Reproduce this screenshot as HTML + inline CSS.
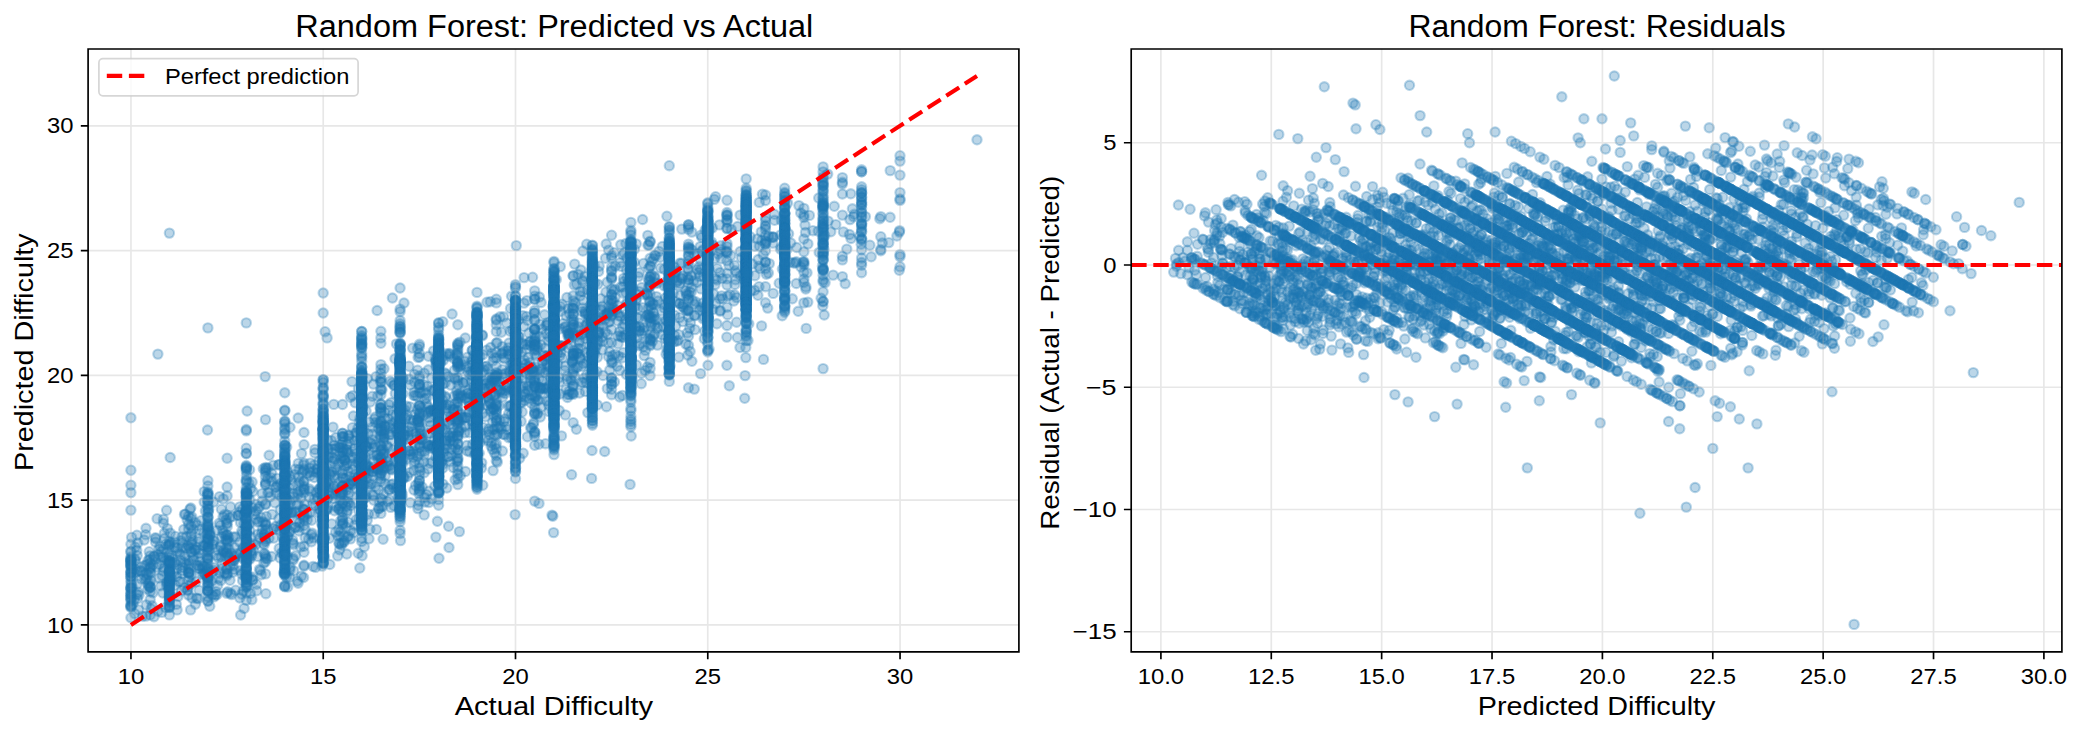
<!DOCTYPE html>
<html><head><meta charset="utf-8"><title>Random Forest</title><style>
html,body{margin:0;padding:0;background:#fff;width:2082px;height:734px;overflow:hidden}
svg{display:block}
text{font-family:"Liberation Sans",sans-serif;fill:#000}
</style></head><body>
<svg width="2082" height="734" viewBox="0 0 2082 734">
<defs><marker id="m" markerUnits="userSpaceOnUse" markerWidth="1" markerHeight="1" refX="0" refY="0" overflow="visible"><circle r="4.66" fill="#1f77b4" fill-opacity=".3" stroke="#1f77b4" stroke-opacity=".3" stroke-width="2.08"/></marker><clipPath id="cl"><rect x="88.1" y="49" width="930.8" height="602.9"/></clipPath><clipPath id="cr"><rect x="1131.2" y="49" width="930.7" height="602.9"/></clipPath></defs>
<g clip-path="url(#cl)"><path d="M130.9 417.8 130.9 470.2 130.9 485.2 130.9 492.6 130.9 510.1 130.9 544.3 130.9 551.4 130.9 551.9 130.9 557 130.9 558.6 130.9 559.5 130.9 560 130.9 560.9 130.9 560.9 130.9 561.6 130.9 562 130.9 564.2 130.9 565.1 130.9 565.4 130.9 566.2 130.9 566.3 130.9 569.5 130.9 572.2 130.9 573 130.9 573.2 130.9 576.5 130.9 576.6 130.9 576.8 130.9 580.2 130.9 583.1 130.9 587.5 130.9 587.6 130.9 588.1 130.9 589.1 130.9 591.4 130.9 593.6 130.9 594.7 130.9 595.3 130.9 597.6 130.9 597.9 130.9 599.3 130.9 601.1 130.9 605.1 130.9 605.9 130.9 606.4 130.9 607.4 130.9 617.7 131.2 572.3 131.5 584.1 131.6 537.4 131.8 567.7 132.3 587.3 132.9 604.3 133.8 573.4 134.2 600.1 134.7 559.1 134.8 613.7 135.3 547.1 135.4 569.2 135.6 560.8 136.8 550.4 136.9 594.4 136.9 535.2 137.2 555.6 137.2 584 137.4 571.7 137.5 598.7 137.8 543 138.4 592.3 138.6 609.9 139.1 595 140.1 570.4 140.7 571.5 140.8 567 141.3 578.9 142.5 616.2 143.8 575.2 144.2 540 144.9 565.4 145.5 579.5 145.7 534.7 145.9 616.1 146 528.3 146.3 573.2 146.3 604.9 146.6 578.2 146.9 564.6 147.9 589.1 147.9 560.8 147.9 583.7 148 574.6 148.3 585.4 149.2 551.7 149.5 582.9 149.5 559.5 150.2 555.9 150.2 566.5 150.2 567.8 150.2 568.8 150.2 572.3 150.2 586.8 150.2 587.3 150.2 587.4 150.2 591.7 150.2 599.6 150.2 614.9 150.2 562.6 150.9 573.1 150.9 580.8 151.1 609 152.1 605.8 152.9 592.8 153.1 565 153.7 556.9 154 616.7 154.4 556 155.1 559.2 155.4 537.7 155.5 542.1 155.8 538.8 156.7 567 157.1 518.7 157.9 354.1 158 611.2 158.3 554.5 158.9 549 159.1 578.1 159.4 564.5 160.1 546.6 160.4 557.3 160.9 585.8 161.3 551.4 161.7 612.4 162.1 575.4 162.9 593 163.1 571 163.2 557.5 163.4 523.3 163.4 519.3 163.4 549.1 163.7 568.2 164.3 533.3 164.8 538.4 164.8 561.1 165.6 607.4 165.7 544.1 166.4 584.9 166.6 510.3 166.7 582.4 167.1 560.1 167.4 528.6 167.9 552 167.9 583.8 168.5 589 168.6 545.6 169.3 557.4 169.4 233.1 169.4 541.6 169.4 544.1 169.4 544.9 169.4 555.2 169.4 560.2 169.4 561.7 169.4 561.7 169.4 561.8 169.4 562.5 169.4 563.7 169.4 564.2 169.4 568.8 169.4 569.5 169.4 570.7 169.4 571.3 169.4 571.3 169.4 572 169.4 572.3 169.4 573.3 169.4 574 169.4 576.4 169.4 578 169.4 580 169.4 580.1 169.4 580.1 169.4 580.6 169.4 580.8 169.4 581.9 169.4 582.9 169.4 583.7 169.4 584.1 169.4 584.3 169.4 585.6 169.4 586.3 169.4 587.1 169.4 588 169.4 589.7 169.4 590.2 169.4 591.2 169.4 593 169.4 593.7 169.4 594.8 169.4 595.4 169.4 596.4 169.4 596.9 169.4 597 169.4 597.5 169.4 599.7 169.4 600.4 169.4 601 169.4 602.4 169.4 605.6 169.4 606.2 169.4 607.4 169.4 607.5 169.4 614.9 169.6 576.3 169.7 580.1 170.2 457.5 170.2 533.1 170.9 578 171.1 576.1 171.1 542.6 171.4 562.5 171.6 555.4 173.4 572.3 174.3 562.8 174.6 542.3 174.9 547.2 175.2 585.3 175.2 562.5 175.3 536.4 176.3 604.4 176.5 576.4 176.8 569 177.1 609.9 177.1 564.6 177.2 551.5 177.4 547.9 178 596.4 178.7 581.7 179.3 553.3 180 581.5 180.6 560.4 180.7 554.6 181.2 540.6 181.4 590.7 182 547.2 182.2 536.9 182.2 570.6 182.3 542.8 182.5 573.5 182.7 567.4 183.8 529.5 184.3 562.8 184.5 514.4 184.8 587.6 184.9 556.3 185.3 514.2 186.2 548.1 186.2 563.8 186.4 536.5 187.2 519.9 187.2 590 187.8 590.1 187.9 545.4 188.6 516.1 188.6 524.2 188.6 529 188.6 546.6 188.6 561 188.6 565.8 188.6 568.7 188.6 572.2 188.6 572.6 188.6 573 188.6 580.4 188.6 595.1 188.9 577 188.9 585.7 189.6 563.2 189.8 573.2 190 548.5 190 509.3 190.6 609.9 190.6 551.9 190.8 508 190.9 525.9 190.9 518.6 191.1 535.9 191.3 533.4 191.5 583.3 191.5 574.6 191.6 542.5 191.7 552.4 191.8 544.5 191.8 516.9 192.1 598.1 192.3 539.8 193.1 556.7 193.5 529.3 193.6 559.9 194.6 549.6 195.4 522.8 195.4 604.2 195.4 550.2 196 581.8 196.7 598.1 197.1 547.8 197.1 565.5 197.4 525.4 198.1 541.7 198.1 598.6 198.2 557.2 198.6 568.3 198.7 565.8 198.9 553.3 199.1 590.4 199.3 529.8 199.4 538.9 199.5 568.4 199.6 561.4 199.9 550.1 201.2 520.7 202.3 574.5 202.5 568.2 202.7 565.9 203.3 545.5 203.8 533.1 203.9 573.6 204.2 502.1 204.2 491.6 204.3 573.3 204.3 566.2 204.5 546 205.3 574.9 205.4 511.1 206.2 573.6 207.1 571.3 207.2 533.1 207.2 558.2 207.5 430 207.9 327.9 207.9 480.7 207.9 486 207.9 492 207.9 493.5 207.9 493.7 207.9 495.3 207.9 495.5 207.9 500.5 207.9 500.6 207.9 501.3 207.9 504.8 207.9 506.2 207.9 508.8 207.9 512.4 207.9 516.7 207.9 517.2 207.9 517.9 207.9 522 207.9 523.6 207.9 524.7 207.9 526.4 207.9 526.7 207.9 527.6 207.9 529 207.9 530.8 207.9 534.1 207.9 537.2 207.9 538.4 207.9 538.9 207.9 540 207.9 542.6 207.9 544.6 207.9 546.8 207.9 546.9 207.9 548 207.9 550.1 207.9 551.8 207.9 555.8 207.9 557.9 207.9 558.8 207.9 559.9 207.9 563.8 207.9 569.1 207.9 569.8 207.9 576.8 207.9 577.4 207.9 577.7 207.9 579.8 207.9 580.3 207.9 582.8 207.9 583.6 207.9 585.9 207.9 586.4 207.9 590.2 207.9 590.6 207.9 591.1 207.9 591.2 207.9 596.7 207.9 600.9 207.9 601.3 207.9 567.9 208.1 576.7 208.3 511.6 208.7 509.5 209.4 540.8 209.6 549.2 209.8 606.2 209.8 532.1 210 535.2 210 534.9 211.7 581 212.2 594.9 212.5 571.6 213 544.4 213.1 541 213.6 502 213.9 567.6 214 540.6 214 596.9 214.1 570.1 215.3 594.8 215.9 591.6 216.8 555.5 216.8 594.7 217.1 530.4 217.6 585.4 217.9 550.1 218.4 557.9 218.5 578.6 219.3 523.2 219.5 496.7 219.9 573.2 220.4 547 220.4 525.3 220.7 546 220.8 580.4 221.2 556.8 221.4 509.3 221.6 536.4 222 568.7 222 563.3 222.7 530.1 223.1 516.8 223.3 533.1 223.3 550.4 223.3 498.9 223.5 552.3 224.6 573.1 224.6 514.5 225.5 540 225.5 535.8 225.8 556.8 226.2 553 226.2 520 226.2 551.9 226.5 593.2 226.7 524 226.7 569.2 226.8 575.7 227.1 458.2 227.1 487 227.1 495.9 227.1 515.1 227.1 522.9 227.1 534.8 227.1 535 227.1 539.4 227.1 540.3 227.1 542 227.1 547.7 227.1 554 227.1 568.9 227.1 573.7 227.1 573.9 227.3 526.5 227.6 591.7 228 555.7 228.7 537.7 228.9 549.1 229 557 229.2 541.9 229.8 517.6 230 580.3 230.5 506.8 230.5 593.1 230.6 565.6 231 553 231.5 594.6 232 560.3 232.6 516.4 232.9 572.1 232.9 565.7 233.2 537 233.8 560.3 234.1 569.4 234.4 560.1 234.5 547.5 234.9 557.6 235.7 536.9 235.7 590.2 236 556.2 237 553.8 238.1 515.5 238.2 515.3 239.1 512.2 239.7 542.1 239.8 506.9 239.9 598 240.4 570.7 240.5 522.6 240.6 615 240.7 552.6 241.7 531.4 241.7 574.3 241.7 594.1 242.4 509 242.5 533.2 242.6 558.3 242.6 580.7 242.8 547.8 243 556.8 243.2 590.9 243.8 515.2 244 523.7 244.1 608.4 244.2 547.7 244.4 571.1 245 512.8 245.5 518.7 246 555.9 246.1 587.5 246.3 322.9 246.3 429.5 246.3 430.9 246.3 448.2 246.3 453.2 246.3 453.7 246.3 465.5 246.3 466.6 246.3 467.8 246.3 468.1 246.3 469.1 246.3 470.9 246.3 479.8 246.3 480.9 246.3 482.3 246.3 487.7 246.3 490.7 246.3 491.4 246.3 492.6 246.3 492.6 246.3 493.4 246.3 494.2 246.3 495.8 246.3 496.4 246.3 497 246.3 497.4 246.3 499.7 246.3 502.1 246.3 502.5 246.3 502.8 246.3 503 246.3 504.4 246.3 504.8 246.3 508.7 246.3 509.9 246.3 510.7 246.3 510.7 246.3 511.6 246.3 511.8 246.3 512 246.3 512.7 246.3 513.3 246.3 513.6 246.3 519.1 246.3 519.1 246.3 519.1 246.3 520.6 246.3 523 246.3 524.6 246.3 525.7 246.3 526.4 246.3 526.8 246.3 527.2 246.3 527.9 246.3 530.9 246.3 531.3 246.3 531.5 246.3 533 246.3 533.7 246.3 533.9 246.3 534.1 246.3 536.8 246.3 538.8 246.3 539.2 246.3 539.3 246.3 540.5 246.3 540.8 246.3 542 246.3 542.6 246.3 543.4 246.3 545.5 246.3 545.5 246.3 548 246.3 548.2 246.3 548.5 246.3 549.4 246.3 552.2 246.3 552.2 246.3 552.9 246.3 552.9 246.3 554.1 246.3 554.6 246.3 555.9 246.3 557.4 246.3 558.5 246.3 560.2 246.3 560.4 246.3 562.5 246.3 562.8 246.3 563.6 246.3 567 246.3 567.8 246.3 568.4 246.3 568.5 246.3 570.2 246.3 571.1 246.3 574.4 246.3 574.8 246.3 575.7 246.3 576.3 246.3 577.3 246.3 577.7 246.3 577.8 246.3 578.6 246.3 579.2 246.3 579.4 246.3 582.7 246.3 582.8 246.3 584.7 246.3 586.1 246.3 593 246.3 600.2 246.5 475.4 246.8 493.2 247 504 247.1 411 247.2 558.4 247.4 509.3 247.4 586 247.6 550.7 247.8 525 248 495.5 248.2 559.5 248.2 576.5 248.9 483 249.4 524.1 249.6 469.7 249.7 530.4 249.9 500 249.9 559.3 250.3 511.5 250.4 593.4 250.8 551.5 250.8 488.5 251.2 537 251.3 545.4 251.6 577 251.7 555.6 251.7 553.4 251.9 599.7 252.1 482 252.2 507.6 252.5 579.9 252.8 580 252.9 491.5 253.2 543.6 253.8 550.5 254.8 514.4 255.6 544.7 255.8 504.4 256.1 511.2 256.2 519.1 256.5 584.2 256.7 590.8 257.6 556.4 257.7 522.1 257.8 534.3 258.1 508.6 259.1 521.4 259.5 569.4 259.6 506.4 259.9 538.2 260.5 570.6 261 517.3 261.3 574.8 261.6 533.3 262.2 493.6 262.3 501 262.5 529.5 263 521.8 263.1 543.2 263.3 468.8 263.9 563.1 264.1 553.4 264.2 534.7 264.2 544.6 264.4 537.2 264.4 534.3 265 554.3 265.2 376.6 265.4 476.4 265.5 419.6 265.5 467.4 265.5 470.3 265.5 472.3 265.5 482.3 265.5 484.2 265.5 484.8 265.5 503.9 265.5 504.7 265.5 522.9 265.5 525 265.5 530 265.5 539.4 265.5 541.4 265.5 556.2 265.5 558.3 265.5 561.8 265.5 573.9 265.8 524.4 265.9 593.7 266.1 468.4 266.3 516.5 267 529.2 267.2 558.8 267.6 478.3 267.8 492.8 268 468 269 492.5 269 538.3 269.1 455.3 270.2 496.8 270.9 477.6 271.6 556.5 271.6 473 272 514.4 272 481.5 273.3 465.3 273.4 528.6 273.7 538.1 274.8 502.8 275.5 526.5 275.7 487.4 276.1 486.8 276.2 492.9 276.8 529.3 277.1 478.4 277.7 485.3 278.6 465 278.9 518.8 279.2 548.4 279.3 464.4 279.4 494.9 279.7 530.2 280.1 557.9 280.4 509.6 280.7 525.1 280.7 483.5 281.3 553 281.9 496.8 282.8 552.9 282.8 486.3 282.8 537.8 283.6 573.1 283.8 521.5 283.9 542.1 284 526.7 284.1 490.3 284.8 392.8 284.8 410.2 284.8 410.9 284.8 421 284.8 421.9 284.8 423.8 284.8 428.1 284.8 429.9 284.8 433.2 284.8 434.3 284.8 441.1 284.8 445.2 284.8 445.2 284.8 445.7 284.8 448 284.8 449.7 284.8 452.1 284.8 452.2 284.8 454.6 284.8 455.6 284.8 456.2 284.8 456.5 284.8 457.5 284.8 458.9 284.8 460.9 284.8 461.2 284.8 461.3 284.8 462 284.8 463 284.8 463.7 284.8 464.2 284.8 464.6 284.8 464.7 284.8 465 284.8 466.5 284.8 466.6 284.8 467.6 284.8 468.5 284.8 468.9 284.8 471.3 284.8 472.9 284.8 474.1 284.8 474.5 284.8 474.5 284.8 475.6 284.8 476.5 284.8 476.6 284.8 476.9 284.8 480.1 284.8 480.4 284.8 481.1 284.8 482.5 284.8 483 284.8 483.7 284.8 483.8 284.8 484.1 284.8 484.5 284.8 487.5 284.8 489.1 284.8 490.6 284.8 491.2 284.8 491.7 284.8 492.1 284.8 494.7 284.8 495.8 284.8 496 284.8 496.6 284.8 497.9 284.8 498.3 284.8 499.2 284.8 500.7 284.8 502.4 284.8 503.3 284.8 503.6 284.8 504.4 284.8 505.6 284.8 506.9 284.8 508.6 284.8 508.7 284.8 509.4 284.8 510.1 284.8 512.2 284.8 512.7 284.8 513.1 284.8 513.5 284.8 513.7 284.8 514.4 284.8 515.1 284.8 515.7 284.8 516.7 284.8 516.8 284.8 517 284.8 519.3 284.8 520.4 284.8 521.3 284.8 522.4 284.8 523.1 284.8 523.1 284.8 523.8 284.8 524.8 284.8 525.5 284.8 527.6 284.8 528.2 284.8 529 284.8 529.2 284.8 529.2 284.8 529.3 284.8 530.4 284.8 532.8 284.8 534.1 284.8 537.5 284.8 537.7 284.8 538.8 284.8 539.7 284.8 540.7 284.8 540.8 284.8 542.2 284.8 542.3 284.8 544.7 284.8 545.3 284.8 546.1 284.8 547.4 284.8 547.5 284.8 549.1 284.8 549.5 284.8 550.1 284.8 550.7 284.8 550.9 284.8 551.1 284.8 552.1 284.8 553.7 284.8 554.2 284.8 554.5 284.8 554.7 284.8 554.8 284.8 555.4 284.8 555.7 284.8 555.9 284.8 556.3 284.8 560.2 284.8 560.6 284.8 560.6 284.8 561.2 284.8 563.6 284.8 564 284.8 564.3 284.8 564.8 284.8 568.1 284.8 568.3 284.8 568.8 284.8 569.7 284.8 570 284.8 572.1 284.8 572.7 284.8 573.9 284.8 574 284.8 574 284.8 575.6 284.8 585.4 284.8 586.4 284.8 586.8 285.1 525.3 285.3 507.2 285.9 497.8 286.3 490.7 286.3 522.1 286.6 479.5 286.6 577.1 286.7 447.1 287 523 287.3 500 287.3 513.6 287.3 471.6 287.4 555.9 287.5 536.9 287.5 510.2 287.8 587 288.1 535.9 288.5 505.1 289.6 488.4 289.6 500.2 289.7 531 289.7 475.9 289.8 577.3 289.8 569.9 289.9 531.9 290 427.3 290.2 567.2 290.5 513 290.6 502.3 290.7 479.3 291.8 513.1 292 512.1 292.6 540.1 292.9 543.1 293.2 560 293.2 558.3 293.2 485.1 293.4 493.3 293.6 544.8 293.7 570.9 294.2 497.1 294.7 474.6 294.8 512.2 295.2 527.3 295.2 469.2 295.3 527.6 295.6 555.8 296.7 511.4 296.8 521.8 296.9 504.8 297.3 581.1 297.6 493.3 298.1 583.3 298.2 494.7 298.2 418 298.3 463.4 298.7 504.5 298.8 477.1 298.9 483.9 298.9 531 299.1 469.5 299.2 526.9 299.6 522.3 299.8 482 300.1 491.1 300.5 515.3 300.5 547 300.9 498.2 301.4 576.2 301.5 453.6 302.3 472.3 303 508.7 303.6 577.5 303.7 482 303.8 465 304 432.5 304 444.7 304 463.1 304 469.2 304 470.8 304 481 304 486.5 304 488.5 304 492.7 304 509.6 304 509.7 304 515.2 304 516 304 518 304 520.2 304 525.5 304 546.3 304 552.3 304 565.2 304 566.2 304.1 489.7 304.7 504.2 305.2 537.8 305.2 529.6 307.2 513.8 307.3 520 307.4 473.4 308.7 538.9 309.2 497 309.3 488.9 309.7 513 309.7 490.9 309.8 472.3 309.9 468.1 310.2 475.8 310.3 463.1 311.2 534.6 311.4 541.8 311.6 520.2 312.1 533.1 312.6 503.8 313.1 566.4 313.3 471.8 313.6 537.8 314.2 499.2 314.3 477.5 314.4 465 314.9 453 314.9 449.4 315.2 505.6 315.5 567.4 316.1 492.5 317 472.7 317.2 468.4 317.5 469.5 317.5 498.1 318 497.2 318.9 461.5 319 512.6 319 489 319.1 509.1 319.6 493.1 319.7 489.3 320 538.6 320.3 473.8 320.7 510.6 321.1 478.4 321.5 486.4 321.7 523.9 322.3 566.1 322.4 473.3 323.1 497.4 323.2 293 323.2 313 323.2 379.6 323.2 379.9 323.2 382.5 323.2 387.6 323.2 388.2 323.2 389.8 323.2 395.1 323.2 395.4 323.2 396.9 323.2 397.9 323.2 402.4 323.2 404.5 323.2 404.6 323.2 408.7 323.2 409.2 323.2 410.3 323.2 411.9 323.2 412.6 323.2 414 323.2 415.8 323.2 416.4 323.2 416.6 323.2 416.7 323.2 418.1 323.2 419 323.2 420.1 323.2 420.7 323.2 420.7 323.2 420.9 323.2 421.2 323.2 422.5 323.2 422.8 323.2 423.2 323.2 423.3 323.2 423.7 323.2 425.7 323.2 426.8 323.2 426.8 323.2 428.1 323.2 428.7 323.2 428.7 323.2 429.1 323.2 429.1 323.2 429.5 323.2 429.5 323.2 429.8 323.2 429.9 323.2 430.1 323.2 430.2 323.2 430.8 323.2 431.4 323.2 432.4 323.2 433.1 323.2 433.6 323.2 433.8 323.2 434 323.2 434.3 323.2 434.9 323.2 435.9 323.2 436.5 323.2 437.2 323.2 437.9 323.2 438.1 323.2 438.9 323.2 439.6 323.2 440.2 323.2 440.9 323.2 441.8 323.2 443.8 323.2 444.3 323.2 444.6 323.2 445.1 323.2 445.8 323.2 446.2 323.2 448.1 323.2 448.5 323.2 448.6 323.2 448.7 323.2 449.9 323.2 450.3 323.2 450.4 323.2 451.1 323.2 451.6 323.2 451.7 323.2 452.3 323.2 452.3 323.2 452.5 323.2 452.6 323.2 452.8 323.2 454.4 323.2 454.4 323.2 454.6 323.2 455.7 323.2 457.2 323.2 458.3 323.2 458.4 323.2 459.3 323.2 459.6 323.2 459.9 323.2 460 323.2 460.3 323.2 460.9 323.2 460.9 323.2 461.9 323.2 462 323.2 462 323.2 462 323.2 462.8 323.2 463.8 323.2 464.5 323.2 466.1 323.2 466.3 323.2 466.5 323.2 466.8 323.2 467.2 323.2 467.4 323.2 468.1 323.2 468.2 323.2 468.3 323.2 469.1 323.2 469.2 323.2 470.1 323.2 470.2 323.2 470.8 323.2 471.2 323.2 471.4 323.2 471.4 323.2 471.6 323.2 471.8 323.2 472.4 323.2 472.8 323.2 474 323.2 474.2 323.2 474.8 323.2 475.1 323.2 475.2 323.2 476.1 323.2 476.5 323.2 477.4 323.2 478.6 323.2 479.4 323.2 479.4 323.2 479.6 323.2 479.8 323.2 480.1 323.2 481.6 323.2 481.8 323.2 481.9 323.2 482.3 323.2 482.5 323.2 483 323.2 483 323.2 485.2 323.2 485.3 323.2 486 323.2 486.6 323.2 486.6 323.2 487.2 323.2 488.3 323.2 488.5 323.2 488.7 323.2 488.9 323.2 488.9 323.2 489.1 323.2 490.2 323.2 490.2 323.2 490.9 323.2 491.1 323.2 491.1 323.2 492 323.2 492.2 323.2 493.2 323.2 493.8 323.2 493.8 323.2 493.9 323.2 494.3 323.2 494.6 323.2 497.1 323.2 497.5 323.2 497.7 323.2 498.2 323.2 498.4 323.2 498.7 323.2 498.9 323.2 499.6 323.2 500 323.2 500.3 323.2 500.6 323.2 500.7 323.2 500.8 323.2 501 323.2 501.2 323.2 501.2 323.2 501.4 323.2 501.9 323.2 503 323.2 503.7 323.2 503.8 323.2 504.4 323.2 505.4 323.2 505.8 323.2 505.9 323.2 506.4 323.2 507.1 323.2 507.3 323.2 507.5 323.2 509.7 323.2 510.1 323.2 512.5 323.2 513.2 323.2 514.8 323.2 514.9 323.2 515.3 323.2 515.9 323.2 516.4 323.2 517 323.2 517.1 323.2 517.1 323.2 517.4 323.2 517.4 323.2 517.5 323.2 517.8 323.2 519.2 323.2 519.5 323.2 519.6 323.2 519.6 323.2 519.8 323.2 519.9 323.2 520 323.2 520 323.2 520.5 323.2 520.8 323.2 521 323.2 521.2 323.2 523.6 323.2 524 323.2 525.1 323.2 525.9 323.2 525.9 323.2 526 323.2 526.1 323.2 526.7 323.2 528.6 323.2 528.7 323.2 530.3 323.2 530.7 323.2 532 323.2 532 323.2 532.9 323.2 533.5 323.2 535.6 323.2 536.3 323.2 537 323.2 537.3 323.2 537.9 323.2 538.6 323.2 538.7 323.2 538.7 323.2 538.7 323.2 538.9 323.2 539.6 323.2 540.1 323.2 540.4 323.2 540.4 323.2 540.5 323.2 540.5 323.2 540.9 323.2 541.4 323.2 541.4 323.2 541.6 323.2 541.7 323.2 541.7 323.2 541.8 323.2 542.8 323.2 542.9 323.2 543 323.2 543.6 323.2 543.7 323.2 544.7 323.2 545.2 323.2 545.6 323.2 546.1 323.2 546.8 323.2 546.9 323.2 548.6 323.2 548.6 323.2 548.7 323.2 548.7 323.2 548.9 323.2 548.9 323.2 549.4 323.2 549.6 323.2 550.6 323.2 551.4 323.2 551.9 323.2 552.1 323.2 552.4 323.2 552.5 323.2 554.4 323.2 555 323.2 555.2 323.2 556 323.2 556.8 323.2 557.3 323.2 557.4 323.2 557.4 323.2 557.6 323.2 557.8 323.2 561.9 323.2 562.6 323.2 563 323.2 563.3 323.2 563.7 323.6 453.9 323.6 474.5 323.6 513.9 324 496 324.2 480.6 324.3 537.7 324.5 538.2 324.6 556.7 325.1 331.7 325.2 471.9 325.2 469.4 325.6 486.3 325.8 484.9 326 509.5 326.1 472.9 326.2 464.2 326.7 481.5 327.1 337.9 327.1 439.7 327.3 499.3 327.3 509.8 327.3 499 327.6 508.1 328.1 448.4 328.3 449.2 328.4 457.3 328.8 484.3 329.4 538.3 329.6 495.7 329.8 564.5 330 474.4 330.4 481.6 331.4 440.7 331.6 471.6 331.7 523.9 332 452.8 332.2 457.7 332.8 493.8 332.8 449 332.8 472 332.9 461.4 332.9 488.1 333 427.1 333.2 498.6 333.7 492 333.8 404.4 333.8 458.2 334.1 475.7 334.2 486.2 334.5 510.8 334.5 445.4 334.5 477.9 334.8 459.3 335.5 467.9 335.5 449 335.6 494.2 335.7 532.1 335.9 437.5 336.2 506.6 336.5 490 336.9 469.9 337.7 555.9 338 535.9 338.5 509.2 338.7 463.8 338.8 529.6 338.9 543.2 338.9 508.7 338.9 447.2 339.3 447.4 339.5 543.8 339.6 549.8 339.7 506.2 339.9 536 340 500.2 340.1 496.6 340.3 481.3 340.6 531.3 340.7 447.5 340.7 520.9 340.8 458.6 340.9 493.7 340.9 510.8 340.9 489.2 341.4 444.4 341.5 545.3 341.8 543.3 342.2 456.6 342.5 404.5 342.5 433.2 342.5 433.4 342.5 436.5 342.5 436.7 342.5 447.9 342.5 452 342.5 452.2 342.5 461.8 342.5 470.9 342.5 473.5 342.5 477.5 342.5 486 342.5 486 342.5 486.6 342.5 492.8 342.5 494.3 342.5 503.3 342.5 503.6 342.5 512 342.5 517.4 342.5 520.3 342.5 523.9 342.5 524.8 342.5 485.5 342.6 490.7 342.7 442.3 343.2 522.6 343.4 455.9 343.6 478.4 343.7 449.1 343.8 437.3 344 542.3 344 500.4 344 458.5 344.1 536 344.1 540.7 344.6 459.9 345 460.4 345 466.4 345.6 478.4 345.7 527 346.1 506.5 346.6 490.1 346.6 451.5 346.6 465.5 346.7 449.6 346.8 554 346.9 486.8 346.9 512.8 347.2 444.7 347.3 537 347.4 510.6 347.5 501.6 347.6 463.2 348.2 471.6 348.4 522.4 348.4 452.7 348.4 495.9 348.6 536.3 348.6 435.9 348.9 441.4 349 503.2 349 435 349 493 349.1 438.3 349.2 483.8 349.6 476.4 350.2 483.8 350.4 397.2 350.5 505.5 350.5 538.9 350.8 530.6 351.9 480.9 352 381.6 352.2 483.9 352.3 464 352.4 451.3 352.4 427.7 352.5 484.8 352.5 395.7 352.6 469.7 352.7 457.3 353.1 481 353.4 416 353.5 458.8 353.6 502.9 353.6 532.6 354.5 448.4 354.6 440.5 354.8 525.1 355.1 474.1 355.2 402.8 355.7 433 355.8 480.3 355.8 453.6 356.2 519.5 356.3 488.9 356.6 432.7 357.3 462.8 357.9 428.3 358.2 553.3 358.3 443.2 358.4 476.7 358.5 388.7 358.6 477 358.7 459.8 358.7 510.5 358.8 463 359 518.8 359.1 471.7 359.1 494.7 359.3 422 359.8 568 360 440.7 360 484.6 360 432.3 360 418.1 360.9 438.2 361.5 524.1 361.7 331.5 361.7 331.5 361.7 335.7 361.7 337.4 361.7 338.9 361.7 339.1 361.7 340.9 361.7 342.9 361.7 343.8 361.7 344.6 361.7 344.9 361.7 346.9 361.7 347.5 361.7 348.4 361.7 353.4 361.7 356.1 361.7 357.8 361.7 361.4 361.7 366.6 361.7 367 361.7 367.5 361.7 371 361.7 371.2 361.7 372.8 361.7 373 361.7 373.3 361.7 374.2 361.7 374.4 361.7 374.5 361.7 374.7 361.7 375.8 361.7 376.4 361.7 376.5 361.7 376.9 361.7 376.9 361.7 377.7 361.7 377.9 361.7 378.3 361.7 379.9 361.7 380 361.7 380.9 361.7 381 361.7 381.2 361.7 381.7 361.7 381.9 361.7 382.1 361.7 383.1 361.7 383.2 361.7 383.3 361.7 384.9 361.7 385.3 361.7 385.8 361.7 386.3 361.7 386.8 361.7 387 361.7 387.2 361.7 387.7 361.7 387.9 361.7 388.2 361.7 388.9 361.7 389 361.7 389.1 361.7 389.6 361.7 390 361.7 390.1 361.7 390.5 361.7 391.9 361.7 392.1 361.7 392.5 361.7 393.7 361.7 394.4 361.7 394.6 361.7 394.9 361.7 395.1 361.7 395.4 361.7 396 361.7 396.1 361.7 396.3 361.7 397.1 361.7 397.1 361.7 397.8 361.7 397.9 361.7 398.3 361.7 398.4 361.7 398.8 361.7 399.2 361.7 399.4 361.7 399.4 361.7 399.8 361.7 399.9 361.7 400.3 361.7 400.3 361.7 400.5 361.7 400.6 361.7 400.6 361.7 401.3 361.7 402.4 361.7 404.1 361.7 404.5 361.7 404.8 361.7 405.3 361.7 405.7 361.7 405.9 361.7 406.4 361.7 407 361.7 407.4 361.7 407.4 361.7 407.9 361.7 408.1 361.7 408.1 361.7 408.2 361.7 408.9 361.7 409.1 361.7 409.2 361.7 409.8 361.7 410.1 361.7 410.2 361.7 410.3 361.7 410.6 361.7 412.3 361.7 412.4 361.7 412.5 361.7 412.6 361.7 413.2 361.7 413.3 361.7 413.4 361.7 413.4 361.7 413.5 361.7 413.7 361.7 413.8 361.7 414 361.7 414.1 361.7 414.3 361.7 414.4 361.7 414.5 361.7 414.7 361.7 414.7 361.7 415.3 361.7 416.6 361.7 416.6 361.7 419.2 361.7 420.3 361.7 421.1 361.7 422.9 361.7 422.9 361.7 424.1 361.7 424.5 361.7 424.6 361.7 425 361.7 425.2 361.7 425.3 361.7 426.2 361.7 426.3 361.7 427.1 361.7 427.5 361.7 427.9 361.7 428.1 361.7 429.1 361.7 429.6 361.7 429.7 361.7 429.8 361.7 430.5 361.7 431.1 361.7 431.3 361.7 431.3 361.7 431.9 361.7 432.5 361.7 432.6 361.7 433.1 361.7 433.2 361.7 433.4 361.7 433.9 361.7 434 361.7 434.4 361.7 434.6 361.7 435.8 361.7 436.9 361.7 438.1 361.7 438.4 361.7 438.6 361.7 438.8 361.7 438.9 361.7 439.1 361.7 439.5 361.7 439.6 361.7 440 361.7 440.9 361.7 441.1 361.7 441.3 361.7 441.4 361.7 442.8 361.7 443 361.7 443.3 361.7 443.5 361.7 443.9 361.7 444 361.7 444.3 361.7 444.5 361.7 444.5 361.7 444.6 361.7 444.9 361.7 445 361.7 445 361.7 445.5 361.7 445.6 361.7 446.4 361.7 446.5 361.7 446.6 361.7 447.3 361.7 447.3 361.7 447.5 361.7 449.4 361.7 450 361.7 450.5 361.7 450.5 361.7 450.9 361.7 451.1 361.7 451.3 361.7 451.3 361.7 451.8 361.7 451.9 361.7 451.9 361.7 452.5 361.7 452.7 361.7 453.4 361.7 453.7 361.7 453.8 361.7 454 361.7 454.1 361.7 455 361.7 455.3 361.7 455.8 361.7 456 361.7 456.3 361.7 456.9 361.7 457.4 361.7 457.5 361.7 458.1 361.7 458.4 361.7 458.6 361.7 458.9 361.7 459.8 361.7 461 361.7 462.8 361.7 462.9 361.7 463.3 361.7 463.4 361.7 463.7 361.7 463.8 361.7 464.2 361.7 464.4 361.7 465.5 361.7 466.1 361.7 466.2 361.7 466.8 361.7 467 361.7 467.6 361.7 468.2 361.7 468.3 361.7 468.9 361.7 469.1 361.7 469.3 361.7 469.8 361.7 470.1 361.7 470.7 361.7 470.9 361.7 470.9 361.7 471.2 361.7 471.9 361.7 472.1 361.7 472.1 361.7 473.7 361.7 474.5 361.7 474.8 361.7 475.4 361.7 475.7 361.7 476 361.7 476.2 361.7 476.2 361.7 476.3 361.7 477.2 361.7 478 361.7 478.1 361.7 478.3 361.7 478.5 361.7 479.1 361.7 479.2 361.7 479.8 361.7 479.8 361.7 479.9 361.7 480 361.7 480.2 361.7 480.7 361.7 481.2 361.7 481.9 361.7 481.9 361.7 482.5 361.7 482.8 361.7 483.3 361.7 483.4 361.7 483.7 361.7 484.1 361.7 485.3 361.7 485.4 361.7 485.5 361.7 485.5 361.7 486 361.7 486.2 361.7 486.3 361.7 486.4 361.7 487.5 361.7 487.8 361.7 488.1 361.7 488.6 361.7 488.8 361.7 489 361.7 489.2 361.7 489.8 361.7 489.9 361.7 491.6 361.7 492.8 361.7 492.8 361.7 492.9 361.7 493.7 361.7 493.8 361.7 493.9 361.7 494.4 361.7 494.7 361.7 494.8 361.7 496 361.7 496.4 361.7 497.6 361.7 498.8 361.7 499.2 361.7 499.5 361.7 499.6 361.7 500.6 361.7 500.7 361.7 500.9 361.7 501 361.7 501.3 361.7 501.5 361.7 502.1 361.7 502.5 361.7 503 361.7 503.1 361.7 503.3 361.7 504.5 361.7 505.4 361.7 505.7 361.7 506 361.7 506 361.7 506.1 361.7 506.2 361.7 506.3 361.7 506.7 361.7 507.1 361.7 509.5 361.7 509.7 361.7 509.9 361.7 510 361.7 510.2 361.7 510.5 361.7 511.5 361.7 512.3 361.7 512.8 361.7 512.8 361.7 512.8 361.7 513.4 361.7 513.5 361.7 513.8 361.7 513.9 361.7 516.8 361.7 516.8 361.7 518.1 361.7 518.4 361.7 518.7 361.7 519.1 361.7 519.2 361.7 519.6 361.7 520 361.7 520.3 361.7 520.4 361.7 520.7 361.7 520.8 361.7 521.8 361.7 522.1 361.7 523.2 361.7 523.6 361.7 523.8 361.7 524.2 361.7 524.9 361.7 526.3 361.7 526.8 361.7 527.2 361.7 529.9 361.7 529.9 361.7 530.9 361.7 538.1 361.7 541.5 361.8 485.5 361.8 451.6 361.9 437.5 362.1 555.8 362.3 470.6 362.4 458.2 362.5 530.9 362.6 514.8 362.8 406 363 430.9 363.3 438.4 363.4 439 364 498.2 364.3 546.7 364.7 475.5 364.9 460 364.9 484.8 365.1 444.8 365.3 456.4 365.7 466.3 365.7 495.3 365.9 447.2 365.9 465.6 366.1 411.1 366.2 497.2 366.2 468.4 366.3 446.9 366.3 470 366.5 478.6 366.8 464.6 366.9 446.4 367.3 520.1 367.4 378.6 368.3 433.7 368.5 514.1 368.7 451 368.7 470.8 368.8 466.8 368.8 473.3 369 486.4 369 538.8 369 422.1 370 529.3 370.2 402 370.5 443.2 370.6 484.5 371.7 483.3 371.8 443.9 372.3 396.3 372.3 439.9 372.4 434.1 372.4 427.2 372.6 495 372.6 471.4 372.8 476.5 373 471.9 373.4 384.1 373.5 495.8 373.5 467.2 373.8 461 373.8 500.2 374 455 374 447.3 374.4 419 374.7 513.8 375.4 444.4 375.5 416.9 375.5 486.6 375.6 422.5 376 376.7 376.4 529.5 376.6 455.1 377.1 310.5 377.2 468.8 377.7 469.5 377.8 395.9 377.9 454.8 378.1 458.8 378.4 468.6 378.4 423.3 378.4 428.5 378.7 508.8 378.8 467.4 378.8 508.5 378.8 490 379.5 502.3 379.6 475.7 380 408 380 435 380.5 457.6 380.7 445.3 380.9 331.3 380.9 337.9 380.9 343.3 380.9 364.6 380.9 369.1 380.9 373.5 380.9 378.6 380.9 379.2 380.9 382 380.9 382.2 380.9 388.9 380.9 390.3 380.9 394.7 380.9 404.1 380.9 404.3 380.9 407.7 380.9 408.2 380.9 410.1 380.9 412.5 380.9 413.1 380.9 421 380.9 421.4 380.9 423 380.9 425.7 380.9 428 380.9 431.1 380.9 438.5 380.9 445.9 380.9 451.2 380.9 457.8 380.9 459.7 380.9 466.5 380.9 469.5 380.9 473.2 380.9 474.2 380.9 479 380.9 481.4 380.9 498.3 380.9 506.7 380.9 513.4 381.3 436.1 381.3 449.6 381.5 431 381.6 462.5 381.6 463.6 382 389.7 382.1 470.8 382.3 499.9 382.8 463.3 382.8 448.8 382.9 506.4 383.1 467.2 383.1 539.2 383.3 455 383.4 441.7 383.5 493.8 383.7 434.5 383.8 451.3 384 368.7 384 453.3 384.1 436.8 384.2 438 384.3 431.9 384.5 468.8 384.7 429.9 384.7 412.6 384.9 426.2 384.9 418.6 385.1 475.9 385.1 425.8 385.1 483.7 386.5 457.8 386.8 466.7 386.9 445.6 387.4 501.4 387.8 461.6 387.8 418.7 387.9 447.2 388.9 404.7 389 410.4 389.2 489.6 389.3 489.5 389.3 460.1 389.4 499.7 389.7 465.7 389.7 434.6 389.9 424.7 390.2 381.2 390.3 428.1 390.7 507.4 390.7 434.6 391 469.1 391 402.7 391.1 484.7 391.4 440.3 391.8 383 391.9 467.9 392 469.9 392.4 298 392.5 414.6 392.8 483.9 392.9 424.1 393 449.9 393.3 488 393.8 385.1 394 505.8 394.3 385.1 394.9 461.3 395 358.8 395 428.4 395.1 421.4 395.3 393.6 395.8 490.1 396 414.8 396.1 431.5 396.5 343.9 396.7 487.6 397.2 452.5 397.5 405.2 397.7 433.9 397.8 423.8 397.9 498.2 397.9 432.5 398.8 457.4 399.1 456 399.4 395.8 399.7 429.3 399.7 433.2 399.9 456 400 398.4 400.1 435.8 400.1 501.7 400.1 288 400.1 309.1 400.1 311.7 400.1 320.6 400.1 323.8 400.1 326.2 400.1 326.9 400.1 328.6 400.1 330 400.1 331.9 400.1 332.4 400.1 333.1 400.1 343.2 400.1 343.7 400.1 344.5 400.1 345 400.1 345.6 400.1 346.1 400.1 349.1 400.1 349.9 400.1 350.2 400.1 350.4 400.1 350.9 400.1 353.9 400.1 355.3 400.1 355.5 400.1 357.9 400.1 358.2 400.1 358.6 400.1 358.9 400.1 359.4 400.1 359.7 400.1 359.8 400.1 360 400.1 360.2 400.1 360.4 400.1 360.8 400.1 362 400.1 362.1 400.1 362.1 400.1 362.6 400.1 363 400.1 363.3 400.1 363.4 400.1 363.5 400.1 363.6 400.1 364.2 400.1 364.4 400.1 364.4 400.1 364.6 400.1 364.7 400.1 364.9 400.1 365.5 400.1 365.8 400.1 367.2 400.1 367.3 400.1 367.4 400.1 367.5 400.1 369.1 400.1 370.1 400.1 370.6 400.1 370.6 400.1 372.1 400.1 373 400.1 373.2 400.1 373.3 400.1 374.3 400.1 374.8 400.1 375.1 400.1 375.2 400.1 375.6 400.1 376.4 400.1 376.4 400.1 376.8 400.1 377 400.1 378.4 400.1 378.7 400.1 378.8 400.1 379.4 400.1 380.4 400.1 380.6 400.1 381.3 400.1 381.5 400.1 382.3 400.1 382.5 400.1 382.7 400.1 382.8 400.1 383.2 400.1 383.3 400.1 383.9 400.1 383.9 400.1 384 400.1 384 400.1 384 400.1 384.8 400.1 384.8 400.1 384.9 400.1 385 400.1 385 400.1 386.2 400.1 386.4 400.1 387.1 400.1 387.7 400.1 387.8 400.1 388.1 400.1 388.3 400.1 388.5 400.1 388.6 400.1 388.7 400.1 388.8 400.1 389.2 400.1 389.3 400.1 389.4 400.1 389.8 400.1 390.4 400.1 390.8 400.1 391.2 400.1 391.4 400.1 391.5 400.1 391.8 400.1 391.9 400.1 392.3 400.1 393.2 400.1 393.8 400.1 393.8 400.1 394.1 400.1 394.6 400.1 394.7 400.1 394.8 400.1 395.8 400.1 396.1 400.1 396.5 400.1 396.7 400.1 396.8 400.1 397.2 400.1 397.8 400.1 397.8 400.1 398.4 400.1 399.6 400.1 399.6 400.1 399.9 400.1 400 400.1 401.3 400.1 402.4 400.1 402.6 400.1 403.1 400.1 403.4 400.1 403.5 400.1 404.3 400.1 404.5 400.1 405 400.1 405 400.1 405.2 400.1 405.6 400.1 405.9 400.1 406 400.1 406.5 400.1 406.5 400.1 406.7 400.1 406.9 400.1 407.2 400.1 407.9 400.1 408.1 400.1 408.7 400.1 408.8 400.1 410.3 400.1 410.5 400.1 410.8 400.1 410.8 400.1 410.9 400.1 411.1 400.1 411.2 400.1 411.5 400.1 411.7 400.1 412.2 400.1 412.2 400.1 412.3 400.1 412.5 400.1 412.6 400.1 413.2 400.1 413.5 400.1 413.5 400.1 413.6 400.1 413.9 400.1 415.3 400.1 416.5 400.1 417.2 400.1 417.7 400.1 419 400.1 419.4 400.1 420.7 400.1 420.8 400.1 420.9 400.1 421.2 400.1 421.4 400.1 421.8 400.1 422.9 400.1 423.1 400.1 423.8 400.1 424.2 400.1 424.4 400.1 424.5 400.1 424.7 400.1 425.1 400.1 425.2 400.1 425.5 400.1 425.5 400.1 425.7 400.1 425.8 400.1 427.2 400.1 427.5 400.1 428 400.1 428.7 400.1 428.7 400.1 429.5 400.1 430.7 400.1 430.8 400.1 432.9 400.1 432.9 400.1 433.5 400.1 434.2 400.1 435.3 400.1 436.5 400.1 437.3 400.1 437.4 400.1 437.5 400.1 437.6 400.1 437.7 400.1 437.8 400.1 437.9 400.1 438.6 400.1 438.7 400.1 439.4 400.1 439.5 400.1 440.7 400.1 440.8 400.1 441.3 400.1 441.4 400.1 441.6 400.1 441.7 400.1 441.9 400.1 442 400.1 442.4 400.1 442.8 400.1 445.2 400.1 445.2 400.1 445.6 400.1 446.2 400.1 446.5 400.1 446.6 400.1 446.8 400.1 447.2 400.1 447.3 400.1 447.6 400.1 447.6 400.1 447.7 400.1 448.1 400.1 448.2 400.1 448.8 400.1 448.8 400.1 448.9 400.1 449.4 400.1 449.5 400.1 449.7 400.1 450.9 400.1 450.9 400.1 451.7 400.1 452.1 400.1 452.6 400.1 453.6 400.1 453.7 400.1 454 400.1 455 400.1 455.2 400.1 455.4 400.1 455.4 400.1 455.5 400.1 456.1 400.1 456.2 400.1 456.4 400.1 456.7 400.1 456.9 400.1 457 400.1 457.4 400.1 457.5 400.1 457.8 400.1 458.1 400.1 459.7 400.1 459.7 400.1 459.8 400.1 460.5 400.1 461 400.1 461.1 400.1 461.9 400.1 462.4 400.1 463 400.1 463.4 400.1 463.4 400.1 465.7 400.1 465.8 400.1 466.3 400.1 467 400.1 467.1 400.1 467.7 400.1 467.9 400.1 467.9 400.1 468.1 400.1 468.6 400.1 469 400.1 469.4 400.1 469.8 400.1 469.9 400.1 469.9 400.1 470.2 400.1 470.5 400.1 470.8 400.1 471.1 400.1 471.4 400.1 471.6 400.1 471.6 400.1 473.4 400.1 473.6 400.1 474.2 400.1 474.5 400.1 474.6 400.1 475.4 400.1 476 400.1 476 400.1 476 400.1 476.2 400.1 476.3 400.1 477.3 400.1 477.4 400.1 477.5 400.1 478.5 400.1 478.8 400.1 478.9 400.1 479.4 400.1 479.6 400.1 480.8 400.1 481.1 400.1 481.2 400.1 481.7 400.1 482.1 400.1 482.3 400.1 482.4 400.1 483.7 400.1 484.2 400.1 484.2 400.1 484.5 400.1 485.3 400.1 485.5 400.1 485.7 400.1 485.8 400.1 485.8 400.1 486.4 400.1 486.8 400.1 486.9 400.1 487.2 400.1 488.1 400.1 489.8 400.1 489.9 400.1 489.9 400.1 490.4 400.1 491.1 400.1 491.1 400.1 491.3 400.1 491.5 400.1 492.6 400.1 492.6 400.1 493 400.1 495.1 400.1 496 400.1 496.2 400.1 496.5 400.1 497.4 400.1 498.3 400.1 499.3 400.1 499.8 400.1 499.8 400.1 500.9 400.1 501 400.1 501.1 400.1 501.2 400.1 501.6 400.1 501.7 400.1 502.4 400.1 502.6 400.1 505.2 400.1 505.7 400.1 506.8 400.1 506.9 400.1 507.8 400.1 509.1 400.1 509.5 400.1 509.8 400.1 509.9 400.1 510 400.1 510.2 400.1 511.6 400.1 512.4 400.1 513 400.1 514.6 400.1 516.4 400.1 516.6 400.1 518.9 400.1 521.7 400.1 530.3 400.1 533.5 400.4 444.1 400.5 540.6 400.7 443.5 400.7 417.7 400.8 403.4 401.1 454.7 401.6 491.9 402 497.8 402.1 494.6 402.1 479.5 402.3 442.1 402.3 379.1 402.3 459.8 402.4 472.4 402.4 464.3 402.5 450.7 402.6 410.3 402.9 393.8 402.9 459.8 403.2 377.9 403.3 429.1 403.5 477.1 403.9 434.7 403.9 435.8 404 303 404.3 477.9 404.9 409.9 405.1 459.9 405.2 435.1 405.4 417.7 405.4 419.3 406.5 439.4 406.5 406.1 407.3 415.8 407.3 476.4 408.4 437.4 408.5 431 408.7 435.6 408.9 450.6 408.9 366.2 409.1 379.2 409.2 450.9 409.2 427 409.6 472.7 410.1 406.9 410.2 384.9 410.3 454.4 410.3 419.6 410.3 502.7 410.6 451.6 412 426.2 412.7 348.1 412.8 431.6 413.1 457.3 413.2 453.8 413.3 451.2 413.7 420.6 413.7 470.6 413.8 395.5 414 490 414 392.4 414.1 463.7 414.4 374.4 414.5 382 414.8 461.5 414.9 414.6 415.3 395.7 415.5 445.6 415.5 433.3 415.6 485.4 416.6 436 417.2 396.1 417.3 422.1 417.3 409.8 417.4 456.4 417.5 348.6 417.5 419.9 417.6 370.2 417.8 419.5 417.9 508.6 418.1 357.4 418.2 505.2 418.4 483.3 418.6 424.4 418.9 418.1 419 493.7 419 421.4 419.3 405.6 419.4 344.3 419.4 346.5 419.4 353.5 419.4 357 419.4 376 419.4 378.4 419.4 384.1 419.4 384.4 419.4 385.3 419.4 387.6 419.4 405.4 419.4 415.7 419.4 417.2 419.4 422.4 419.4 428 419.4 434.2 419.4 444.1 419.4 453.4 419.4 463.1 419.4 468 419.4 474.9 419.4 480.6 419.4 480.6 419.4 486 419.4 488.6 419.4 490.2 419.4 491.5 419.4 501.3 419.5 412.3 419.5 392.8 419.7 438.9 419.8 447.5 419.8 413.1 419.8 446.1 419.9 406.1 420 470.9 420.1 427.3 420.7 439.2 420.8 430.2 421 392.9 421.1 433.7 421.2 407.7 421.8 451.4 422 437.5 422.1 487 422.3 439.5 423.3 415.3 423.7 391.8 423.7 461.9 424 384.7 424.2 455.1 424.2 514.9 424.2 472.8 424.3 373.2 424.6 451.3 424.6 497.4 424.7 398.7 425 502 426 393.6 426.3 403.6 426.3 443.9 426.5 494.7 426.6 398.1 427.1 386.4 427.2 433.7 427.2 413 428 446.4 428.1 468.9 428.3 369.8 428.4 412 428.4 445.2 428.5 356.3 428.6 407.3 428.8 491.2 428.9 502.5 428.9 417.7 429.4 445.4 429.7 422 430.2 463.4 430.3 410.7 430.5 433.4 430.5 411.9 430.5 425.3 430.7 448.3 431 409.9 431.3 445.1 431.6 498.9 431.8 378.1 431.9 390.3 432.3 461.9 432.8 447.9 433 446.6 433.1 409.9 433.6 350.9 433.6 391 433.8 411.1 434 389.5 434.3 410.1 434.3 439.8 434.8 486.2 435.1 430.2 435.3 359 435.5 449.3 435.8 412.8 435.9 537.1 435.9 456.8 436 361.6 436.1 366.9 436.2 359.9 436.2 361.5 436.3 364.3 436.4 409.9 436.4 444 436.6 430.7 436.9 450.8 437.4 442 437.4 436 437.4 521.3 437.5 377.6 437.5 393.9 437.5 397.3 437.8 353.8 438.4 412.4 438.4 373.5 438.6 322.7 438.6 323.5 438.6 327.4 438.6 329.9 438.6 334.8 438.6 337.3 438.6 337.9 438.6 338.9 438.6 339.4 438.6 339.7 438.6 340.3 438.6 341.8 438.6 342.4 438.6 343.5 438.6 343.7 438.6 344 438.6 344.7 438.6 345.2 438.6 347.3 438.6 347.5 438.6 347.8 438.6 348.8 438.6 348.9 438.6 349 438.6 349.3 438.6 350.1 438.6 350.2 438.6 350.8 438.6 351.2 438.6 351.5 438.6 352.8 438.6 352.9 438.6 354.2 438.6 355.3 438.6 355.3 438.6 356 438.6 356.5 438.6 356.5 438.6 356.6 438.6 357.3 438.6 357.4 438.6 357.5 438.6 358.1 438.6 358.3 438.6 359.1 438.6 359.2 438.6 359.6 438.6 360.3 438.6 361.5 438.6 361.6 438.6 361.7 438.6 361.8 438.6 361.8 438.6 361.8 438.6 362.2 438.6 362.6 438.6 362.9 438.6 363.8 438.6 364.1 438.6 364.2 438.6 365.3 438.6 365.9 438.6 366.2 438.6 366.3 438.6 366.5 438.6 366.5 438.6 366.6 438.6 366.9 438.6 367 438.6 367 438.6 367.9 438.6 368.1 438.6 368.6 438.6 369 438.6 369 438.6 369.3 438.6 370 438.6 370.5 438.6 370.6 438.6 371.1 438.6 372.1 438.6 372.5 438.6 373 438.6 373.1 438.6 373.2 438.6 373.3 438.6 373.6 438.6 374 438.6 375.1 438.6 375.5 438.6 375.6 438.6 375.8 438.6 376.3 438.6 376.6 438.6 377.1 438.6 377.6 438.6 377.7 438.6 377.7 438.6 378.1 438.6 378.1 438.6 378.5 438.6 378.6 438.6 379.6 438.6 379.8 438.6 380.3 438.6 381 438.6 381.9 438.6 382 438.6 382.7 438.6 382.8 438.6 383.2 438.6 383.2 438.6 383.3 438.6 383.6 438.6 383.9 438.6 384.4 438.6 384.5 438.6 384.8 438.6 384.8 438.6 384.8 438.6 385.5 438.6 385.5 438.6 385.8 438.6 386.4 438.6 386.5 438.6 387 438.6 387 438.6 387.1 438.6 387.8 438.6 387.8 438.6 388.1 438.6 388.7 438.6 389 438.6 389.1 438.6 389.3 438.6 390.5 438.6 390.5 438.6 390.8 438.6 390.9 438.6 391.3 438.6 393.1 438.6 394 438.6 394.2 438.6 394.3 438.6 394.9 438.6 395 438.6 395.2 438.6 395.5 438.6 395.6 438.6 395.9 438.6 396.2 438.6 396.5 438.6 397.1 438.6 397.3 438.6 397.4 438.6 397.7 438.6 398.2 438.6 398.5 438.6 398.6 438.6 398.7 438.6 399.2 438.6 399.6 438.6 399.6 438.6 399.8 438.6 400 438.6 400.2 438.6 400.3 438.6 400.4 438.6 402 438.6 402.1 438.6 403.1 438.6 403.3 438.6 403.7 438.6 404.1 438.6 404.4 438.6 404.4 438.6 405.1 438.6 405.1 438.6 405.7 438.6 406 438.6 406.1 438.6 406.5 438.6 406.6 438.6 406.8 438.6 407.9 438.6 408.7 438.6 408.8 438.6 409.7 438.6 409.9 438.6 410 438.6 410.2 438.6 410.5 438.6 411 438.6 411.1 438.6 411.2 438.6 411.4 438.6 411.5 438.6 411.9 438.6 412.5 438.6 412.8 438.6 413.1 438.6 413.5 438.6 413.6 438.6 413.8 438.6 413.9 438.6 414 438.6 414.1 438.6 415.2 438.6 415.6 438.6 416.2 438.6 417 438.6 417.4 438.6 417.6 438.6 418.3 438.6 418.5 438.6 419.2 438.6 419.3 438.6 420.4 438.6 420.8 438.6 420.8 438.6 421.6 438.6 421.8 438.6 422.3 438.6 422.4 438.6 422.5 438.6 422.6 438.6 422.6 438.6 422.6 438.6 422.8 438.6 422.8 438.6 423 438.6 423.2 438.6 423.5 438.6 423.7 438.6 423.8 438.6 424.1 438.6 424.5 438.6 424.7 438.6 424.7 438.6 424.9 438.6 425.1 438.6 425.5 438.6 426.2 438.6 427.4 438.6 427.9 438.6 428.8 438.6 428.9 438.6 429 438.6 429.1 438.6 429.6 438.6 429.6 438.6 430.8 438.6 431.1 438.6 431.7 438.6 433.3 438.6 433.9 438.6 434.8 438.6 435.1 438.6 435.9 438.6 436.3 438.6 436.8 438.6 436.9 438.6 436.9 438.6 437.2 438.6 437.4 438.6 437.9 438.6 438.9 438.6 439.2 438.6 439.5 438.6 439.6 438.6 439.7 438.6 439.8 438.6 440 438.6 440.6 438.6 440.7 438.6 441.3 438.6 441.7 438.6 441.9 438.6 442.2 438.6 443 438.6 443.1 438.6 444.2 438.6 444.3 438.6 444.4 438.6 444.8 438.6 445 438.6 445.2 438.6 445.5 438.6 445.5 438.6 445.7 438.6 446 438.6 446.8 438.6 447.2 438.6 447.6 438.6 448.5 438.6 449.6 438.6 450.3 438.6 450.9 438.6 451.3 438.6 451.3 438.6 451.4 438.6 451.8 438.6 451.8 438.6 452.1 438.6 452.3 438.6 452.7 438.6 452.7 438.6 452.9 438.6 453.5 438.6 454.4 438.6 455 438.6 455.3 438.6 456.1 438.6 456.1 438.6 456.8 438.6 456.8 438.6 457.5 438.6 458.2 438.6 458.6 438.6 458.7 438.6 458.8 438.6 459.6 438.6 459.7 438.6 460.4 438.6 460.4 438.6 460.5 438.6 460.7 438.6 461.9 438.6 462.1 438.6 462.4 438.6 463 438.6 463 438.6 463.1 438.6 463.3 438.6 464.4 438.6 465.1 438.6 465.1 438.6 465.2 438.6 465.2 438.6 465.5 438.6 465.7 438.6 465.9 438.6 466.4 438.6 466.7 438.6 466.8 438.6 466.9 438.6 468.3 438.6 469.1 438.6 469.3 438.6 470 438.6 470.3 438.6 470.3 438.6 471.5 438.6 471.8 438.6 472.1 438.6 472.7 438.6 472.9 438.6 473.1 438.6 474.1 438.6 474.1 438.6 474.5 438.6 475.4 438.6 475.6 438.6 475.7 438.6 475.8 438.6 476.4 438.6 476.7 438.6 476.9 438.6 477.1 438.6 477.1 438.6 477.1 438.6 478.3 438.6 478.4 438.6 479.1 438.6 479.7 438.6 481.1 438.6 482.6 438.6 483.6 438.6 483.6 438.6 483.9 438.6 484.4 438.6 484.9 438.6 490.8 438.6 490.9 438.6 492.2 438.6 492.9 438.6 493.1 438.6 499.6 438.6 505.2 438.6 454.6 438.8 395.5 439 558.3 439.1 403.6 439.3 454.9 439.3 492.8 439.4 423.2 440 446.5 440.1 427.6 440.2 362.5 440.5 460.1 440.5 362.5 440.8 404.8 440.9 381.1 441 463.2 441.1 394.3 441.7 452.5 441.7 404.7 442.2 460.5 442.8 428.5 442.8 321.7 442.9 484.1 442.9 400.3 442.9 467.9 443 356.2 443.1 464.3 443.2 384 443.4 360.2 443.6 452 444.5 448.4 444.5 405.7 444.5 425.2 444.9 372.9 445.2 383 445.2 396.3 445.2 429.5 445.5 397.8 445.8 374.2 446.1 440.3 446.2 444.7 446.2 441 446.5 353.8 446.6 408.4 446.8 488 446.8 446.2 447 404.6 447 415.9 447.2 410.8 447.9 456.7 448 376.6 448.3 456.6 448.3 435.3 448.6 526.3 449 547.5 449 356.1 449.3 437.1 449.3 353.5 449.5 354.3 449.5 424.5 449.7 435.8 450.2 441 450.3 461.7 450.4 420.1 450.4 405.8 450.5 416.7 450.8 385.1 451.6 449.2 451.7 455.4 452.1 437.8 452.1 314 452.4 419 452.8 432.7 452.9 444.7 453.4 409.4 453.4 467.6 453.4 410.9 453.6 436.2 453.9 358.5 454 441 454 427.7 454.2 409.2 454.5 377.9 454.5 370.2 454.6 395.9 454.7 403.9 455 379.1 455.1 479.8 455.4 448.1 455.6 421.6 456.2 354 456.8 390.8 456.9 461.2 457.2 402 457.3 360.8 457.4 411.5 457.5 423.2 457.7 420.9 457.8 380.4 457.8 324.8 457.8 343.2 457.8 344.7 457.8 345 457.8 347.1 457.8 349.5 457.8 352.7 457.8 354.7 457.8 356.1 457.8 362.1 457.8 362.9 457.8 363.4 457.8 364.7 457.8 366.4 457.8 367.7 457.8 377.9 457.8 394.1 457.8 395.5 457.8 402.8 457.8 407 457.8 410.7 457.8 419.2 457.8 419.8 457.8 428.3 457.8 435.8 457.8 435.9 457.8 438.2 457.8 443.8 457.8 443.9 457.8 449.9 457.8 450.2 457.8 453.2 457.8 458.1 457.8 459.1 457.8 461.1 457.8 466.1 457.8 469.8 457.8 473.9 457.8 478.9 457.8 484.6 457.8 417.8 458.1 385 458.4 431.2 458.5 398.1 458.6 432.7 459.1 421.8 459.3 431 459.4 531.6 459.9 342.1 460.1 366.1 460.1 396 460.2 393.3 460.3 475.5 460.4 414.3 460.7 369.2 461.1 397.8 461.2 427.8 461.6 364.8 461.7 417.2 462.2 395.5 462.3 419.6 463.1 382.7 463.4 383.1 463.6 417.7 464.8 432.8 464.8 361.3 464.9 417.6 465.3 426.2 465.3 338 465.4 381.8 465.5 471.5 466 398.4 466.6 417.4 466.7 445.5 466.8 367 467.2 450.9 467.5 357.2 467.7 371.9 467.7 390.9 467.7 397.4 467.8 393.1 468.1 393.1 468.6 401.9 468.7 411.9 469.3 412.5 469.4 432.7 469.5 406 469.5 451.8 469.6 402.7 470 374.5 470.6 371.2 470.6 394.2 471.5 362.2 471.5 381.5 472 365 472.2 375.7 472.3 350.2 472.3 359.9 472.3 350.4 472.4 421.8 472.4 371.4 472.5 424.6 472.6 444.3 473 411.5 473.3 386.6 473.4 421.1 473.5 427.1 473.6 396.2 473.7 395.7 473.9 354.8 474.3 387 474.4 413.4 474.7 454.2 474.9 389.9 475.3 370.4 475.5 369.8 475.7 427 475.7 379 475.9 400 475.9 442.3 475.9 362.1 475.9 453.1 476.1 397.7 476.6 367.4 476.7 443.1 477 360.1 477 292.4 477 306.1 477 307.5 477 308.3 477 312.1 477 312.5 477 312.6 477 313.1 477 313.8 477 314.9 477 315 477 315.7 477 315.8 477 316.2 477 316.7 477 316.9 477 317 477 317.7 477 319.6 477 319.7 477 321.2 477 322.1 477 323.1 477 323.6 477 323.9 477 324.7 477 324.7 477 325.7 477 326.6 477 326.7 477 326.8 477 326.8 477 328.9 477 329.2 477 329.4 477 329.6 477 330.6 477 330.8 477 331.8 477 333.1 477 333.7 477 333.8 477 334.3 477 335.7 477 335.8 477 336.2 477 336.8 477 336.8 477 336.9 477 337.1 477 337.4 477 338.1 477 338.1 477 338.4 477 338.7 477 339.5 477 341.1 477 341.2 477 342 477 342.8 477 343 477 343 477 343.1 477 343.6 477 344.3 477 344.6 477 344.7 477 344.9 477 345 477 345.1 477 345.2 477 345.6 477 346 477 346.1 477 346.3 477 346.4 477 346.4 477 346.5 477 346.5 477 347.3 477 347.4 477 347.6 477 347.6 477 347.8 477 348 477 348.2 477 348.6 477 350.7 477 350.9 477 351.7 477 351.9 477 352.5 477 353 477 353.7 477 353.8 477 354.3 477 354.4 477 354.6 477 354.6 477 355.8 477 355.9 477 356.3 477 356.5 477 357.9 477 358.6 477 358.6 477 359.2 477 359.5 477 359.6 477 359.7 477 360.1 477 360.1 477 360.4 477 361.1 477 361.2 477 361.4 477 361.6 477 361.9 477 362.4 477 362.7 477 363.6 477 363.7 477 365.1 477 365.3 477 365.5 477 365.7 477 366 477 366.2 477 367.5 477 367.5 477 367.6 477 368.3 477 368.5 477 369.2 477 369.3 477 369.3 477 369.6 477 369.6 477 369.9 477 370.2 477 371.4 477 371.7 477 372.1 477 372.3 477 372.9 477 372.9 477 373 477 373.1 477 373.5 477 375.8 477 375.9 477 376.2 477 376.3 477 376.4 477 376.4 477 376.9 477 377.8 477 379.2 477 379.9 477 380.3 477 380.7 477 380.8 477 381 477 381.1 477 382 477 382 477 382.1 477 382.1 477 382.2 477 382.5 477 382.8 477 383.1 477 383.7 477 384.1 477 384.4 477 384.6 477 384.6 477 384.9 477 384.9 477 385.1 477 385.5 477 386.1 477 386.3 477 387.2 477 387.3 477 387.6 477 388 477 388.1 477 388.7 477 388.8 477 389.1 477 389.1 477 389.3 477 389.7 477 389.8 477 390.4 477 390.8 477 392.4 477 392.7 477 392.9 477 393.2 477 394 477 394.1 477 394.6 477 395.1 477 395.5 477 395.5 477 396 477 396 477 396.3 477 397.2 477 397.4 477 398.5 477 398.9 477 399 477 399.3 477 399.3 477 399.3 477 399.3 477 399.7 477 399.8 477 400.2 477 400.6 477 400.7 477 400.9 477 401.2 477 401.3 477 401.4 477 401.4 477 401.8 477 401.9 477 401.9 477 401.9 477 402.3 477 402.5 477 403.2 477 403.6 477 404.5 477 404.6 477 404.7 477 405.1 477 405.5 477 405.5 477 406.1 477 406.1 477 406.8 477 407.2 477 407.3 477 407.3 477 407.3 477 407.6 477 408.4 477 409 477 409 477 410.1 477 410.7 477 411.9 477 411.9 477 412 477 412.2 477 412.7 477 414 477 415.1 477 415.9 477 416.1 477 416.4 477 416.6 477 417.1 477 417.2 477 417.2 477 417.4 477 417.7 477 418.8 477 418.8 477 419.1 477 419.2 477 419.6 477 419.7 477 419.8 477 420.3 477 420.4 477 421 477 421.1 477 421.3 477 421.4 477 421.5 477 421.5 477 421.8 477 422.1 477 422.4 477 422.7 477 422.9 477 423 477 423.2 477 423.4 477 424.4 477 425.2 477 425.6 477 426.6 477 426.9 477 427.4 477 427.5 477 428 477 428.2 477 428.4 477 428.5 477 428.7 477 428.8 477 429.7 477 430.1 477 430.2 477 431 477 431.8 477 432.1 477 432.2 477 432.4 477 432.8 477 433.1 477 433.3 477 433.7 477 434.6 477 434.6 477 434.9 477 435.2 477 435.4 477 435.5 477 436.4 477 436.5 477 436.6 477 437.2 477 437.3 477 437.3 477 437.4 477 437.5 477 438 477 438.1 477 438.6 477 438.8 477 439 477 439.5 477 439.7 477 441.4 477 441.8 477 442 477 442.1 477 442.3 477 442.4 477 443.2 477 443.2 477 443.6 477 444.8 477 445.9 477 445.9 477 446 477 446.4 477 446.8 477 447 477 447.2 477 447.6 477 448.2 477 448.9 477 449.8 477 450.1 477 450.2 477 452.2 477 452.6 477 452.6 477 453.4 477 453.8 477 454.2 477 454.2 477 454.2 477 454.2 477 455 477 455 477 455.5 477 456.1 477 457.6 477 458.1 477 459.5 477 459.8 477 460.4 477 460.8 477 461 477 462.3 477 463.3 477 463.5 477 463.5 477 463.6 477 463.6 477 464.4 477 464.8 477 465 477 465 477 465.2 477 467.8 477 468.5 477 468.6 477 469 477 469.2 477 469.7 477 470.6 477 470.9 477 471.1 477 472.2 477 472.4 477 472.4 477 474.2 477 475.5 477 475.6 477 475.7 477 475.9 477 476 477 476.1 477 476.3 477 478.4 477 478.8 477 480.1 477 480.6 477 481.2 477 482.5 477 482.8 477 484.2 477 485.3 477 487 477 487.3 477 489.2 477.8 418.9 478.1 364.1 478.8 367.1 479.2 453.3 479.3 407.3 479.3 379.7 479.4 406.7 479.7 357.1 480.2 442.3 480.2 395.8 480.2 432.7 480.9 401.2 481.4 468.2 481.4 384.2 481.7 462.8 482.1 334.9 482.3 372.2 482.5 335.7 482.8 485.2 482.8 413.2 482.8 354.7 483.3 427.6 483.5 380.6 483.8 370.1 484.4 393.5 484.6 388.4 484.8 388.5 484.9 366.6 485.3 416.8 485.6 438 486.4 383.4 486.7 350.2 486.7 366.2 487 302.2 487.2 405.5 487.3 397.1 487.7 440.7 487.8 369 488.1 431.4 488.4 388.5 488.9 428.9 489 398.9 489.2 401.7 489.3 377.5 489.7 434.9 489.8 383.8 489.8 403.3 490.3 301.7 490.5 411.3 490.6 385.2 490.6 347.5 490.7 394.8 490.9 386.4 490.9 403.9 491 409.2 491.1 446.1 491.3 442.8 491.4 379.9 491.9 353.3 492.3 374.5 492.5 407.8 492.5 378.6 492.6 422.3 492.6 449.4 492.7 429.8 493 360.8 493.1 470.6 493.5 409.5 493.5 379.9 493.5 382.1 493.7 415.6 493.8 408.8 493.9 395.2 493.9 357.8 494.3 377.2 494.3 429.2 494.6 453.1 494.7 434.6 494.8 444.9 495.2 379.2 495.2 395.1 495.5 394.2 495.6 376 496.1 375.2 496.3 299.2 496.3 302.9 496.3 319 496.3 320.3 496.3 324.8 496.3 331.5 496.3 343.3 496.3 352.5 496.3 357.8 496.3 366.3 496.3 372.7 496.3 376.4 496.3 377.1 496.3 382 496.3 387 496.3 404.3 496.3 404.8 496.3 406.2 496.3 411.4 496.3 414.7 496.3 418.1 496.3 420.9 496.3 426 496.3 435.3 496.3 443.8 496.3 448.7 496.3 455.6 496.3 461 496.4 379.9 496.4 400 496.4 409.7 496.5 420.7 497.2 342.5 497.4 462.1 497.5 373.9 497.7 434 497.9 427.7 497.9 389.7 498.8 405.8 499.7 381.4 499.9 420 500 426.5 500 391.1 500.1 316.8 501.1 390.1 501.4 332.2 501.4 429.1 501.8 353.1 502 353.7 502.3 377.2 502.3 374.3 502.3 369.7 502.4 451 502.4 392.4 502.4 346.6 502.6 397.1 503 434.3 503.2 357.6 503.6 316.8 503.7 351.5 503.9 385.6 503.9 421.6 504.4 358.6 504.8 390.6 504.8 393.5 504.9 434.6 504.9 419 505.5 373.4 506 426.6 506.5 323.1 506.6 387.2 507 429.5 508.2 350.6 508.4 406 508.4 347.9 508.4 354.1 508.6 388.9 508.7 437.7 508.7 413.8 509.1 343 509.2 371.2 509.3 354.6 510 406.2 510.1 331.3 510.1 372 510.3 365 510.5 308.5 510.9 405.6 511.2 389.8 511.2 414.6 511.3 437.5 511.5 296.3 511.9 379.9 512 351.5 512 364 512.2 364.3 512.5 330.3 512.7 374.4 512.7 372 513 389.7 513.1 372.8 513.2 366.7 513.2 371.5 513.2 436.3 513.3 417 513.4 388.9 513.4 362.1 514 411.1 514.1 379.5 514.3 371.7 514.3 395.2 514.9 388.2 515 380.2 515.1 514.6 515.3 422.1 515.5 284.6 515.5 286.6 515.5 288.1 515.5 296.1 515.5 296.3 515.5 300.3 515.5 300.5 515.5 300.6 515.5 300.7 515.5 300.8 515.5 300.9 515.5 302.2 515.5 302.5 515.5 306.1 515.5 306.8 515.5 306.8 515.5 307.2 515.5 307.9 515.5 308.1 515.5 308.4 515.5 308.9 515.5 309.3 515.5 309.5 515.5 310.3 515.5 310.3 515.5 311.2 515.5 311.6 515.5 312.2 515.5 312.5 515.5 313.1 515.5 313.5 515.5 314.6 515.5 314.9 515.5 315 515.5 315 515.5 315.2 515.5 315.2 515.5 315.4 515.5 316.9 515.5 317 515.5 318.5 515.5 319 515.5 319.4 515.5 319.7 515.5 319.8 515.5 320.1 515.5 320.1 515.5 320.2 515.5 320.3 515.5 320.7 515.5 322.3 515.5 322.4 515.5 322.9 515.5 323 515.5 323.3 515.5 323.3 515.5 323.4 515.5 323.6 515.5 323.8 515.5 324.1 515.5 324.4 515.5 325.7 515.5 327.3 515.5 328 515.5 328.4 515.5 328.7 515.5 328.7 515.5 328.7 515.5 329.2 515.5 329.6 515.5 330.1 515.5 330.2 515.5 330.6 515.5 330.8 515.5 330.8 515.5 331 515.5 331.7 515.5 332.9 515.5 333 515.5 333 515.5 333 515.5 333.1 515.5 333.1 515.5 333.4 515.5 334.1 515.5 334.8 515.5 335.3 515.5 335.4 515.5 335.8 515.5 336.4 515.5 336.7 515.5 337.1 515.5 337.3 515.5 338 515.5 338.2 515.5 338.8 515.5 338.8 515.5 339.1 515.5 339.4 515.5 340.1 515.5 340.6 515.5 341.7 515.5 341.9 515.5 342 515.5 342.5 515.5 342.8 515.5 342.9 515.5 342.9 515.5 343.8 515.5 343.9 515.5 344.2 515.5 344.2 515.5 344.4 515.5 344.9 515.5 346 515.5 346.8 515.5 347.4 515.5 347.4 515.5 347.6 515.5 348.5 515.5 349.7 515.5 349.7 515.5 349.9 515.5 349.9 515.5 350 515.5 350.2 515.5 350.6 515.5 351 515.5 351.2 515.5 351.8 515.5 351.8 515.5 352 515.5 352.1 515.5 352.6 515.5 352.6 515.5 352.8 515.5 353.1 515.5 353.6 515.5 353.7 515.5 354.3 515.5 354.6 515.5 355.2 515.5 355.3 515.5 355.3 515.5 355.4 515.5 355.4 515.5 355.4 515.5 356 515.5 356.2 515.5 356.4 515.5 356.9 515.5 357 515.5 357 515.5 357.4 515.5 357.6 515.5 358.3 515.5 358.4 515.5 358.5 515.5 359.5 515.5 360.1 515.5 360.3 515.5 360.7 515.5 360.9 515.5 360.9 515.5 361.6 515.5 361.7 515.5 363 515.5 363.9 515.5 363.9 515.5 364.3 515.5 364.3 515.5 364.4 515.5 365.1 515.5 365.4 515.5 365.5 515.5 366 515.5 366.1 515.5 366.2 515.5 366.4 515.5 366.4 515.5 366.7 515.5 367 515.5 367 515.5 367 515.5 367.1 515.5 367.2 515.5 367.9 515.5 368 515.5 368.9 515.5 369.1 515.5 369.3 515.5 369.5 515.5 369.8 515.5 370.1 515.5 370.1 515.5 370.2 515.5 370.2 515.5 370.7 515.5 370.7 515.5 371.1 515.5 371.3 515.5 371.3 515.5 373.3 515.5 373.8 515.5 374.5 515.5 375 515.5 375 515.5 375.1 515.5 375.2 515.5 375.4 515.5 375.6 515.5 375.7 515.5 376 515.5 376.2 515.5 376.3 515.5 376.3 515.5 376.9 515.5 377.7 515.5 377.8 515.5 377.8 515.5 378 515.5 378.1 515.5 378.8 515.5 379.4 515.5 380.1 515.5 380.4 515.5 380.4 515.5 380.7 515.5 381 515.5 381.1 515.5 381.7 515.5 381.9 515.5 382.5 515.5 383 515.5 383 515.5 383.8 515.5 383.8 515.5 385.1 515.5 385.9 515.5 386 515.5 386.1 515.5 386.3 515.5 386.6 515.5 387.1 515.5 387.3 515.5 387.3 515.5 387.7 515.5 388.2 515.5 388.4 515.5 389.1 515.5 390 515.5 390.1 515.5 390.7 515.5 390.9 515.5 391.3 515.5 391.8 515.5 391.8 515.5 391.9 515.5 392.1 515.5 392.4 515.5 393 515.5 393.1 515.5 393.5 515.5 393.9 515.5 394.3 515.5 394.7 515.5 395.2 515.5 395.7 515.5 396.4 515.5 397.1 515.5 397.7 515.5 398.4 515.5 399.5 515.5 399.7 515.5 399.9 515.5 400.3 515.5 400.4 515.5 400.4 515.5 400.6 515.5 400.7 515.5 401.2 515.5 401.5 515.5 401.5 515.5 402.2 515.5 402.9 515.5 403.7 515.5 404.7 515.5 404.9 515.5 405 515.5 405.3 515.5 406.4 515.5 406.7 515.5 406.7 515.5 407.1 515.5 407.6 515.5 407.6 515.5 407.6 515.5 408 515.5 408.7 515.5 409 515.5 409.1 515.5 409.1 515.5 409.4 515.5 409.5 515.5 409.5 515.5 409.7 515.5 410.3 515.5 410.3 515.5 410.5 515.5 410.6 515.5 411.4 515.5 411.5 515.5 411.5 515.5 411.9 515.5 411.9 515.5 412 515.5 412.4 515.5 412.7 515.5 412.7 515.5 412.9 515.5 413.8 515.5 414 515.5 415.1 515.5 415.3 515.5 415.3 515.5 415.6 515.5 415.6 515.5 416 515.5 417 515.5 417 515.5 417.1 515.5 417.3 515.5 417.8 515.5 418 515.5 418.1 515.5 418.3 515.5 418.8 515.5 419 515.5 419 515.5 419.1 515.5 420.1 515.5 420.1 515.5 420.4 515.5 420.7 515.5 420.8 515.5 420.9 515.5 421.2 515.5 422 515.5 422.3 515.5 422.7 515.5 423.1 515.5 424.9 515.5 425 515.5 425 515.5 425.3 515.5 425.5 515.5 426.5 515.5 427.4 515.5 427.5 515.5 427.5 515.5 427.7 515.5 427.7 515.5 428.8 515.5 429.4 515.5 429.7 515.5 429.7 515.5 429.8 515.5 430 515.5 430.2 515.5 430.7 515.5 431 515.5 431.4 515.5 431.5 515.5 431.8 515.5 432.5 515.5 432.6 515.5 433 515.5 433.1 515.5 433.3 515.5 433.5 515.5 434.5 515.5 434.7 515.5 435.2 515.5 436.7 515.5 438 515.5 438 515.5 438.4 515.5 439.3 515.5 439.7 515.5 440.4 515.5 441.4 515.5 441.9 515.5 442.5 515.5 443 515.5 443.8 515.5 444.4 515.5 444.5 515.5 444.8 515.5 445.1 515.5 445.4 515.5 445.9 515.5 446 515.5 446.2 515.5 446.4 515.5 446.8 515.5 446.9 515.5 447 515.5 448.7 515.5 449.4 515.5 450 515.5 453.2 515.5 455 515.5 455.2 515.5 455.5 515.5 455.7 515.5 456 515.5 457.4 515.5 461 515.5 461.7 515.5 463.3 515.5 463.8 515.5 466.9 515.5 468 515.5 468.6 515.5 471.3 515.5 472 515.5 478.5 515.5 319.1 516.2 423.2 516.3 245.6 516.3 371.4 516.5 423.5 516.7 414.1 517 410.2 517 380.8 517.2 373.6 517.3 364.9 517.4 352.1 517.5 398.7 517.9 350.4 518 320.5 518.3 335.9 518.3 340.3 518.4 376.5 519.2 337.1 519.7 458.2 520.6 402.4 521.1 421.4 521.6 402.7 521.7 386.7 521.7 352.7 521.7 396.2 522.1 411.9 522.2 343.4 522.6 362.9 522.6 368.4 522.9 315.7 523.2 453.2 523.5 386 523.6 371.9 523.9 396.8 523.9 326.5 524 303.1 524.1 277.6 524.2 359.8 524.3 391.7 524.4 400.7 525.5 393.3 525.6 344.6 525.8 364 525.8 382.8 526.3 373.3 526.4 349.1 526.5 316.4 526.9 300.6 527.2 344.3 527.4 436.8 527.5 320.4 527.9 366.9 528.1 386.3 528.2 357.4 528.3 390.8 528.9 333 529 371.3 529 342.1 529.7 362.7 529.7 398.6 530.1 374.6 530.2 377.8 530.5 341.4 530.5 427.7 530.6 345.8 530.6 381.2 531.1 368.7 531.3 403.2 531.3 391.6 531.5 367.2 531.6 427.7 532.5 395.6 532.6 277.2 532.6 371.5 533 368.5 533.1 371.4 533.2 424.6 533.7 422.8 534 380.9 534.2 313.2 534.4 328.8 534.7 290.9 534.7 296.1 534.7 299.1 534.7 299.2 534.7 310.4 534.7 312.9 534.7 319.7 534.7 320.5 534.7 329.3 534.7 329.4 534.7 329.4 534.7 335.1 534.7 339.3 534.7 341.2 534.7 341.3 534.7 344.3 534.7 345 534.7 346.6 534.7 349.1 534.7 350.2 534.7 354.1 534.7 367 534.7 376.4 534.7 380.1 534.7 385.8 534.7 386.4 534.7 386.4 534.7 387.4 534.7 395.9 534.7 398.1 534.7 401.8 534.7 407.6 534.7 412.1 534.7 413.6 534.7 414 534.7 432 534.7 432 534.7 433.8 534.7 436.3 534.7 445.3 534.7 501.1 534.8 371.8 535.5 382.5 535.7 337.3 535.8 344.9 536.1 396.5 536.5 355.9 537.1 414.3 537.1 349.9 537.4 400.1 537.7 413.1 537.8 370.8 538 346.8 538.3 387 538.8 400.2 538.9 444.2 539 503.4 539.2 378.7 539.4 297 539.5 336.5 539.6 390.2 540 324.4 540.2 371.7 540.3 417 540.5 388.2 540.6 393.6 540.8 344.9 540.8 387.5 541 407.3 541 388.6 541.1 368.9 541.1 302.5 541.7 329.2 542.3 362 542.5 381 542.9 360.9 543.5 388.5 543.6 355.1 544.6 314.8 545 372.6 545.1 359.7 545.2 348 545.4 387.6 545.5 443.7 545.7 356.2 546 333.8 546.2 325.5 546.6 364.1 546.9 401.3 547 388.6 547.2 324.5 547.4 322.6 547.6 371.3 547.6 366.1 547.8 355.6 548.3 341 548.7 400.8 548.8 405.2 548.9 386.2 549 411.6 549.3 331.2 549.3 337.2 549.5 367.3 549.5 357.4 549.8 381.9 549.9 391.6 550.3 376.9 551 392.5 551.3 373 551.9 386.9 552 515.1 552.6 391.2 552.8 516.3 552.8 306.5 552.9 411.1 553 340.1 553 412.6 553.1 382.5 553.3 323.9 553.5 274.7 553.6 532.6 553.6 321.5 553.7 370.3 553.7 340 553.7 330.6 554 261.4 554 262.8 554 268.6 554 268.9 554 270.8 554 271.3 554 272.2 554 273.2 554 276.5 554 276.5 554 279 554 279.3 554 280 554 280.5 554 280.6 554 280.7 554 283.4 554 284.9 554 285.1 554 285.4 554 286.2 554 286.3 554 286.5 554 286.7 554 286.7 554 286.8 554 287.2 554 287.5 554 287.9 554 288.1 554 288.1 554 289.7 554 290 554 290.2 554 290.4 554 290.6 554 290.8 554 290.9 554 290.9 554 290.9 554 291 554 291.7 554 291.8 554 292.1 554 292.9 554 292.9 554 293.3 554 293.6 554 293.9 554 294.6 554 295.5 554 295.5 554 296.1 554 296.8 554 297.5 554 297.5 554 299.3 554 299.8 554 301.4 554 302.1 554 302.4 554 302.6 554 302.8 554 302.9 554 303 554 303.3 554 303.3 554 303.5 554 304.2 554 304.3 554 304.9 554 305 554 305.4 554 305.8 554 306.4 554 306.4 554 306.4 554 306.5 554 307.4 554 307.5 554 307.9 554 308.2 554 308.3 554 308.5 554 308.6 554 308.7 554 308.9 554 309 554 309.4 554 309.9 554 310.3 554 310.5 554 311.3 554 312.5 554 312.7 554 312.8 554 313.2 554 313.6 554 315.2 554 315.3 554 316 554 316.9 554 318 554 318.2 554 318.4 554 318.5 554 318.5 554 318.6 554 318.7 554 319.4 554 319.6 554 320.2 554 320.2 554 320.5 554 320.6 554 320.7 554 320.8 554 321.1 554 322 554 322.2 554 324.2 554 324.5 554 324.8 554 324.9 554 325.6 554 325.8 554 326.3 554 326.6 554 326.6 554 327.1 554 327.5 554 328 554 328.4 554 328.4 554 328.7 554 329.1 554 329.7 554 330.1 554 330.9 554 331.1 554 331.4 554 331.4 554 332.4 554 333 554 333.3 554 333.8 554 334.3 554 334.9 554 335.2 554 335.7 554 336.1 554 336.1 554 336.2 554 336.5 554 336.7 554 336.9 554 337.3 554 337.5 554 337.9 554 338.7 554 338.9 554 339 554 339.5 554 340.2 554 340.4 554 340.5 554 340.5 554 340.8 554 342 554 342.3 554 343.4 554 343.7 554 343.8 554 344.1 554 344.5 554 345.2 554 345.4 554 345.6 554 346 554 346.4 554 346.7 554 347.3 554 347.6 554 349 554 349.1 554 349.7 554 349.9 554 350.1 554 350.1 554 351.3 554 351.4 554 351.8 554 352 554 352.1 554 352.1 554 352.6 554 353 554 353.4 554 353.5 554 354.4 554 354.5 554 354.7 554 355.8 554 357.2 554 357.3 554 357.5 554 357.6 554 357.8 554 358.3 554 358.7 554 360 554 360.2 554 360.2 554 360.4 554 360.6 554 360.7 554 360.8 554 361.2 554 361.3 554 361.9 554 362.2 554 363.3 554 363.6 554 363.6 554 363.9 554 363.9 554 364.4 554 364.8 554 365.4 554 365.4 554 366.9 554 367.7 554 367.8 554 368 554 368.1 554 368.7 554 368.7 554 368.7 554 368.7 554 368.8 554 369.4 554 369.7 554 369.9 554 370.6 554 370.7 554 370.9 554 371 554 371.9 554 372.5 554 372.5 554 372.6 554 372.7 554 373.1 554 373.7 554 374.5 554 374.9 554 375.8 554 376.4 554 376.8 554 377.1 554 377.6 554 377.9 554 377.9 554 378.1 554 379.1 554 379.6 554 379.9 554 380.1 554 380.1 554 380.2 554 380.6 554 381.7 554 381.9 554 382.2 554 382.8 554 382.8 554 383.2 554 383.6 554 383.8 554 384.4 554 384.7 554 385.1 554 385.4 554 385.8 554 385.9 554 387.5 554 388.1 554 388.8 554 388.8 554 389.1 554 389.2 554 389.5 554 389.8 554 390.2 554 390.3 554 390.4 554 391 554 391.1 554 391.5 554 391.5 554 391.6 554 391.8 554 391.8 554 391.9 554 392.9 554 392.9 554 393.6 554 393.9 554 394.3 554 394.5 554 395.1 554 395.1 554 395.1 554 395.7 554 396.3 554 396.6 554 396.6 554 397.2 554 397.3 554 397.6 554 397.7 554 398.3 554 398.6 554 398.9 554 400.6 554 401.3 554 401.6 554 401.8 554 402 554 403.2 554 403.4 554 403.5 554 403.9 554 404 554 405.1 554 405.4 554 405.6 554 406.1 554 406.8 554 407 554 407.2 554 407.5 554 408.5 554 409.3 554 410 554 410.1 554 410.2 554 410.8 554 411.2 554 411.5 554 411.7 554 413.8 554 414 554 414 554 414.1 554 414.8 554 414.8 554 414.8 554 415 554 416.7 554 417.1 554 418.2 554 418.7 554 418.9 554 419 554 419.3 554 419.4 554 421.1 554 422.3 554 423.1 554 423.2 554 424.4 554 424.9 554 425.1 554 425.8 554 426.1 554 426.6 554 427.7 554 428.1 554 428.7 554 429.4 554 432.1 554 434.7 554 436.8 554 437.1 554 438 554 438.6 554 440 554 440.3 554 442.8 554 444.1 554 445.1 554 445.6 554 446 554 447.3 554 448.3 554 449.9 554 454.6 554.1 383.5 554.1 345.7 554.2 344.6 554.3 336.3 554.3 365 554.7 369.5 554.8 299 555.1 347.3 556.2 395.1 556.3 279.5 556.7 308.4 557.3 345.2 557.7 353.2 557.7 364.3 558.6 377.9 559.2 410.5 559.6 382 559.9 355.8 559.9 328.9 560 394 560.2 306.4 560.3 266.6 560.3 346.5 560.8 311.2 560.9 352.4 561.2 345.7 561.5 435.9 561.9 345.6 562.1 304.2 562.4 358 563.1 323.7 564.5 327.8 564.9 370.5 565.1 366.2 565.4 414.9 565.5 326.6 566 389.6 566.2 315.9 566.9 297.5 567 330.5 567.1 379.7 567.3 376.1 567.5 397.5 567.9 394.6 567.9 336 567.9 333.6 568.1 308.7 568.2 347.9 568.7 333.7 569.2 338.9 569.3 391.1 569.4 335.2 569.5 336.3 569.6 313.8 569.6 333.2 569.7 394.4 570.5 379.6 570.8 328.9 571.1 345.5 571.5 319.1 571.6 474.7 571.8 380.5 572.1 361.2 572.2 392.9 572.2 307.6 572.2 362.1 572.3 362.8 572.8 386.3 572.8 373.8 573.2 275.8 573.2 275.9 573.2 295.8 573.2 300.9 573.2 305.3 573.2 308.6 573.2 308.8 573.2 313.9 573.2 319.1 573.2 321.6 573.2 324.3 573.2 324.7 573.2 328 573.2 332.7 573.2 334.4 573.2 353.2 573.2 353.6 573.2 354.7 573.2 355.7 573.2 356 573.2 360.5 573.2 369.3 573.2 371.7 573.2 384.8 573.2 386.1 573.2 393.3 573.2 394.4 573.2 422.7 573.3 358.8 573.3 314.5 573.4 335.4 573.9 350.5 574.3 284.9 574.6 375.8 574.7 264.1 575.2 302.7 575.5 336.8 575.7 367.7 575.9 328.5 576.4 429.3 576.6 284.1 576.8 353.1 577.3 353.1 577.6 367.3 578.1 274.4 578.3 348.4 578.6 327 578.9 353.9 579.1 322.9 579.2 342.9 579.4 341 579.5 393 580 357.5 580.2 295.9 580.3 291.4 580.5 359.1 580.5 348.7 580.9 270 581.4 334.5 581.7 382.2 581.9 311.4 582.2 366.1 582.4 280 582.6 291.5 582.7 308 582.8 281.4 582.8 382.6 582.9 251 583 300.4 583.4 363.6 583.9 333 584.1 378.1 584.7 276.3 585 311.2 585.1 313 585.3 391.5 585.3 338.6 585.4 314.2 585.5 325.5 586.2 382.1 586.2 362.8 586.6 352.4 586.7 335.5 586.7 244.2 586.8 374.7 587 324 587.6 289.9 587.6 314.1 587.8 412.6 588 356.7 588.4 319.4 589.1 328.4 589.4 345.4 589.4 316.3 589.7 325.6 590.1 335 590.4 335.3 590.4 320.5 590.4 305.4 590.5 374.4 591.2 350.6 591.4 378.9 591.4 309.3 591.6 478.4 592 450.5 592.2 326.5 592.4 334.3 592.4 245.3 592.4 245.6 592.4 248.9 592.4 250.2 592.4 250.4 592.4 251.9 592.4 252.9 592.4 254.5 592.4 256.1 592.4 257.7 592.4 257.7 592.4 259.6 592.4 259.7 592.4 261.2 592.4 261.4 592.4 262.5 592.4 262.6 592.4 264 592.4 264.3 592.4 265.1 592.4 266 592.4 266.5 592.4 267.8 592.4 267.8 592.4 268.2 592.4 268.7 592.4 269.3 592.4 269.6 592.4 269.6 592.4 270.1 592.4 270.5 592.4 271 592.4 271.5 592.4 271.9 592.4 272.5 592.4 273.5 592.4 274 592.4 274.2 592.4 274.7 592.4 276.4 592.4 276.6 592.4 276.9 592.4 277.2 592.4 277.4 592.4 278.2 592.4 278.5 592.4 278.5 592.4 278.9 592.4 278.9 592.4 279.1 592.4 279.2 592.4 279.4 592.4 279.6 592.4 279.9 592.4 280.8 592.4 281.1 592.4 281.3 592.4 281.5 592.4 281.5 592.4 281.8 592.4 282.1 592.4 282.7 592.4 283.2 592.4 283.2 592.4 283.8 592.4 284.8 592.4 284.9 592.4 285.1 592.4 285.2 592.4 286.6 592.4 286.8 592.4 286.9 592.4 287 592.4 287.1 592.4 288.6 592.4 288.8 592.4 289.5 592.4 290.1 592.4 290.8 592.4 290.9 592.4 291.3 592.4 291.8 592.4 292.2 592.4 292.9 592.4 292.9 592.4 293 592.4 293.4 592.4 293.6 592.4 294.1 592.4 294.1 592.4 294.8 592.4 295 592.4 296.4 592.4 296.5 592.4 296.5 592.4 296.7 592.4 298 592.4 298 592.4 298 592.4 298 592.4 298.2 592.4 299 592.4 299.4 592.4 299.6 592.4 300.4 592.4 301.4 592.4 301.4 592.4 301.8 592.4 301.9 592.4 302.4 592.4 302.5 592.4 303.6 592.4 303.8 592.4 303.9 592.4 304.2 592.4 304.8 592.4 304.9 592.4 305 592.4 305.5 592.4 305.6 592.4 305.6 592.4 306.5 592.4 306.7 592.4 306.7 592.4 307.1 592.4 307.2 592.4 307.3 592.4 308.4 592.4 308.9 592.4 309.4 592.4 310 592.4 310.2 592.4 310.4 592.4 310.4 592.4 310.8 592.4 311.1 592.4 311.2 592.4 311.2 592.4 311.3 592.4 311.3 592.4 311.4 592.4 311.6 592.4 311.7 592.4 312 592.4 312.1 592.4 312.8 592.4 312.9 592.4 313.4 592.4 314.5 592.4 314.6 592.4 314.8 592.4 315.6 592.4 315.6 592.4 315.9 592.4 316.1 592.4 316.1 592.4 317.2 592.4 317.4 592.4 317.9 592.4 318.3 592.4 318.6 592.4 319.1 592.4 319.3 592.4 319.5 592.4 319.9 592.4 320 592.4 320.1 592.4 320.3 592.4 320.4 592.4 320.9 592.4 321 592.4 321.1 592.4 321.7 592.4 321.9 592.4 322 592.4 322.3 592.4 323 592.4 323.2 592.4 323.9 592.4 323.9 592.4 324 592.4 324.3 592.4 324.8 592.4 324.9 592.4 325.1 592.4 325.2 592.4 325.6 592.4 326.6 592.4 326.6 592.4 327.1 592.4 327.4 592.4 327.7 592.4 327.8 592.4 328.5 592.4 329 592.4 329.8 592.4 330 592.4 330.2 592.4 330.3 592.4 330.8 592.4 331 592.4 331.1 592.4 331.2 592.4 331.3 592.4 332 592.4 332.6 592.4 332.9 592.4 332.9 592.4 333.5 592.4 333.5 592.4 333.6 592.4 333.8 592.4 334.7 592.4 334.9 592.4 335.4 592.4 335.7 592.4 336 592.4 336.5 592.4 336.7 592.4 336.9 592.4 336.9 592.4 337 592.4 337 592.4 337.3 592.4 337.4 592.4 338.9 592.4 339.5 592.4 339.8 592.4 340.3 592.4 340.4 592.4 341.1 592.4 341.4 592.4 341.5 592.4 342.7 592.4 343.3 592.4 343.4 592.4 343.9 592.4 345.2 592.4 345.6 592.4 346.1 592.4 347.1 592.4 347.4 592.4 347.5 592.4 347.9 592.4 348.1 592.4 348.3 592.4 349.2 592.4 350.1 592.4 350.7 592.4 351.2 592.4 351.2 592.4 351.6 592.4 351.8 592.4 351.9 592.4 352.5 592.4 352.9 592.4 353 592.4 353 592.4 353.3 592.4 353.6 592.4 353.7 592.4 353.7 592.4 353.7 592.4 353.8 592.4 354 592.4 354.5 592.4 354.6 592.4 354.6 592.4 354.7 592.4 354.8 592.4 355.8 592.4 356 592.4 356 592.4 356.3 592.4 356.4 592.4 356.4 592.4 357.6 592.4 357.7 592.4 357.8 592.4 358 592.4 358.5 592.4 358.6 592.4 360.1 592.4 360.2 592.4 360.3 592.4 360.4 592.4 360.4 592.4 360.6 592.4 360.8 592.4 361.4 592.4 361.4 592.4 362 592.4 362.1 592.4 362.1 592.4 362.3 592.4 362.4 592.4 362.5 592.4 363.2 592.4 363.3 592.4 363.9 592.4 364.7 592.4 364.7 592.4 364.8 592.4 365.3 592.4 365.4 592.4 367.1 592.4 367.5 592.4 367.9 592.4 368.2 592.4 368.2 592.4 369.1 592.4 369.5 592.4 369.8 592.4 369.9 592.4 370.1 592.4 370.4 592.4 370.4 592.4 371.6 592.4 372 592.4 372.6 592.4 372.9 592.4 374.4 592.4 374.9 592.4 375.5 592.4 376.2 592.4 376.3 592.4 376.4 592.4 376.5 592.4 377.8 592.4 378.5 592.4 378.7 592.4 379 592.4 379 592.4 379.1 592.4 379.2 592.4 380 592.4 380.4 592.4 380.5 592.4 380.9 592.4 381 592.4 383 592.4 384.1 592.4 384.1 592.4 384.4 592.4 385 592.4 386.5 592.4 386.7 592.4 387 592.4 387.2 592.4 387.3 592.4 387.3 592.4 387.3 592.4 387.4 592.4 387.9 592.4 388.1 592.4 388.5 592.4 389.1 592.4 389.2 592.4 390.6 592.4 390.7 592.4 391.1 592.4 391.2 592.4 391.3 592.4 392 592.4 392.1 592.4 392.9 592.4 393.2 592.4 393.6 592.4 395 592.4 395.2 592.4 395.6 592.4 395.7 592.4 395.8 592.4 396.1 592.4 396.5 592.4 396.9 592.4 398.1 592.4 398.3 592.4 398.3 592.4 398.9 592.4 399.1 592.4 400 592.4 400 592.4 401.1 592.4 402 592.4 402.9 592.4 403 592.4 403.6 592.4 404.6 592.4 404.7 592.4 405.5 592.4 406 592.4 406.6 592.4 408 592.4 408.1 592.4 408.3 592.4 408.5 592.4 408.5 592.4 409.4 592.4 411.6 592.4 413.4 592.4 415 592.4 417.4 592.4 418 592.4 420.4 592.4 420.7 592.4 423.4 592.4 425.2 593 335.3 593 304.2 593 358.2 593.8 371.7 594.3 265.6 594.5 354 594.5 315.1 594.8 351.3 594.9 283.2 595.1 307.4 595.7 347.7 595.8 320.3 597 371.7 597.2 404.9 597.2 344.8 597.4 319.1 597.5 357.2 597.6 340.2 597.8 284.1 598.1 335 598.3 332.9 598.3 341.5 598.6 271.4 598.7 331.5 598.9 326.4 599.1 320.6 599.1 332.8 599.2 266.2 600.5 310.1 600.9 298.7 601.4 309.1 602.3 349.8 602.5 336.8 602.5 306.2 602.6 341.3 602.9 325.6 603 375.5 604.2 315.4 604.7 451.5 605 319.2 605.4 332.2 605.5 258.3 605.9 314.7 605.9 292.2 606.2 244 606.5 406.7 606.8 313.1 607.2 282.2 607.3 388.6 607.5 315.5 607.6 334.3 608 313.4 608.1 300.2 608.3 342.8 608.4 322.5 608.6 250.1 608.6 356.7 608.9 306 609.3 310.4 609.5 351.8 609.6 312.3 609.7 321.6 609.8 370 611.6 235.2 611.6 255.4 611.6 257.7 611.6 267.1 611.6 270.3 611.6 271.4 611.6 277.1 611.6 277.8 611.6 279.2 611.6 289 611.6 294.4 611.6 295 611.6 300 611.6 300.3 611.6 303.6 611.6 315 611.6 316.2 611.6 329.7 611.6 342.7 611.6 360 611.6 363 611.6 378 611.6 378 611.6 381 611.6 384.3 611.6 384.7 611.6 389.3 611.6 394.7 612.5 355.8 612.7 362.2 612.8 309.7 612.8 311.7 612.9 307.5 613.4 301.4 613.4 290.8 614.1 252.6 614.4 381.9 614.8 289.4 615.1 354.3 615.1 297.5 615.3 266.1 616.6 310.1 617.3 366.3 617.5 312.8 617.6 305.5 618 335.9 618 343.8 618.1 320.9 618.5 356.1 618.5 315.8 619.7 397 619.7 331.6 620 370.4 620.3 262.7 620.5 336.1 620.5 287 620.8 244.8 620.8 316.4 621.2 266.4 621.8 337.2 622.4 357.8 622.4 395.4 622.6 326.9 622.8 286.9 623 254.9 623.3 352.6 623.4 337.3 623.5 293.2 623.6 278.4 624 281.4 624.2 253 624.2 324.1 625.1 335 625.4 319.6 625.8 292.5 625.9 243.5 626.4 374.5 626.5 270 626.8 258.3 626.8 302.7 626.9 304.2 627 278.1 627 313.6 628.4 316.8 628.5 282.3 628.5 281.3 629.4 272.3 629.6 254.8 630.1 484.4 630.2 278.8 630.2 277.3 630.3 284.5 630.6 262.1 630.6 363.9 630.6 268.6 630.8 308.3 630.8 327.8 630.9 222.4 630.9 230.3 630.9 232.2 630.9 235 630.9 239.7 630.9 241 630.9 242 630.9 242 630.9 242.1 630.9 242.6 630.9 242.8 630.9 245.4 630.9 246.1 630.9 246.6 630.9 247.6 630.9 247.9 630.9 248 630.9 248.2 630.9 248.7 630.9 249.3 630.9 249.8 630.9 249.9 630.9 250.4 630.9 250.6 630.9 250.7 630.9 252.1 630.9 252.6 630.9 252.7 630.9 254 630.9 254.2 630.9 254.4 630.9 255 630.9 255.1 630.9 255.7 630.9 255.9 630.9 255.9 630.9 256.1 630.9 258.3 630.9 258.9 630.9 259.3 630.9 259.7 630.9 260.7 630.9 262.2 630.9 262.6 630.9 262.6 630.9 262.9 630.9 262.9 630.9 262.9 630.9 263 630.9 263.3 630.9 263.9 630.9 264 630.9 265 630.9 265.4 630.9 266.9 630.9 267.3 630.9 268.3 630.9 268.4 630.9 269.5 630.9 269.7 630.9 269.8 630.9 269.8 630.9 269.8 630.9 270 630.9 270.8 630.9 271 630.9 271.5 630.9 273 630.9 273.5 630.9 274.5 630.9 274.7 630.9 274.9 630.9 275.6 630.9 276.4 630.9 276.5 630.9 277.2 630.9 277.4 630.9 277.8 630.9 277.9 630.9 278.1 630.9 278.2 630.9 278.4 630.9 279.5 630.9 280.9 630.9 281.1 630.9 281.7 630.9 282.5 630.9 282.8 630.9 283.1 630.9 283.3 630.9 283.6 630.9 284.1 630.9 284.4 630.9 285.4 630.9 286.2 630.9 286.2 630.9 286.9 630.9 286.9 630.9 287.6 630.9 288 630.9 288.4 630.9 289.6 630.9 289.7 630.9 290.4 630.9 291.2 630.9 291.6 630.9 292.6 630.9 293.2 630.9 293.7 630.9 295.7 630.9 296.5 630.9 297 630.9 297.3 630.9 297.7 630.9 297.9 630.9 298 630.9 298.3 630.9 298.7 630.9 298.7 630.9 299 630.9 299 630.9 299.4 630.9 299.5 630.9 299.6 630.9 299.8 630.9 299.8 630.9 299.9 630.9 300.5 630.9 300.9 630.9 301.3 630.9 301.6 630.9 302.4 630.9 302.7 630.9 303.4 630.9 303.4 630.9 303.5 630.9 303.6 630.9 303.8 630.9 305.7 630.9 306.4 630.9 306.5 630.9 306.7 630.9 306.8 630.9 307.4 630.9 307.7 630.9 308.6 630.9 308.7 630.9 308.8 630.9 310 630.9 310.1 630.9 310.2 630.9 310.4 630.9 310.5 630.9 311 630.9 311.4 630.9 311.8 630.9 311.9 630.9 312 630.9 312.1 630.9 312.3 630.9 312.3 630.9 312.8 630.9 313.8 630.9 314 630.9 314.1 630.9 314.5 630.9 315.1 630.9 315.2 630.9 315.7 630.9 315.7 630.9 317 630.9 317.1 630.9 317.1 630.9 317.8 630.9 318.7 630.9 318.9 630.9 319.7 630.9 319.8 630.9 319.8 630.9 320.2 630.9 320.5 630.9 320.6 630.9 320.7 630.9 320.7 630.9 321.9 630.9 321.9 630.9 321.9 630.9 322.5 630.9 322.5 630.9 322.7 630.9 322.7 630.9 322.9 630.9 323.2 630.9 323.6 630.9 324.7 630.9 324.9 630.9 325 630.9 325.4 630.9 326.3 630.9 326.4 630.9 326.4 630.9 328.6 630.9 329.1 630.9 329.3 630.9 329.5 630.9 329.9 630.9 330.1 630.9 330.6 630.9 332.1 630.9 332.4 630.9 333.3 630.9 333.8 630.9 333.9 630.9 334.1 630.9 335.9 630.9 336 630.9 336.3 630.9 336.5 630.9 336.7 630.9 337.5 630.9 337.8 630.9 337.8 630.9 338.1 630.9 340.5 630.9 340.6 630.9 340.9 630.9 340.9 630.9 340.9 630.9 341.1 630.9 341.1 630.9 341.3 630.9 342.2 630.9 342.9 630.9 343.1 630.9 343.5 630.9 344 630.9 344.6 630.9 345.4 630.9 345.5 630.9 345.9 630.9 346 630.9 346.8 630.9 347.8 630.9 348 630.9 349 630.9 349.3 630.9 349.8 630.9 349.9 630.9 349.9 630.9 350.2 630.9 351 630.9 351.1 630.9 351.4 630.9 351.5 630.9 351.9 630.9 352.2 630.9 355.1 630.9 355.3 630.9 355.5 630.9 355.9 630.9 356 630.9 356.4 630.9 356.9 630.9 357 630.9 357.1 630.9 357.4 630.9 357.4 630.9 357.7 630.9 357.9 630.9 358 630.9 358.6 630.9 358.9 630.9 359.4 630.9 359.5 630.9 359.5 630.9 359.8 630.9 360.1 630.9 360.6 630.9 361.1 630.9 361.9 630.9 362.4 630.9 363.5 630.9 363.8 630.9 363.9 630.9 364.2 630.9 365.5 630.9 365.9 630.9 366 630.9 366.7 630.9 366.8 630.9 367.1 630.9 367.3 630.9 368 630.9 369 630.9 369.2 630.9 369.9 630.9 370.5 630.9 370.5 630.9 370.8 630.9 373.4 630.9 373.6 630.9 374 630.9 374.4 630.9 374.8 630.9 374.9 630.9 375 630.9 375.6 630.9 375.9 630.9 376.5 630.9 377.1 630.9 377.4 630.9 378.6 630.9 379.3 630.9 380.9 630.9 382.3 630.9 382.4 630.9 382.6 630.9 382.8 630.9 383.9 630.9 386.1 630.9 387.1 630.9 387.1 630.9 387.4 630.9 388.1 630.9 389.6 630.9 389.7 630.9 392.2 630.9 392.7 630.9 393.6 630.9 395.2 630.9 395.7 630.9 399.8 630.9 402.1 630.9 408.4 630.9 410.7 630.9 416.2 630.9 419.5 630.9 421.5 630.9 424.4 630.9 426.8 630.9 302.2 631.2 436 631.8 377.4 631.9 379.3 632 264 632.1 348.9 633 288.4 633.3 297.5 634.4 262.3 634.5 249.2 635.1 306.4 635.5 326.4 635.6 327.2 636.1 299.1 636.2 300.7 636.2 243.9 636.4 365 636.9 317.5 637.2 294.3 637.3 337.8 638 308.7 638.3 276.6 638.7 318.3 639.2 331.1 639.3 272.7 639.3 291.6 639.5 345.8 639.7 326.5 639.7 330.9 639.8 343.7 640 327.8 641.3 383.7 641.4 373.3 641.6 287.5 641.7 333.7 642.6 219.5 642.8 307.6 643.4 346.8 643.6 263.4 643.8 330.3 644.2 355.6 644.4 327.5 644.5 294.8 645.1 370.6 645.3 350.4 645.5 317 646.1 293.1 646.8 315.2 647.3 367 647.4 294.6 647.4 295.2 647.8 235.4 647.9 245.2 648 314.7 648 338.3 648.3 308.1 648.4 287.5 648.5 279.4 648.6 317.4 648.7 268.5 649 245.1 649.3 280.8 649.3 315.2 649.6 301.5 650.1 241.3 650.1 241.9 650.1 258.3 650.1 266.6 650.1 276.6 650.1 276.7 650.1 281.1 650.1 284.9 650.1 285.8 650.1 286.2 650.1 294.2 650.1 301.7 650.1 305.9 650.1 317.3 650.1 318.5 650.1 322.2 650.1 334.1 650.1 339.6 650.1 340.7 650.1 344.5 650.1 345.8 650.1 362.4 650.1 368.4 650.1 375.6 650.4 338.7 650.5 265.7 650.6 326.7 651.4 308.1 651.5 274.8 651.5 324.2 651.8 261.4 652 317.5 652.2 304.7 652.6 341.1 652.9 336.3 653.1 303.5 653.6 258.8 653.6 312.9 654 304.8 654.2 276.4 654.2 316.5 654.6 324.8 654.7 334.2 654.7 255.2 654.9 277.9 655.1 282.8 655.1 319.8 655.7 255.6 656.4 296.6 656.5 319.2 657.2 327 657.5 283.3 657.5 345.1 657.9 301 658 328.5 659 251.4 660.2 257.2 660.6 268.1 661.6 310.8 662 334.8 662.3 246.5 663.4 327 663.9 304.4 664.1 307.9 664.3 269.3 664.3 285.9 665.2 338.6 665.8 297.8 665.8 320.2 666.1 354.3 666.2 321.3 666.9 216.2 667 280.9 667 349.2 667.2 287.1 668.7 258.3 669.3 165.7 669.3 226.6 669.3 227.2 669.3 229.6 669.3 231.2 669.3 233.2 669.3 238.1 669.3 238.2 669.3 240.3 669.3 241.4 669.3 241.5 669.3 242.8 669.3 242.9 669.3 243.7 669.3 244.4 669.3 245.2 669.3 245.5 669.3 245.9 669.3 246 669.3 246.1 669.3 248.1 669.3 248.3 669.3 248.6 669.3 249.7 669.3 250 669.3 250.1 669.3 251 669.3 251.7 669.3 251.9 669.3 252.6 669.3 252.9 669.3 253 669.3 253.1 669.3 255.6 669.3 255.7 669.3 256.2 669.3 256.4 669.3 256.5 669.3 256.6 669.3 256.8 669.3 257.1 669.3 257.6 669.3 258.6 669.3 258.7 669.3 258.8 669.3 259.5 669.3 259.7 669.3 260.4 669.3 261.6 669.3 261.9 669.3 262.1 669.3 262.1 669.3 263.3 669.3 263.4 669.3 263.5 669.3 263.6 669.3 263.8 669.3 263.8 669.3 265 669.3 265.5 669.3 265.7 669.3 266.1 669.3 266.3 669.3 266.5 669.3 266.6 669.3 267 669.3 267.2 669.3 267.6 669.3 268.2 669.3 268.5 669.3 269.6 669.3 270.2 669.3 271.7 669.3 272.7 669.3 272.9 669.3 273.1 669.3 274.2 669.3 274.2 669.3 274.5 669.3 274.8 669.3 275.1 669.3 275.4 669.3 275.4 669.3 275.8 669.3 276.2 669.3 277.4 669.3 277.6 669.3 278.8 669.3 278.9 669.3 279 669.3 279.4 669.3 279.4 669.3 279.8 669.3 279.8 669.3 279.9 669.3 280.4 669.3 281.1 669.3 282 669.3 282.8 669.3 283.9 669.3 284.1 669.3 284.1 669.3 284.4 669.3 284.5 669.3 284.9 669.3 285.2 669.3 285.3 669.3 285.5 669.3 285.9 669.3 286 669.3 286.4 669.3 286.6 669.3 286.8 669.3 287 669.3 287.2 669.3 287.4 669.3 287.6 669.3 287.7 669.3 288 669.3 288.2 669.3 288.3 669.3 288.6 669.3 289.4 669.3 290.2 669.3 290.4 669.3 293.4 669.3 293.5 669.3 293.6 669.3 293.6 669.3 293.7 669.3 293.8 669.3 294.1 669.3 294.8 669.3 296 669.3 296.4 669.3 296.5 669.3 296.8 669.3 296.9 669.3 297 669.3 297.5 669.3 298.2 669.3 298.6 669.3 298.7 669.3 299.5 669.3 299.7 669.3 299.8 669.3 300.4 669.3 300.6 669.3 300.8 669.3 301 669.3 301.5 669.3 301.9 669.3 302.1 669.3 302.3 669.3 302.4 669.3 302.6 669.3 302.7 669.3 303 669.3 303.2 669.3 303.7 669.3 303.9 669.3 305.6 669.3 305.7 669.3 307.4 669.3 307.6 669.3 307.6 669.3 307.8 669.3 308.3 669.3 308.8 669.3 309.1 669.3 309.3 669.3 309.4 669.3 309.5 669.3 310 669.3 310.5 669.3 310.6 669.3 311 669.3 311.5 669.3 311.9 669.3 312.1 669.3 312.4 669.3 312.8 669.3 312.8 669.3 313.4 669.3 313.5 669.3 313.6 669.3 313.8 669.3 314 669.3 314.3 669.3 314.4 669.3 314.5 669.3 314.6 669.3 314.8 669.3 314.8 669.3 315.7 669.3 316.1 669.3 316.5 669.3 316.8 669.3 316.8 669.3 317.1 669.3 317.1 669.3 317.1 669.3 317.2 669.3 317.4 669.3 318.2 669.3 318.8 669.3 318.8 669.3 319.1 669.3 319.3 669.3 319.5 669.3 319.6 669.3 319.8 669.3 319.9 669.3 320.7 669.3 322 669.3 322.1 669.3 322.9 669.3 322.9 669.3 323 669.3 323.1 669.3 323.1 669.3 324.8 669.3 325.4 669.3 325.6 669.3 327.5 669.3 327.8 669.3 330 669.3 330.3 669.3 330.3 669.3 330.5 669.3 330.7 669.3 330.9 669.3 331 669.3 331.4 669.3 331.4 669.3 331.9 669.3 332.2 669.3 332.3 669.3 332.6 669.3 332.9 669.3 333.3 669.3 333.7 669.3 334.6 669.3 335 669.3 335.8 669.3 336.2 669.3 337.9 669.3 338.1 669.3 338.6 669.3 338.9 669.3 339.2 669.3 339.5 669.3 339.9 669.3 340 669.3 340.1 669.3 340.1 669.3 340.2 669.3 340.3 669.3 341.7 669.3 341.8 669.3 342.1 669.3 342.3 669.3 342.8 669.3 343.2 669.3 344.9 669.3 346 669.3 346.8 669.3 347.8 669.3 348.5 669.3 348.5 669.3 348.8 669.3 349 669.3 349.6 669.3 349.8 669.3 350.5 669.3 351.2 669.3 351.3 669.3 352.8 669.3 354.1 669.3 354.4 669.3 354.6 669.3 354.6 669.3 354.8 669.3 354.9 669.3 355.1 669.3 355.8 669.3 357.4 669.3 357.5 669.3 358.2 669.3 358.4 669.3 358.4 669.3 359.2 669.3 360.4 669.3 360.5 669.3 362.2 669.3 362.3 669.3 362.6 669.3 366.2 669.3 366.6 669.3 366.8 669.3 367.9 669.3 368.1 669.3 368.3 669.3 369.6 669.3 370.3 669.3 372.5 669.3 373.7 669.3 373.9 669.3 374 669.3 374.6 669.3 375 669.3 381.4 670.1 365.8 670.5 271.1 671.7 278.6 671.8 340.3 671.9 272.6 673.2 293.2 674 341.8 674.4 267 674.6 275.2 674.6 335.5 674.7 315.3 674.7 277.5 675.6 301.7 675.6 326 675.9 271.2 675.9 272.5 676.7 341.2 676.7 282.2 677.6 280.7 678.3 340.2 678.7 334.6 678.8 357.1 679.3 285.5 679.4 303.4 679.5 303.5 679.6 317.6 679.8 263.2 679.9 283.4 680 295.5 681.4 277.8 681.6 263.3 681.8 229.1 682.1 278.9 682.3 306.5 682.5 275.9 682.8 321.6 683.4 304.4 683.7 307.8 685.7 290.9 685.9 344.1 686 310.2 686.4 293.5 686.7 295.6 687.4 332.9 687.5 310.5 687.7 276.9 687.8 268.7 687.8 355.1 688.5 264 688.5 224.8 688.5 224.9 688.5 227.3 688.5 229.4 688.5 244.1 688.5 246.6 688.5 247.7 688.5 248.9 688.5 251.1 688.5 255.1 688.5 256.3 688.5 260.9 688.5 269.7 688.5 279.2 688.5 279.9 688.5 283.1 688.5 294.7 688.5 298.8 688.5 300.3 688.5 309.8 688.5 310.8 688.5 317.2 688.5 336.2 688.5 345.4 688.5 387.8 689.5 292 689.7 328.3 690 248.7 690.1 351.5 690.4 322.9 691.3 292.3 691.5 287.5 691.5 275.9 691.7 249.7 691.8 232.1 691.9 361.3 692.6 300.8 693.7 281 694.2 254.4 694.3 389.1 694.4 304 694.6 315.1 694.8 315.7 694.9 329.6 695.7 301.8 696.9 269.7 697 282.4 697.7 253.6 698.7 272.6 698.9 266.8 699.3 276.4 699.4 310 700.2 246.6 700.6 373.6 700.6 260.1 700.8 269.6 700.9 307.1 701 235.2 701.1 288.9 701.7 237.3 701.8 251.2 702.6 303 702.9 318.8 702.9 308.3 703 249.7 703.5 276.6 704.3 317.5 704.3 338.8 704.7 331.1 705.1 308.2 705.2 230 706.7 228.1 706.7 263.4 706.9 313.7 707.2 298.3 707.2 252.3 707.7 320.9 707.8 202.8 707.8 203.8 707.8 207.4 707.8 209 707.8 210.4 707.8 211.2 707.8 211.5 707.8 211.5 707.8 213.1 707.8 215.1 707.8 216.4 707.8 217.1 707.8 217.5 707.8 218.1 707.8 219.9 707.8 220.5 707.8 220.7 707.8 220.8 707.8 221.5 707.8 221.7 707.8 221.9 707.8 222 707.8 223.6 707.8 224.5 707.8 225.5 707.8 225.6 707.8 226 707.8 226 707.8 226.2 707.8 226.9 707.8 227.3 707.8 227.6 707.8 228.2 707.8 228.3 707.8 228.7 707.8 229.8 707.8 229.9 707.8 230.4 707.8 231.3 707.8 231.6 707.8 231.9 707.8 232.1 707.8 233.3 707.8 233.3 707.8 233.8 707.8 234.4 707.8 234.8 707.8 235.4 707.8 235.7 707.8 235.9 707.8 236.6 707.8 237 707.8 237.7 707.8 240.3 707.8 240.4 707.8 240.6 707.8 240.8 707.8 241 707.8 241.2 707.8 241.5 707.8 241.6 707.8 241.8 707.8 242 707.8 242.8 707.8 243 707.8 243.4 707.8 243.5 707.8 243.6 707.8 244.1 707.8 244.4 707.8 244.7 707.8 244.8 707.8 245.2 707.8 245.4 707.8 245.7 707.8 246 707.8 246.5 707.8 246.8 707.8 248.2 707.8 249.7 707.8 249.8 707.8 249.9 707.8 250.3 707.8 251.2 707.8 251.8 707.8 252.3 707.8 252.9 707.8 253.2 707.8 253.7 707.8 253.9 707.8 254.7 707.8 254.9 707.8 254.9 707.8 255 707.8 255.4 707.8 255.9 707.8 256.1 707.8 256.7 707.8 257.1 707.8 257.8 707.8 258 707.8 258.2 707.8 258.8 707.8 258.8 707.8 259.1 707.8 259.2 707.8 259.7 707.8 259.9 707.8 260.3 707.8 260.5 707.8 261.4 707.8 262.5 707.8 262.9 707.8 263.3 707.8 263.9 707.8 264.1 707.8 264.2 707.8 265.2 707.8 265.5 707.8 265.8 707.8 266.3 707.8 266.8 707.8 267.2 707.8 267.8 707.8 267.9 707.8 268 707.8 268.7 707.8 269 707.8 269.2 707.8 270.2 707.8 270.2 707.8 270.7 707.8 272.6 707.8 272.8 707.8 274 707.8 274.6 707.8 274.8 707.8 275.2 707.8 275.3 707.8 275.9 707.8 276.3 707.8 277.1 707.8 277.9 707.8 278.4 707.8 278.6 707.8 279.7 707.8 279.7 707.8 280.3 707.8 282.1 707.8 282.6 707.8 283.2 707.8 284.7 707.8 284.9 707.8 285.8 707.8 285.9 707.8 285.9 707.8 285.9 707.8 286.1 707.8 286.7 707.8 287 707.8 287 707.8 287.8 707.8 289 707.8 290 707.8 290.1 707.8 290.3 707.8 291.5 707.8 292.7 707.8 294.5 707.8 294.6 707.8 294.6 707.8 295.3 707.8 295.7 707.8 296.6 707.8 298.2 707.8 300.2 707.8 301.3 707.8 301.4 707.8 301.7 707.8 301.9 707.8 303.2 707.8 303.5 707.8 303.9 707.8 305 707.8 305.7 707.8 305.8 707.8 306 707.8 306 707.8 306.6 707.8 306.7 707.8 307.9 707.8 308.3 707.8 309.5 707.8 310.3 707.8 311 707.8 311.2 707.8 312.6 707.8 313.1 707.8 313.7 707.8 313.8 707.8 314.7 707.8 315.6 707.8 316.3 707.8 316.3 707.8 316.5 707.8 317 707.8 317.2 707.8 317.5 707.8 317.5 707.8 317.7 707.8 318 707.8 318.1 707.8 318.3 707.8 318.5 707.8 318.8 707.8 318.8 707.8 319.2 707.8 320.1 707.8 321.1 707.8 321.4 707.8 321.5 707.8 322.4 707.8 323.2 707.8 324.2 707.8 324.8 707.8 325 707.8 325.8 707.8 326.1 707.8 326.4 707.8 329.1 707.8 329.7 707.8 331.2 707.8 331.3 707.8 332.7 707.8 333.1 707.8 337.3 707.8 337.4 707.8 338.1 707.8 342.1 707.8 344.2 707.8 350.3 707.8 350.3 707.8 352 707.9 259.5 708 365.3 709 280.1 709.1 349.2 709.4 299 709.5 270 709.5 229.6 710.1 245 711.2 250.8 711.4 241.9 712.3 227.9 712.8 309.4 713 245.1 713.5 293.9 714.3 199.4 714.6 258.7 715.1 278.6 715.1 284.6 715.6 196.7 715.8 303.7 716.7 280 716.9 323.8 717.2 268.6 718.3 254 719.5 224.9 720 272.6 720 298.9 720.1 311.2 720.2 310.4 720.6 249.3 720.9 251.9 720.9 245.8 721.1 258.8 721.6 295.9 722.1 278.5 722.6 298.8 726.2 251.8 726.8 337.1 726.9 365.3 727 200.2 727 212.5 727 214.9 727 215 727 216.1 727 219.8 727 219.9 727 222.3 727 228.1 727 228.6 727 243.6 727 246.6 727 251.1 727 252.9 727 260.8 727 273.3 727 278.9 727 285 727 307.3 727 325.5 727.6 314.7 727.7 296 729 265.5 729.3 385.8 730.1 294.7 730.8 255.5 731.3 229.4 733.9 301 734.4 265.3 734.7 295 734.9 284.5 735.4 270.8 735.5 279.8 736.4 273 736.6 297.6 736.6 322.2 737.4 337.5 737.6 226.5 740 347.5 740.1 215.1 740.3 251.5 740.6 275.7 741.5 257.8 743.3 274.2 743.4 279 744.7 398.3 745.1 375.6 745.2 266.1 745.8 347.4 745.8 357.6 746 248.1 746.2 178.9 746.2 188.2 746.2 190.2 746.2 191.5 746.2 193.9 746.2 195.4 746.2 195.5 746.2 195.6 746.2 197.7 746.2 198.2 746.2 198.4 746.2 199.4 746.2 199.7 746.2 199.9 746.2 201.9 746.2 202 746.2 202.1 746.2 202.7 746.2 202.8 746.2 203.3 746.2 204.9 746.2 205.1 746.2 205.4 746.2 205.4 746.2 205.8 746.2 205.8 746.2 206.6 746.2 206.8 746.2 207.5 746.2 207.7 746.2 208 746.2 208.8 746.2 209.7 746.2 210 746.2 210.1 746.2 210.4 746.2 211 746.2 211.8 746.2 211.8 746.2 212.1 746.2 213.2 746.2 213.7 746.2 213.7 746.2 213.7 746.2 214.5 746.2 214.9 746.2 216 746.2 216.1 746.2 217.5 746.2 217.7 746.2 218.1 746.2 218.5 746.2 220 746.2 220.5 746.2 220.5 746.2 220.9 746.2 221.1 746.2 221.4 746.2 222.4 746.2 222.5 746.2 222.7 746.2 222.9 746.2 223.2 746.2 223.6 746.2 223.9 746.2 225.3 746.2 225.7 746.2 226.2 746.2 226.6 746.2 227.2 746.2 227.9 746.2 229.3 746.2 229.4 746.2 229.7 746.2 230.2 746.2 230.5 746.2 230.7 746.2 231 746.2 231.2 746.2 231.5 746.2 232.3 746.2 232.4 746.2 233.2 746.2 234.1 746.2 234.5 746.2 234.6 746.2 235.1 746.2 235.6 746.2 236.3 746.2 237.5 746.2 237.8 746.2 237.9 746.2 237.9 746.2 238.2 746.2 238.2 746.2 238.5 746.2 238.6 746.2 238.9 746.2 239.2 746.2 239.8 746.2 240 746.2 240.3 746.2 240.3 746.2 240.5 746.2 240.8 746.2 240.8 746.2 241.6 746.2 241.8 746.2 241.9 746.2 242.9 746.2 243.4 746.2 243.4 746.2 244.4 746.2 245.6 746.2 246 746.2 246.1 746.2 246.7 746.2 246.7 746.2 246.7 746.2 247.3 746.2 247.4 746.2 247.4 746.2 248.1 746.2 248.4 746.2 248.5 746.2 249 746.2 249 746.2 249.4 746.2 249.6 746.2 250.6 746.2 250.6 746.2 251.1 746.2 251.5 746.2 252.7 746.2 252.8 746.2 253.9 746.2 253.9 746.2 254.3 746.2 254.5 746.2 254.9 746.2 254.9 746.2 255.4 746.2 255.9 746.2 256.6 746.2 256.7 746.2 257 746.2 257.2 746.2 257.3 746.2 258.5 746.2 258.8 746.2 258.9 746.2 259.2 746.2 259.2 746.2 259.6 746.2 259.6 746.2 260.3 746.2 260.9 746.2 261.1 746.2 261.2 746.2 261.3 746.2 262.1 746.2 262.2 746.2 262.3 746.2 263 746.2 263.2 746.2 263.6 746.2 263.7 746.2 263.7 746.2 263.7 746.2 264 746.2 264.1 746.2 264.4 746.2 264.5 746.2 264.8 746.2 265.2 746.2 266.3 746.2 266.5 746.2 266.9 746.2 267.5 746.2 267.7 746.2 267.8 746.2 267.8 746.2 267.9 746.2 267.9 746.2 268.3 746.2 268.3 746.2 268.6 746.2 268.8 746.2 269 746.2 270.3 746.2 270.4 746.2 270.4 746.2 271.4 746.2 271.7 746.2 271.7 746.2 271.7 746.2 272 746.2 272.1 746.2 272.6 746.2 272.6 746.2 273 746.2 274.1 746.2 274.2 746.2 274.5 746.2 275.7 746.2 276.2 746.2 276.5 746.2 277.5 746.2 277.6 746.2 278.4 746.2 278.6 746.2 278.7 746.2 278.8 746.2 279.4 746.2 279.5 746.2 280.7 746.2 281 746.2 281.9 746.2 282 746.2 282.4 746.2 282.5 746.2 282.7 746.2 282.7 746.2 282.8 746.2 283.3 746.2 284.4 746.2 284.8 746.2 284.8 746.2 285.4 746.2 285.7 746.2 285.8 746.2 287 746.2 287.2 746.2 287.4 746.2 287.9 746.2 287.9 746.2 288.2 746.2 288.2 746.2 288.7 746.2 290 746.2 290 746.2 290.5 746.2 290.7 746.2 291.1 746.2 291.2 746.2 291.5 746.2 291.5 746.2 291.7 746.2 292.4 746.2 292.4 746.2 292.6 746.2 293.7 746.2 293.7 746.2 294.3 746.2 295.1 746.2 295.9 746.2 295.9 746.2 296 746.2 296.3 746.2 296.9 746.2 297.1 746.2 297.4 746.2 297.7 746.2 298.2 746.2 298.2 746.2 298.6 746.2 298.9 746.2 299.5 746.2 299.8 746.2 299.8 746.2 300.1 746.2 300.3 746.2 301.6 746.2 302 746.2 302.4 746.2 302.5 746.2 302.8 746.2 303 746.2 303 746.2 303.1 746.2 303.3 746.2 303.3 746.2 304.3 746.2 305 746.2 305.1 746.2 305.2 746.2 305.3 746.2 305.8 746.2 305.9 746.2 306 746.2 306.5 746.2 308.7 746.2 308.9 746.2 309 746.2 309.5 746.2 309.5 746.2 309.6 746.2 309.6 746.2 309.8 746.2 310.3 746.2 310.5 746.2 311.8 746.2 313.4 746.2 314.4 746.2 314.5 746.2 315.9 746.2 317 746.2 317.1 746.2 317.2 746.2 317.9 746.2 321.5 746.2 323.1 746.2 323.2 746.2 323.5 746.2 329.4 746.2 330.3 746.2 332 746.2 332.2 746.2 335 746.2 336.5 746.2 340.6 747.2 226.5 748 340.6 748 273.7 748.8 323.7 750.2 236.7 750.7 291 752.3 264 754.6 290.3 754.8 246.2 754.9 275.7 757.4 238.9 757.9 295.3 758.2 259.5 758.9 266.2 759 286.7 759.3 202.4 759.5 246.2 760.1 268.5 761.3 231.9 761.6 325.9 761.9 240.4 762.4 194.2 763.2 254.8 763.5 359.4 765.1 243.6 765.5 195 765.5 200.5 765.5 217.8 765.5 220.8 765.5 225.3 765.5 226.5 765.5 229.5 765.5 235.7 765.5 240.9 765.5 244.3 765.5 250.8 765.5 261.9 765.5 262.3 765.5 268.7 765.5 286.7 765.5 302.8 766.3 274.2 766.3 242.1 767.7 308.1 768.4 236 768.4 273.1 769.3 263.6 771.8 237.2 772.8 243.1 773.2 293.4 773.2 237.2 773.4 236.9 774.4 214.3 774.6 220.3 779.2 283.2 780.5 249.2 780.7 234.9 781.3 247.2 781.4 220.4 782.2 315.8 782.4 269.1 784.3 281 784.7 188.2 784.7 192.5 784.7 193.9 784.7 196.3 784.7 196.7 784.7 199.3 784.7 201.3 784.7 201.4 784.7 204.8 784.7 207.2 784.7 207.6 784.7 207.8 784.7 208.2 784.7 212.5 784.7 213.2 784.7 213.2 784.7 213.7 784.7 213.8 784.7 214.6 784.7 217 784.7 217.4 784.7 219 784.7 220 784.7 220.7 784.7 220.9 784.7 223.4 784.7 223.7 784.7 223.7 784.7 223.8 784.7 226.7 784.7 227.1 784.7 227.5 784.7 228.3 784.7 228.4 784.7 228.5 784.7 229.2 784.7 229.3 784.7 229.4 784.7 231.2 784.7 231.7 784.7 234 784.7 234.6 784.7 234.7 784.7 234.7 784.7 234.8 784.7 234.8 784.7 235.7 784.7 236.4 784.7 237.9 784.7 238.6 784.7 240 784.7 241.1 784.7 241.2 784.7 242 784.7 242.1 784.7 243.6 784.7 244 784.7 244.5 784.7 244.6 784.7 245.6 784.7 245.7 784.7 245.8 784.7 246.5 784.7 247.8 784.7 248.1 784.7 248.8 784.7 249.6 784.7 250.1 784.7 250.5 784.7 251.1 784.7 252.3 784.7 252.5 784.7 253.8 784.7 254 784.7 254.7 784.7 254.8 784.7 255 784.7 255.1 784.7 256.5 784.7 256.7 784.7 256.8 784.7 257.5 784.7 257.5 784.7 258.3 784.7 258.9 784.7 259.2 784.7 262.6 784.7 262.8 784.7 263.8 784.7 263.8 784.7 264.8 784.7 264.9 784.7 265 784.7 266.7 784.7 267.6 784.7 269.3 784.7 269.7 784.7 270.1 784.7 271.3 784.7 272.1 784.7 273.7 784.7 274.3 784.7 274.7 784.7 274.7 784.7 275.3 784.7 277.3 784.7 278.4 784.7 278.5 784.7 281.1 784.7 281.6 784.7 281.7 784.7 282.1 784.7 282.4 784.7 282.8 784.7 283.5 784.7 286.6 784.7 286.7 784.7 290.4 784.7 290.6 784.7 291.3 784.7 292.3 784.7 296.1 784.7 297.5 784.7 298.1 784.7 298.2 784.7 300.1 784.7 300.2 784.7 300.5 784.7 305.2 784.7 305.8 784.7 306.5 784.7 306.9 784.7 308.8 784.7 310.6 784.7 312.2 786.9 249.5 787.5 203.1 788.6 233.8 790.1 262.3 790.8 243 792.3 298.8 793.7 263 795.6 262.9 796.3 261.7 796.3 283.5 796.7 247.5 798.2 311.3 798.9 205.6 800.7 213 800.9 267 803.2 262.1 803.9 208.4 803.9 215.1 803.9 217.5 803.9 239 803.9 251.8 803.9 261.6 803.9 263.2 803.9 264.9 803.9 272.3 803.9 279 803.9 282.5 803.9 302.9 805 225.1 805.5 232.4 805.8 289 805.9 286.9 806.2 328.4 807 272.8 807.8 302.1 807.9 243.9 809.4 215.4 812.9 230.7 818.3 231.1 818.7 198 819.2 252.4 821.1 298.2 822.4 265.9 822.7 208.1 822.8 306 822.8 224.3 823.1 166.9 823.1 171.9 823.1 176.9 823.1 178.8 823.1 182.1 823.1 183 823.1 184.8 823.1 185.6 823.1 186 823.1 189 823.1 190.9 823.1 192.1 823.1 195.6 823.1 197.8 823.1 199.3 823.1 201.9 823.1 202.9 823.1 203.8 823.1 205.2 823.1 205.5 823.1 205.7 823.1 206.1 823.1 207 823.1 208.1 823.1 209.9 823.1 213.2 823.1 214.3 823.1 217.5 823.1 218.6 823.1 220.4 823.1 221.1 823.1 223.4 823.1 224.9 823.1 226.8 823.1 227.5 823.1 227.9 823.1 229.4 823.1 231 823.1 232.6 823.1 234.4 823.1 236.8 823.1 236.9 823.1 238.8 823.1 239.4 823.1 242.4 823.1 243.2 823.1 243.3 823.1 244.6 823.1 245.3 823.1 246.5 823.1 248.2 823.1 251.8 823.1 253 823.1 253.5 823.1 255.1 823.1 256.1 823.1 259.3 823.1 260.1 823.1 260.2 823.1 268.3 823.1 269.1 823.1 269.8 823.1 269.9 823.1 270.7 823.1 275.3 823.1 280 823.1 281.9 823.1 291.8 823.1 301.2 823.1 301.7 823.1 368.6 823.9 249.5 824.2 315 824.7 235.6 825.1 282.6 827.7 174.1 828.1 221.1 830.8 231.8 833.1 275.1 834.3 206.3 835.8 224.6 842.4 177.6 842.4 182.3 842.4 183.9 842.4 194 842.4 215.1 842.4 256.2 842.4 259.9 842.4 276.6 843.4 231.9 845.2 283.7 846.8 249.1 849.5 234.5 850 219.6 850.8 193.8 851 238.5 852.4 208.8 853.6 216.7 854.4 214.3 859.6 236 861.2 244.2 861.6 169.8 861.6 171.7 861.6 171.7 861.6 186.8 861.6 189.7 861.6 192.1 861.6 193.2 861.6 193.3 861.6 196.9 861.6 197.2 861.6 199.3 861.6 202.2 861.6 202.9 861.6 204.7 861.6 205.1 861.6 208.5 861.6 212.3 861.6 213.1 861.6 216.2 861.6 217.7 861.6 223.2 861.6 223.6 861.6 224.6 861.6 226 861.6 229 861.6 231.6 861.6 231.9 861.6 238.3 861.6 239.1 861.6 240 861.6 249.8 861.6 258 861.6 262.5 861.6 265.3 861.6 272.7 865.4 216.6 869.9 245.2 871.2 256.8 879.8 218.7 880.8 216.6 880.8 236.7 880.8 249.4 880.8 250.8 882.3 243 888.8 242.6 890.1 217.3 890.2 170.6 896.9 236 899.3 270.3 899.4 232.1 899.6 230.6 900 155.7 900 161.1 900 175.1 900 192.6 900 199 900 200.4 900 254.6 900 256.6 900 266.7 977 139.8" fill="none" marker-start="url(#m)" marker-mid="url(#m)" marker-end="url(#m)"/></g>
<g clip-path="url(#cr)"><path d="M1173.7 272.1 1175.5 258.4 1176.4 266.2 1176.5 264.1 1178.4 205 1178.6 250.3 1178.6 262.6 1180.8 273.6 1183 257.7 1185.1 261.2 1187.4 241.8 1187.4 250.3 1187.4 274.8 1189 267.8 1190.1 209.2 1191.7 257.6 1191.8 260.1 1191.8 282.1 1191.8 257.7 1193.5 283.1 1194 258.9 1194 233.2 1194.5 283.6 1194.8 270.3 1195 259.4 1196 284.4 1196.2 274.8 1197.2 256.3 1197.3 283.9 1197.5 244.3 1200.7 262.6 1202.6 239.2 1202.9 288.3 1203.1 263.9 1203.4 239.6 1204.2 264.5 1204.6 215.9 1204.8 287.2 1205.4 212.8 1205.5 265.3 1205.6 277.5 1206.1 290.1 1207.2 286.5 1207.4 248.1 1208.4 249.5 1208.4 252.4 1208.5 222.1 1208.7 291.5 1209.3 291.8 1209.3 267.4 1210.2 267.8 1210.5 239.6 1210.5 268 1210.7 243.7 1211.3 268.5 1211.4 263 1213.1 269.5 1213.3 294 1213.6 257.5 1213.7 289.1 1214 242.7 1214.1 240.8 1214.1 270 1214.2 239.9 1214.3 294.6 1214.6 230.8 1214.8 291.1 1215.4 224.7 1216.1 209.7 1216.2 271.2 1216.4 295.7 1216.7 220 1216.9 235.3 1217.1 232.8 1217.3 222.9 1217.4 271.8 1217.4 276 1217.8 282.5 1218.6 292.2 1219.6 236.1 1219.7 285.3 1219.9 243.7 1220.2 297.8 1220.5 249.1 1220.6 273.6 1220.7 249.2 1221.1 227 1221.2 218.5 1221.4 266.4 1221.6 249.7 1222 255.5 1222.3 274.5 1222.3 250.1 1222.4 232.4 1222.5 263 1222.7 263.4 1223.1 275 1224.2 300 1224.2 289.3 1224.5 276.3 1226 301.1 1226.1 276.7 1226.8 267.2 1227 301.6 1227 301.6 1227 228.4 1227.2 289.5 1227.4 300.9 1227.5 289.7 1227.8 277.6 1228 202.4 1228.3 204.5 1228.4 290.1 1229 204.9 1229.1 253.9 1229.2 278.4 1229.6 229.7 1229.6 229 1229.9 254.3 1230 284.2 1230.3 266.5 1230.4 279 1230.7 292.6 1230.8 205.9 1230.9 248.6 1230.9 275.6 1231.7 281.7 1232 231 1232.8 280.4 1232.9 225.1 1233 304.6 1233.2 280.6 1233.3 301.1 1233.6 281.8 1233.7 280.9 1233.8 294.5 1233.9 256.5 1234.5 199.5 1234.5 267.3 1234.8 305.9 1235.2 281.7 1235.2 294.4 1235.3 257.3 1235.3 232.9 1235.5 233 1236 283.9 1237 282.7 1237.2 265.9 1237.3 276.9 1237.6 276.3 1238.4 202.2 1238.6 256.7 1238.9 295.5 1239 283.8 1239 237.3 1239.3 284 1239.6 251.5 1239.7 271.9 1239.8 259.8 1239.9 245.8 1239.9 308.8 1240.1 284.4 1240.1 284.2 1240.2 284.5 1240.3 284.5 1240.3 231.5 1240.5 231.8 1240.6 260.2 1241.2 300.2 1241.4 236.2 1241.7 236.4 1242.3 303.5 1242.8 237 1242.9 254.7 1243.6 300.8 1243.7 293 1243.8 286.5 1243.8 285.5 1244.2 237.8 1244.4 262.3 1244.5 237.9 1244.8 201.7 1244.9 262.6 1245 238.3 1245.1 210.7 1245.4 212.8 1245.7 235.2 1245.7 275.2 1246.1 263.3 1246.1 312.2 1246.2 263.2 1246.3 312.3 1246.5 312.4 1246.6 237.9 1246.7 283.6 1246.7 288.1 1246.8 239.2 1246.9 288 1247 204.3 1247.2 287.3 1247.9 252.2 1248 239.9 1248 215.5 1248.4 293.7 1248.8 305.5 1249.4 266.7 1249.5 240.7 1249.6 231.3 1249.8 303.4 1250 275.8 1250 269 1250.2 241.1 1250.5 244.2 1250.9 217 1250.9 290.4 1251 217.1 1251.2 253.9 1251.2 217.2 1251.2 229.4 1251.5 254.1 1251.6 267.4 1251.7 269 1251.9 282.6 1252 313.6 1252.1 291.1 1252.3 269 1252.3 305.8 1252.3 315.6 1252.4 278.2 1252.4 259.1 1252.5 303 1252.5 256.2 1252.6 218.7 1252.6 315.8 1252.7 279.2 1253.2 218.3 1253.4 279.5 1253.9 316.3 1253.9 292.1 1254 304.3 1254 289.6 1254.1 316.6 1254.1 279.9 1254.3 218.9 1254.4 251.9 1254.5 292.4 1254.9 313 1255.2 265.4 1255.4 311.1 1255.7 269 1255.8 293.1 1255.8 293.1 1256.1 244.4 1256.2 245.6 1256.2 297.4 1256.5 214.5 1256.8 248.5 1256.8 293.7 1256.9 235.8 1256.9 285.6 1257.4 312.6 1257.6 245.2 1257.9 265.9 1258 221 1258.3 217.9 1258.4 270.1 1258.5 221.3 1258.9 294.8 1258.9 319.3 1259 237.6 1259.1 253.8 1259.4 316.7 1259.5 258.7 1259.7 270.8 1259.8 290.6 1260 258.7 1260.1 307.7 1260.2 295.5 1260.2 222.2 1260.3 283.3 1260.4 262.2 1260.7 246.9 1260.9 247 1260.9 276.8 1261 277.4 1261.1 222.7 1261.1 299.7 1261.2 275 1261.4 222.8 1261.6 175.3 1261.8 271.9 1261.9 247.6 1262 308.7 1262.1 320.5 1262.3 268.4 1262.6 288.4 1262.6 204 1263 220.3 1263.3 248.4 1263.4 305.4 1263.4 315.5 1264.3 310 1264.4 206.5 1264.6 322.5 1264.8 322.5 1264.8 275.9 1264.8 212.5 1264.9 201 1265.2 277.2 1265.4 279.8 1265.5 286.2 1265.7 258.2 1265.8 259.7 1266.1 281.2 1266.2 323.3 1266.2 314.5 1266.5 213.4 1266.7 323.6 1266.8 309.5 1267.3 226.1 1267.5 313.9 1267.6 294.7 1267.7 197.7 1267.7 306.1 1268.2 226.6 1268.3 324.5 1268.3 300 1268.6 226.9 1268.9 289.7 1269 276 1269.1 300.5 1269.2 202.7 1269.3 227.2 1269.4 251.7 1269.9 267.5 1269.9 203.1 1270.1 288.2 1270.2 241 1270.4 203.4 1270.7 298.2 1270.8 291.9 1270.8 252.5 1271.1 313.8 1271.2 203.8 1271.2 298 1271.3 300.4 1271.3 252.8 1271.3 301.7 1272.2 326.6 1272.4 204.5 1272.5 241.2 1272.6 302.4 1272.7 302.5 1272.8 302.5 1272.8 327 1273.3 283.6 1273.6 229.6 1273.8 305.9 1274 291 1274.1 327.7 1274.2 327.7 1274.4 317 1274.4 324.9 1274.7 230.2 1274.7 230.2 1275 254.9 1275.1 296.6 1275.2 264 1275.3 262.9 1275.3 255 1275.3 230.6 1275.4 304 1275.6 305.5 1275.6 262.7 1275.7 225.4 1275.8 328.6 1275.9 279.8 1275.9 288.9 1276.5 317.2 1276.6 329 1276.6 254.5 1277 253.6 1277.1 314 1277.3 327 1277.8 243.1 1277.8 280.9 1278.2 329.9 1278.3 256.7 1278.6 256.3 1278.7 259.3 1278.8 244.7 1278.8 134.4 1278.8 227.1 1278.9 281.8 1279.4 281.7 1279.4 275 1279.4 235.8 1279.6 208.5 1279.9 208.6 1279.9 264.8 1280.1 310.5 1280.3 208.9 1280.3 208.9 1280.4 257.8 1280.4 306.8 1280.5 209 1280.5 312.5 1280.7 288.6 1281 269.2 1281.1 331.6 1281.3 317.2 1281.3 271.4 1281.3 274.3 1281.4 260.4 1281.4 209.5 1281.6 292.3 1281.6 208.7 1281.9 242.6 1282.2 251.6 1282.3 234.4 1282.3 298 1282.4 265.5 1282.5 246.8 1282.8 317.6 1282.8 210.3 1282.9 320.3 1282.9 234.8 1282.9 259.2 1283 201.2 1283 259.5 1283 233.2 1283.2 228 1283.2 185.8 1283.2 283.8 1283.3 271.1 1283.4 235 1283.5 256.1 1283.5 328.9 1283.7 278.4 1283.8 307.2 1283.9 235.3 1284.2 308.8 1284.3 211.1 1284.6 211.3 1285 235.9 1285 236 1285.3 260.6 1285.4 302.3 1285.4 316.5 1285.5 236.2 1285.6 211.8 1285.8 248.9 1285.9 236.4 1286.2 261.1 1286.3 273.3 1286.4 197.2 1286.7 267.2 1286.9 237 1287.4 250.4 1287.4 258.3 1287.6 304.4 1287.6 292 1287.6 190.7 1288.1 271.8 1288.1 239.9 1288.2 274.9 1288.2 239 1288.3 262.2 1288.3 262.2 1288.8 266 1289 213.7 1289.1 213.7 1289.2 297.4 1289.3 226.1 1289.3 277.3 1289.5 262.8 1289.6 262.9 1289.7 214.1 1289.8 238.6 1289.9 313 1290 214.3 1290 336.5 1290.1 298.6 1290.1 276 1290.2 287.7 1290.4 325.2 1290.7 307.5 1290.7 260.7 1290.9 337 1290.9 214.8 1291 317.7 1291.5 239.5 1291.9 239.7 1292.1 263.5 1292.2 239.9 1292.4 215.6 1292.5 259.8 1292.6 334.3 1292.8 279.3 1293.1 297.2 1293.2 294.4 1293.2 240.5 1293.2 283 1293.3 289.4 1293.7 205.9 1294.1 298.3 1294.1 216.5 1294.2 241 1294.4 265.6 1294.5 216.7 1294.9 289.2 1294.9 318.6 1295 277 1295 241.5 1295.2 321.6 1295.3 217.2 1295.4 217.2 1295.7 217.4 1295.7 217.4 1295.8 217.5 1295.9 217.5 1296.1 302.3 1296.1 266.5 1296.2 245.7 1296.5 266.8 1296.7 305.1 1296.9 266.9 1296.9 291.4 1297.1 310.9 1297.3 269.4 1297.4 298.5 1297.4 279.5 1297.5 268.7 1297.8 138.6 1297.8 275 1297.8 243 1298 243.1 1298.3 308.7 1298.4 313.2 1298.6 338.5 1298.6 284.4 1298.8 233.5 1298.8 219.1 1299 292.6 1299 292.6 1299 219.2 1299.3 193.3 1299.3 323.2 1299.4 305 1300 232 1300.3 244.4 1300.4 220 1300.4 295.5 1300.5 285.3 1301.2 220.4 1301.2 318.8 1301.3 269.4 1301.4 269.5 1301.5 296.8 1301.5 266.4 1301.6 306.7 1301.7 245.1 1301.8 209.1 1301.8 220.8 1302.4 318.9 1302.6 240.1 1302.7 264.3 1302.8 245.8 1302.8 221.3 1302.9 294.7 1302.9 258.9 1303.1 305.1 1303.2 291.7 1303.5 344 1303.9 319.7 1303.9 322.1 1304.3 211.8 1304.6 222.3 1304.7 222.4 1304.7 266.9 1305.1 271.5 1305.3 210.9 1305.4 261 1305.4 212.8 1305.5 242.1 1305.8 223 1305.8 340.9 1305.9 223 1306.2 312.8 1306.2 223.2 1306.4 320 1306.5 272.3 1306.5 296.7 1306.7 307.2 1307 318.2 1307 248.1 1307.1 210.5 1307.3 248.2 1307.3 330.5 1307.4 277 1307.4 248.9 1307.6 272.9 1307.6 285.1 1307.7 283.8 1307.9 224.1 1308 231.7 1308 224.2 1308.1 224.2 1308.2 303.9 1308.3 322.2 1308.3 224.4 1308.5 200.1 1308.5 224.5 1308.7 261.3 1308.7 224.6 1309.3 294.9 1309.4 225 1309.6 249.6 1309.7 297.5 1309.7 274.1 1309.8 249.7 1309.9 212 1310 294.8 1310.1 315.7 1310.1 176.2 1310.2 225.4 1310.2 274.3 1310.2 225.4 1310.3 225.5 1310.4 225.5 1310.5 286.7 1310.9 225.8 1310.9 245.3 1311.1 299.3 1311.1 339.8 1311.2 288.1 1311.5 309.4 1311.6 250.6 1311.8 226.3 1312.2 263.2 1312.2 287.7 1312.3 275.5 1312.4 188.6 1312.5 275.6 1313 209.6 1313 236.2 1313.1 305.7 1313.1 227 1313.1 300.4 1313.3 198 1313.3 333.6 1313.3 276 1313.3 251.6 1313.3 227.2 1313.4 227.2 1313.5 227.2 1313.5 227.3 1313.6 229.4 1313.9 328.2 1314 300.9 1314.1 223.7 1314.1 262.1 1314.2 226.9 1314.4 268 1314.4 203.3 1314.5 259.3 1314.9 228 1314.9 253.7 1315 234.2 1315 239.6 1315.1 252.6 1315.1 334.9 1315.2 227.5 1315.2 288.3 1315.5 252.8 1315.7 350.3 1315.9 228.6 1316.1 266.1 1316.1 302.1 1316.3 157.2 1316.3 274.6 1316.4 213.6 1316.4 228.9 1316.4 286.1 1316.6 284.6 1316.6 318.6 1316.7 251.7 1316.8 278 1317.3 316.4 1317.4 323.5 1317.5 294.1 1317.7 229.6 1317.7 213.4 1318.1 216.6 1318.2 219.3 1318.3 313.9 1318.3 220.5 1318.4 252.3 1318.5 292.1 1318.9 230.3 1319.6 302.7 1319.7 349.1 1319.9 291.9 1320.2 303 1320.3 292.2 1320.4 344 1320.4 268.7 1320.7 238.9 1321.3 269 1321.3 273.2 1321.5 280.6 1321.6 305.1 1321.6 256.2 1321.9 280.8 1322.3 281 1322.7 183.4 1322.7 232.3 1322.9 316.3 1322.9 333.5 1322.9 271.7 1323.2 284 1323.3 296.2 1323.3 239.7 1323.3 306.5 1323.4 308.7 1323.4 330 1323.6 281.7 1323.6 232.8 1323.8 257.4 1324.1 213.8 1324.3 86.8 1325 225.7 1325.1 305.8 1325.2 233.7 1325.3 233.8 1325.4 255 1326 147.6 1326.2 283.2 1326.3 286.2 1326.4 283.3 1326.5 223.4 1327 256.1 1327.1 250.2 1327.2 209.9 1327.2 283.8 1327.3 210.4 1327.4 308.3 1327.6 235.1 1327.8 217.6 1328.1 302.8 1328.2 282.1 1328.2 259.8 1328.2 186.5 1328.2 235.4 1328.4 263.2 1328.5 299.5 1328.8 272.4 1328.9 211.3 1329 211.4 1329.1 314.7 1329.4 247.5 1329.5 226.2 1329.6 274.8 1329.7 324.9 1329.8 202.5 1330 260.8 1330.1 318.9 1330.1 265.9 1330.1 206.7 1330.1 272.2 1330.3 261 1330.3 261 1330.5 322.2 1330.6 310.1 1330.6 261.2 1331.2 237 1331.2 268.8 1331.2 336.1 1331.3 237.1 1331.9 350.1 1331.9 261.9 1332.5 286.7 1333 311.4 1333 255.8 1333 262.5 1333.5 256.1 1333.7 214 1333.7 287.4 1334.2 224.4 1334.3 254 1334.4 287.7 1334.5 214.5 1334.6 263.9 1334.6 239 1334.7 312.3 1334.9 269.5 1335 300.2 1335.1 288.1 1335.3 312.7 1335.3 159.6 1335.3 214.9 1335.7 239.6 1335.8 239.6 1336 239.7 1336 323.9 1336.1 239.8 1336.3 288.8 1336.8 264.6 1336.8 252.4 1337 320.3 1337 264.5 1337.1 305.7 1337.5 240.5 1337.5 267.6 1337.5 220.5 1337.6 288.6 1337.7 277.3 1337.7 216.2 1338 265.3 1338 228.6 1338.2 314.3 1338.4 290 1338.7 277.7 1339 216.9 1339 326.9 1339.2 217.2 1339.2 288.5 1339.3 303 1339.4 241.6 1339.6 229.5 1339.6 242.7 1339.6 236.4 1339.8 217.4 1339.8 266.3 1339.9 292.3 1340.2 217.6 1340.2 242 1340.2 315.4 1340.6 343.9 1340.8 308.5 1340.9 218 1340.9 266.9 1341 266.9 1341.1 265.6 1341.2 291.5 1341.3 279.3 1341.3 303.8 1341.6 324.1 1341.8 295.6 1341.9 230.3 1342.2 227.2 1342.3 267.7 1342.4 258.3 1342.7 266.9 1342.7 285.1 1342.8 219 1342.9 316.9 1343.2 282 1343.3 260.6 1343.4 219.4 1343.5 195 1343.8 269.1 1344 285 1344.1 171.6 1344.2 268.7 1344.3 244.3 1344.7 244.5 1344.9 233.6 1345 220.3 1345.1 244.8 1345.2 220.4 1345.2 322.4 1345.4 293.8 1345.7 245.1 1345.7 220.6 1345.7 269.6 1345.9 233 1346 220.8 1346.2 252.8 1346.2 257.6 1346.2 217.3 1346.5 255.6 1346.5 245.5 1346.5 221.1 1346.5 245.5 1346.6 307.3 1346.6 332.1 1346.6 245.6 1346.8 245.7 1347.2 245.9 1347.2 221.5 1347.2 245.9 1347.3 225 1347.4 246 1347.8 347.9 1347.8 270.7 1347.8 246.3 1347.9 221.9 1348 295.3 1348 295.3 1348 289 1348.1 295.3 1348.1 222 1348.4 197.7 1348.5 223.9 1348.6 274.9 1348.7 222.3 1348.7 352.4 1348.8 296.2 1349 331 1349.3 222.7 1349.8 222.9 1350.1 259.7 1350.2 320.9 1350.3 247.6 1350.7 307.2 1350.8 247.9 1351 248 1351 248 1351.1 235.9 1351.3 287.7 1351.4 321.6 1351.7 248.4 1351.7 248.4 1351.8 248.4 1351.8 272.9 1352 332.1 1352.1 224.2 1352.2 312.3 1352.2 224.3 1352.2 273.2 1352.2 273.2 1352.4 322.1 1352.5 199.9 1352.8 285.2 1352.9 306.7 1352.9 249.1 1352.9 200.2 1353 103.1 1353.4 335 1353.5 261.6 1353.8 249.6 1354.1 274.2 1354.5 304.1 1354.8 264.6 1354.8 250.1 1354.9 304.2 1355 300.7 1355 262.5 1355.2 104.9 1355.2 311.5 1355.2 274.8 1355.5 186.3 1355.5 250.5 1355.7 250.6 1355.7 225.6 1356 201.9 1356 128.8 1356.2 313.7 1356.3 283.6 1356.3 275.4 1356.4 339.2 1356.5 294.5 1356.7 338.9 1357 222.5 1357.3 227 1357.3 251.3 1357.4 227.1 1357.4 261.7 1357.5 218.9 1357.6 276.1 1357.7 274.6 1357.8 300.7 1358 276.3 1358.1 227.5 1358.2 227.6 1358.2 215.3 1358.3 301 1358.5 252.2 1358.6 272.2 1358.7 276.7 1358.8 273.1 1358.9 203.5 1358.9 261 1359.2 228.1 1359.2 302.3 1359.2 228.1 1359.3 237.5 1359.3 228.2 1359.4 277.1 1359.4 301.6 1359.7 255.5 1359.8 252.9 1359.8 204 1359.9 326.3 1360.1 228.6 1360.2 271.2 1360.2 277.6 1360.3 306.6 1360.4 273.1 1360.7 241.2 1360.7 302.3 1361 302.4 1361.3 302.6 1361.3 204.8 1361.3 326.8 1361.6 229.4 1361.6 300.3 1361.7 270.8 1362.1 296.9 1362.3 329.2 1362.7 243.2 1362.7 247.4 1362.9 303.5 1363 303.6 1363.1 256.3 1363.1 239.4 1363.2 230.3 1363.3 232.2 1363.6 354.6 1363.8 277.8 1363.8 230.7 1363.9 206.3 1363.9 279.6 1364 377.5 1364 255.2 1364.1 206.4 1364.2 230.9 1364.3 206.5 1364.4 304.3 1364.4 231 1364.5 252.9 1364.6 206.7 1364.6 267.8 1364.7 255.6 1364.8 231.2 1364.8 282.9 1364.9 267.9 1365 254 1365 328.6 1365 206.9 1365.1 231.4 1365.3 280.4 1365.5 340.8 1365.5 320.8 1365.5 304.3 1365.6 246.4 1365.7 258.8 1365.8 207.3 1365.9 307.7 1366.3 221.2 1366.4 329.9 1366.4 305.5 1366.5 246.7 1366.5 281.1 1366.6 269.5 1366.7 196.5 1366.7 298.1 1366.7 281.2 1366.7 221.4 1367.6 254.4 1367.7 341.4 1368.1 208.6 1368.4 302.8 1368.6 257.8 1368.9 215 1369 258 1369.2 282.2 1369.3 258.1 1369.3 233.7 1369.6 282.8 1369.7 311.4 1369.7 209.5 1369.8 317.3 1369.8 209.5 1370 234.1 1370 221.9 1370.1 250.4 1370.4 244.3 1370.5 258.8 1370.5 220.9 1370.6 299.3 1370.6 234.5 1370.8 248.5 1370.9 234.6 1370.9 332.4 1371.1 234.7 1371.2 234.8 1371.3 234.8 1371.4 259.3 1371.6 214.5 1371.6 259.4 1371.8 235.1 1371.9 210.7 1371.9 264.8 1371.9 284.1 1372.2 242.4 1372.2 235.3 1372.4 259.9 1372.6 211.1 1372.6 186.6 1372.7 199.6 1372.9 282.2 1373.3 277.1 1373.4 309.3 1373.4 333.8 1373.6 297.2 1373.9 236.3 1373.9 276.3 1374 285.2 1374 309.7 1374.1 260.8 1374.1 303.7 1374.4 272.8 1374.9 309.7 1375 298 1375.1 261.4 1375.2 268.2 1375.2 261.5 1375.5 249.4 1375.5 286.1 1375.9 124.7 1376 286.3 1376 249.7 1376 237.4 1376.2 245.6 1376.4 237.6 1376.5 262.2 1376.5 311.1 1376.6 237.8 1376.8 243 1376.8 311.2 1376.9 293.2 1377 207.1 1377.2 213.7 1377.4 311.5 1377.4 238.2 1377.5 195.5 1377.7 287.3 1377.7 213.9 1377.8 283.6 1377.9 227.1 1378.1 238.6 1378.1 311.9 1378.2 338.8 1378.3 198.4 1378.3 332.8 1378.4 263.2 1378.9 214.6 1378.9 214.6 1379 248.1 1379 214.6 1379.3 239.2 1379.3 263.7 1379.5 223 1379.5 202.7 1379.5 337.2 1379.6 239.4 1379.7 263.9 1379.8 215.1 1379.8 264 1379.9 129.5 1380 215.2 1380 302.8 1380.1 239.7 1380.1 264.1 1380.2 215.3 1380.3 215.3 1380.3 239.8 1380.4 264.3 1380.6 288.9 1380.6 240 1380.6 264.4 1380.8 264.5 1380.8 337.9 1380.8 240.1 1380.9 337.9 1381.1 251.5 1381.3 264.8 1381.4 232.7 1381.5 286.3 1381.6 254.3 1381.8 265.1 1381.9 311.7 1381.9 288 1382.1 227.7 1382.2 216.4 1382.2 216.4 1382.4 314.3 1382.5 223.4 1382.6 241.1 1382.6 192.2 1382.6 265.5 1382.7 241.2 1383.1 263.3 1383.2 217 1383.2 241.4 1383.3 290.4 1383.3 271.7 1383.6 263.5 1383.8 266.2 1383.8 329.7 1383.8 197.3 1384 241.9 1384.2 266.4 1384.4 260.2 1384.8 266.7 1384.8 217.8 1384.8 230.1 1384.9 291.3 1385 266.8 1385 219.4 1385 281.1 1385.1 241 1385.3 270.7 1385.6 291.6 1385.7 291 1385.8 217.2 1386 267.4 1386.1 243 1386.3 267.6 1386.5 316.6 1386.5 218.8 1386.5 203.2 1386.5 267.8 1386.7 271.1 1386.9 240.6 1387 268 1387 286.4 1387.2 317 1387.2 277 1387.6 302 1387.6 294.6 1387.8 334.3 1387.8 257.7 1387.9 292.9 1388.1 219.7 1388.2 244.2 1388.3 317.6 1388.6 220 1388.9 268.6 1388.9 244.6 1389 220.2 1389 293.5 1389 253.1 1389.2 330.3 1389.3 293.7 1389.3 318.2 1389.4 237.3 1389.6 265.3 1389.8 317.3 1389.8 342.9 1390.1 242.7 1390.2 343.1 1390.6 221.1 1390.7 238.7 1390.8 298 1391 245.8 1391.2 204.6 1391.2 294.8 1391.3 245.9 1391.3 247.5 1391.3 286.3 1391.3 220.2 1391.5 270.4 1391.7 246.1 1391.9 258.4 1391.9 270.7 1392.1 262.9 1392.1 319.7 1392.6 271.1 1392.7 246.7 1392.8 265.1 1392.8 246.7 1392.8 271.2 1392.8 232.9 1392.8 271.2 1392.9 246.8 1393 344.6 1393 210.4 1393.1 260.1 1393.2 310.2 1393.5 344.9 1393.6 320.5 1393.7 290.7 1393.8 288 1393.8 271.8 1393.9 320.4 1394.1 198.5 1394.1 274.2 1394.3 223.1 1394.3 255.6 1394.4 198.7 1394.4 302 1394.5 247.7 1394.6 307.4 1394.6 247.7 1394.6 247.7 1394.6 260 1394.6 198.4 1394.7 284.5 1394.9 223.4 1394.9 321.2 1394.9 394.6 1394.9 321.3 1394.9 223.5 1395.1 277 1395.2 307 1395.6 199.4 1395.8 272.8 1395.9 297.3 1396 346.3 1396.1 266.3 1396.1 273 1396.2 223.2 1396.5 297.7 1396.7 349 1396.8 248.9 1396.8 212.3 1396.8 224.5 1396.8 318.1 1397.2 322.5 1397.3 224.8 1397.4 298.1 1397.5 206.7 1397.5 273.8 1397.6 288.5 1397.6 224.9 1397.6 224.9 1397.7 273.9 1397.9 274 1398 200.7 1398.1 282.7 1398.1 200.8 1398.3 297.7 1398.3 323.1 1398.4 261.9 1398.6 298.8 1398.9 225.6 1399 299.5 1399.1 274.7 1399.2 213.6 1399.2 274.7 1399.3 260 1399.4 228.7 1399.5 217.2 1399.6 266.5 1399.6 239.6 1399.7 226.1 1399.7 250.6 1399.8 226.1 1399.8 250.6 1400 226.3 1400.1 287.4 1400.3 233.4 1400.5 233.5 1400.8 277.9 1401 177.9 1401 251.3 1401.1 264.5 1401.1 300.2 1401.2 275.8 1401.4 278.6 1401.4 251.5 1401.5 276 1401.5 255 1401.5 284.8 1401.6 276 1401.6 251.6 1401.9 276.2 1402 251.8 1402 215.1 1402.2 322.4 1402.2 288.6 1402.3 276.4 1402.4 297.9 1402.6 276.6 1402.8 270.6 1402.9 227.9 1403 252.4 1403 198.3 1403 232.3 1403.4 252.6 1403.7 326.1 1403.7 230.5 1404 301.8 1404 253 1404.2 307.7 1404.4 179.8 1404.5 228.8 1404.6 277.7 1404.8 215 1404.9 180.1 1404.9 339 1405 229 1405.2 308 1405.2 263 1405.3 229.2 1405.5 245 1405.5 278.2 1405.6 266 1405.6 278.3 1405.7 290.5 1405.9 249.3 1405.9 229.5 1405.9 279.5 1405.9 254 1406.1 277.1 1406.1 254.1 1406.1 304.2 1406.2 254.1 1406.3 207.7 1406.3 271.7 1406.6 217.7 1406.6 266.6 1406.6 352.2 1406.7 254.4 1406.7 266.7 1406.7 278.9 1407 230.1 1407.1 230.2 1407.2 230.2 1407.5 230.4 1407.5 254.8 1407.5 267.1 1407.6 254.9 1407.6 254.9 1407.6 220.7 1407.7 255 1407.8 255 1407.8 230.6 1407.9 308.5 1407.9 181.7 1407.9 279.5 1408 279.6 1408 178.2 1408.1 401.9 1408.3 298.8 1408.5 206.5 1408.6 278.3 1408.7 261.4 1408.8 253.5 1408.8 316.7 1409 237 1409.1 256.8 1409.2 194.7 1409.3 304.7 1409.3 231.4 1409.3 250.2 1409.5 85.3 1409.5 207.1 1409.7 277 1409.8 317.2 1409.8 231.7 1409.8 182.8 1409.8 231.7 1409.9 256.2 1410 305.1 1410.1 204.6 1410.3 262.4 1410.3 207.5 1410.4 296.3 1410.4 236.7 1410.5 264.5 1410.6 263.9 1410.6 305.5 1410.6 305.5 1410.7 256.6 1410.8 232.2 1410.8 241.8 1410.9 207.8 1410.9 207.9 1411 308.3 1411.2 256.9 1411.4 220.9 1411.4 250.7 1411.5 257.1 1411.9 329 1412 281.8 1412 306.3 1412 281.8 1412.3 184.2 1412.4 257.6 1412.6 208.8 1412.7 184.4 1412.8 282.3 1412.8 257.8 1412.8 306.7 1413 233.4 1413.1 282.4 1413.2 331.4 1413.2 319.1 1413.2 233.6 1413.6 233.8 1413.7 297.6 1413.7 295.2 1413.7 328 1413.9 258.4 1413.9 282.9 1414 258.5 1414.1 283 1414.3 234.2 1414.4 278.5 1414.5 283.2 1414.5 281 1414.6 315.8 1414.7 246.7 1415 272.6 1415.1 234.6 1415.2 259.1 1415.2 185.8 1415.3 308.1 1415.4 234.8 1415.4 210.3 1415.5 264.7 1415.5 296 1415.6 332.7 1415.6 265.6 1415.8 235 1416 357.3 1416 259.6 1416.1 223 1416.2 283.5 1416.2 223 1416.2 186.4 1416.6 308.8 1416.7 263.7 1416.9 260.1 1417 309 1417.1 186.8 1417.1 284.6 1417.3 260.3 1417.4 260.3 1417.5 260.4 1417.5 260.4 1417.6 333.8 1417.6 201.1 1417.7 284.9 1417.8 211.7 1417.9 236.2 1418 285.1 1418.1 308.5 1418.2 235.1 1418.3 285.3 1418.3 285.3 1418.3 236.4 1418.4 306.1 1418.7 261.1 1418.8 261.1 1418.8 212.2 1419 249 1419.3 200.3 1419.3 236.9 1419.4 237 1419.5 188.1 1419.7 258.6 1419.8 286.1 1419.8 237.3 1419.9 261.7 1420 164 1420 273.3 1420 315.6 1420.1 287.6 1420.1 115.6 1420.1 213 1420.2 272.1 1420.2 188.5 1420.3 213.1 1420.3 321.8 1420.3 262 1420.6 262.1 1420.8 262.2 1421 279.6 1421 235.3 1421.5 320.3 1421.6 292.8 1421.6 274.9 1421.6 238.2 1421.8 287.2 1421.9 238.4 1422.1 238.5 1422.3 263.1 1422.3 214.2 1422.3 303 1422.3 236.5 1422.4 214.2 1422.4 214.2 1422.5 265.1 1422.7 214.4 1422.8 312.2 1423 265.5 1423 214.6 1423.2 312.5 1423.4 312.6 1423.4 288.1 1423.5 256.6 1423.5 214.9 1423.6 234.8 1423.6 271.5 1423.7 325 1423.8 239.4 1423.9 263.9 1423.9 190.6 1423.9 239.5 1424 264 1424 264 1424.2 288.6 1424.2 190.8 1424.2 239.7 1424.3 239.7 1424.4 264.2 1424.4 190.9 1424.4 239.8 1424.5 249.4 1424.5 190.9 1424.5 310 1424.7 297.1 1424.8 215.5 1424.8 264.4 1424.8 215.6 1424.8 253.1 1424.9 191.1 1424.9 282 1425 191.2 1425 215.6 1425.1 313.5 1425.2 262.7 1425.2 191.3 1425.2 202 1425.3 337.9 1425.3 240.3 1425.4 215.9 1425.4 264.8 1425.7 289.4 1426 289.6 1426.3 228.6 1426.4 265.3 1426.4 289.8 1426.7 132 1426.8 241.1 1426.9 308.2 1426.9 289.8 1426.9 314.5 1426.9 216.7 1427.1 241.2 1427.1 314.6 1427.1 265.7 1427.1 285.8 1427.5 290.4 1427.5 192.6 1427.6 241.5 1427.6 253.8 1427.6 217.1 1427.7 217.1 1427.7 270.2 1427.8 315 1427.8 290.6 1428.1 205.1 1428.2 292.7 1428.4 266.4 1428.6 242.1 1428.8 278.9 1428.9 301.2 1428.9 242.3 1429 262.3 1429.1 291.8 1429.3 254.7 1429.4 218.1 1429.6 324.4 1429.8 289.8 1429.8 218.3 1429.9 316.2 1429.9 291.7 1430 227.6 1430.1 218.5 1430.1 295.8 1430.2 236.9 1430.7 241.8 1430.7 194.4 1430.7 194.4 1430.8 292.2 1430.8 305.5 1430.8 300.8 1430.9 328.9 1431.1 194.6 1431.2 219.1 1431.3 268 1431.3 268 1431.4 286.5 1431.5 170.3 1431.5 261 1431.5 268.2 1431.6 291.4 1431.7 299 1431.8 219.4 1431.8 292.8 1431.9 270 1432 244 1432 277 1432.1 287.6 1432.1 244.1 1432.1 315.8 1432.2 293 1432.2 219.7 1432.3 202.6 1432.5 293.2 1432.5 293.2 1432.5 244.3 1432.5 261.8 1432.6 171 1432.7 317.7 1432.8 293.3 1432.9 268.9 1433 244.5 1433.1 195.7 1433.3 195.8 1433.3 269.2 1433.3 232.1 1433.3 281.4 1433.4 269.2 1433.4 342.6 1433.5 256.3 1433.6 293.8 1433.6 244.9 1433.6 306 1433.6 264.8 1433.7 269.4 1433.9 236.4 1433.9 185.9 1433.9 196.1 1434 269.1 1434.1 245.2 1434.4 220.8 1434.4 220.9 1434.5 330.9 1434.5 294.3 1434.6 245.4 1434.6 416.6 1434.7 269.9 1434.8 294.4 1434.9 221.2 1435 267.1 1435.1 245.7 1435.1 250.8 1435.1 245.7 1435.2 286 1435.2 245.8 1435.3 270.3 1435.3 209.2 1435.4 197 1435.4 276.1 1435.5 341.6 1435.8 310.3 1435.9 260.4 1435.9 298.7 1435.9 258.4 1435.9 293.8 1436.1 246.2 1436.2 270.8 1436.3 221.9 1436.3 295.3 1436.4 197.5 1436.4 313.1 1436.4 307.6 1436.5 222 1436.5 344.3 1436.5 295.4 1436.6 271 1436.6 252.4 1436.7 246.6 1436.7 197.7 1436.9 228.9 1436.9 320.1 1437 271.2 1437 256.7 1437.1 333.8 1437.1 261.4 1437.4 247 1437.4 198.1 1437.4 173.6 1437.5 260.9 1437.5 320.4 1437.6 198.2 1437.7 299.9 1437.8 268.8 1437.8 332.4 1437.9 271.7 1438 222.9 1438 296.2 1438.1 195.7 1438.1 296.3 1438.2 271.9 1438.2 296.3 1438.3 345.2 1438.3 247.5 1438.3 304.9 1438.4 331.6 1438.5 235.4 1438.5 174.3 1438.6 220.4 1438.6 288.7 1438.6 247.7 1438.7 252.9 1438.7 247.7 1438.8 198.9 1438.9 345.6 1439 247.9 1439.1 321.3 1439.2 214.1 1439.3 272.5 1439.5 333.7 1439.5 261.7 1439.5 297.1 1439.8 259.2 1439.8 265.2 1439.9 297.3 1440.1 248.5 1440.2 248.5 1440.2 273 1440.4 224.2 1440.4 175.3 1440.6 224.3 1440.6 268.7 1440.7 273.2 1440.7 297.7 1440.8 257.3 1440.8 224.4 1440.9 322.3 1441 346.7 1441.1 261.3 1441.2 298 1441.2 322.4 1441.3 224.7 1441.3 284.2 1441.4 298.1 1441.5 249.2 1441.6 271.2 1441.6 273.8 1441.9 212.8 1441.9 273.9 1441.9 298.4 1442.2 225.2 1442.5 249.8 1442.5 256.4 1442.6 249.8 1442.6 225.4 1442.8 271.7 1442.9 225.6 1442.9 284 1442.9 274.5 1442.9 347.8 1443.2 330.9 1443.4 225.8 1443.4 225.9 1443.5 201.4 1443.7 226 1443.7 226 1443.7 311.7 1443.8 305 1443.8 323.9 1443.8 201.6 1443.8 327.8 1443.9 201.6 1444.1 201.8 1444.4 324.2 1444.4 272.1 1444.5 324.3 1444.6 299.9 1444.8 202.2 1444.9 226.7 1444.9 328 1444.9 275.6 1445 249.7 1445 223.9 1445.1 298.3 1445.1 324.6 1445.2 275.7 1445.5 281.9 1445.8 178.3 1445.9 276.1 1445.9 300.6 1446 290.8 1446 325.1 1446 276.2 1446.1 242.9 1446.2 263.6 1446.3 203 1446.3 203 1446.4 203 1446.4 203.1 1446.6 233 1446.6 316.8 1446.6 276.5 1446.6 252.1 1446.7 252.1 1446.7 203.2 1446.7 178.8 1446.8 276.6 1446.8 263.2 1446.8 227.8 1447 226.3 1447 285.7 1447.1 309.5 1447.1 313.5 1447.1 227.9 1447.2 240.2 1447.3 228 1447.3 252.5 1447.3 325.8 1447.4 228.1 1447.4 278.8 1447.4 277 1447.6 277.1 1447.7 279.9 1447.7 200.8 1447.7 301.6 1448.3 264.8 1448.4 228.6 1448.4 253.1 1448.5 204.2 1448.9 191.5 1449 228.9 1449 302.3 1449.1 326.8 1449.1 302.3 1449.2 302.4 1449.2 238.5 1449.2 302.4 1449.2 229.1 1449.2 233.1 1449.3 253.6 1449.5 290.3 1449.6 180.4 1449.7 221.9 1449.9 261.7 1450 244.6 1450.1 305.6 1450.2 296.8 1450.3 327.5 1450.4 257.5 1450.5 218.1 1450.5 327.6 1450.6 254.3 1450.8 217.7 1450.9 205.5 1450.9 181.1 1450.9 271.2 1450.9 254.5 1450.9 193.3 1450.9 278.9 1451 303.4 1451 303.4 1451.1 327.9 1451.2 205.7 1451.4 230.3 1451.8 254.9 1451.8 228.2 1451.8 230.5 1451.9 206.1 1452 290.1 1452 230.6 1452 230.6 1452.1 304 1452.4 262.2 1452.5 229.7 1452.6 304.3 1452.7 277.8 1452.7 304.4 1452.8 290.8 1452.8 252.4 1453 206.7 1453 280.1 1453 282 1453 254.2 1453 253.9 1453 255.6 1453.1 267.9 1453.1 255.7 1453.2 231.3 1453.2 255.7 1453.3 231.4 1453.4 304.7 1453.5 207 1453.9 305 1453.9 297.7 1454.2 219.6 1454.5 329.8 1454.6 281 1454.7 232.1 1454.7 286.3 1454.8 270.6 1454.9 232.2 1455.1 281.2 1455.1 232.3 1455.2 294.6 1455.3 292.5 1455.4 305.9 1455.6 281.5 1455.7 306 1455.8 367.2 1455.8 181.1 1455.8 299.3 1455.8 281.1 1455.8 232.7 1455.9 208.3 1456 220.6 1456.1 257.3 1456.1 281.8 1456.5 257.5 1456.5 269.8 1456.5 266.2 1456.6 300.8 1456.8 270.2 1456.8 208.8 1457 282.3 1457 257.8 1457 233.4 1457.1 331.3 1457.1 404.1 1457.2 258.8 1457.2 257.9 1457.2 282.4 1457.3 184.6 1457.4 249.8 1457.4 288.2 1457.5 303.7 1457.7 307.1 1457.9 258.3 1458.1 258.4 1458.1 282.9 1458.3 235.8 1458.3 234.1 1458.3 234.1 1458.4 228.3 1458.4 258.6 1458.6 228.1 1458.6 295.6 1458.9 332.2 1458.9 247.9 1459.1 259 1459.1 281.2 1459.1 283.5 1459.4 259.2 1459.4 332.5 1459.5 234.8 1459.5 234.8 1459.6 259.2 1459.6 210.4 1459.6 259.4 1459.7 259.9 1459.7 186 1459.8 283.8 1460 295.5 1460.1 284 1460.3 186.3 1460.3 308.6 1460.4 333.1 1460.5 198.6 1460.6 186.5 1460.6 210.9 1460.6 259.8 1460.7 227.1 1460.8 259.9 1460.8 260 1460.9 235.5 1460.9 284.4 1461 343.4 1461.1 260.1 1461.2 186.8 1461.3 275.2 1461.3 244.9 1461.4 235.8 1461.4 276.9 1461.4 271 1461.5 284.7 1461.5 260.3 1461.5 187 1461.5 211.4 1461.5 211.4 1461.6 235.5 1461.8 274.6 1462 260 1462.1 309.6 1462.1 162.9 1462.2 334.1 1462.2 236.3 1462.5 309.8 1462.5 309.8 1462.5 254.4 1462.5 236.4 1462.9 212.2 1462.9 212.2 1462.9 213.7 1463 212.2 1463 212.2 1463 285.6 1463.3 285.8 1463.3 261.3 1463.5 310.1 1463.5 253.1 1463.5 285.9 1463.7 212.6 1463.7 359.4 1463.8 261.6 1463.8 286 1464 289.9 1464 261.7 1464 324.4 1464.1 237.3 1464.3 286.3 1464.3 213 1464.4 249.7 1464.5 211.7 1464.6 272.3 1464.6 188.7 1464.7 183.9 1464.7 359.9 1464.7 225.4 1464.8 202.1 1464.8 214 1465.1 316.5 1465.3 238 1465.3 305.8 1465.4 311.4 1465.5 238.1 1465.5 287 1465.5 295.4 1465.5 238.1 1465.6 311.5 1465.7 213.8 1465.7 262.7 1465.8 213.8 1465.8 287.2 1465.9 311.6 1465.9 236.4 1465.9 264.6 1466.2 311.8 1466.3 238.5 1466.3 311.9 1466.4 214.1 1466.4 336.4 1466.5 299.7 1466.6 238.7 1466.6 336.5 1466.6 263.1 1466.7 235.5 1466.8 299.9 1466.9 287.8 1467 287.8 1467.1 219.3 1467.1 239 1467.1 239 1467.2 287.9 1467.2 312.4 1467.4 263.6 1467.4 256.9 1467.4 288 1467.4 312.5 1467.7 133.7 1467.8 297.8 1467.8 250.1 1467.8 239.4 1468 248.4 1468 288.4 1468 274.3 1468.1 239.5 1468.1 294.3 1468.1 239.5 1468.1 288.4 1468.2 255.7 1468.2 276.3 1468.4 313 1468.5 288.6 1468.6 199.2 1468.6 284.3 1468.7 258.5 1468.7 221.6 1468.7 288.8 1468.8 239.9 1468.8 264.4 1468.8 264.4 1468.9 241 1469 263 1469.3 259.1 1469.4 289.2 1469.5 289.2 1469.5 142.8 1469.6 313.7 1469.8 313.8 1469.9 240.5 1469.9 228.3 1470 216.1 1470.2 216.2 1470.3 289.6 1470.4 191.9 1470.5 314.2 1470.5 228.6 1470.5 167.5 1470.6 269.9 1470.6 216.5 1470.8 338.8 1470.8 265.5 1471 277.5 1471 299.5 1471 241.1 1471.3 265.7 1471.3 319.9 1471.4 192.4 1471.4 207 1471.4 290.3 1471.5 265.8 1471.5 243.4 1471.7 311.6 1471.8 233.3 1472 302 1472 307.2 1472.1 309 1472.2 266.3 1472.3 217.4 1472.5 277.4 1472.5 266.4 1472.5 266.4 1472.6 205.3 1472.7 315.4 1472.7 193.2 1472.8 315.5 1472.9 315.6 1473 242.2 1473.1 238.6 1473.1 295.8 1473.2 312.6 1473.3 247.4 1473.4 169.1 1473.4 266.9 1473.6 218.1 1473.6 364.8 1473.6 231.9 1473.6 315.9 1473.7 267.1 1473.9 340.5 1474 303.9 1474.1 246.5 1474.4 267.5 1474.5 267.5 1474.5 267.5 1474.6 218.6 1474.6 243.1 1474.7 292.1 1474.8 305.5 1474.8 255.2 1474.9 306.4 1475.1 292.3 1475.1 170 1475.1 284.5 1475.2 292.3 1475.2 267.9 1475.2 306.8 1475.2 267.9 1475.2 243.5 1475.3 219.1 1475.3 289.7 1475.3 275.8 1475.5 340.2 1475.6 194.8 1475.7 219.3 1475.8 289.7 1475.9 194.9 1475.9 195 1476 219.5 1476 243.9 1476 268.4 1476.3 293 1476.4 268.6 1476.4 247.7 1476.5 293.1 1476.6 268.7 1476.6 243.4 1476.6 293.2 1476.7 251 1476.7 219.9 1476.8 289.9 1476.8 195.4 1477 195.5 1477.1 239.3 1477.1 317.8 1477.1 269 1477.1 256.5 1477.2 211.2 1477.3 244.6 1477.3 220.2 1477.4 171.3 1477.4 195.8 1477.5 281.4 1477.5 195.9 1477.6 220.3 1477.6 220.4 1477.7 318.2 1477.9 244.9 1477.9 342.8 1478.1 259.7 1478.1 277.9 1478.1 269.5 1478.1 171.7 1478.2 294 1478.2 294 1478.3 245.2 1478.3 227.3 1478.3 245.2 1478.4 196.3 1478.5 251.1 1478.5 311.5 1478.6 282.2 1478.7 184.2 1478.7 269.9 1478.8 251.9 1478.8 269.9 1478.9 343.3 1478.9 343.3 1478.9 245.5 1479 196.7 1479 172.2 1479 250.2 1479 318.9 1479.1 294.5 1479.1 245.6 1479.2 294.6 1479.3 294.6 1479.4 210 1479.5 196.9 1479.5 245.8 1479.5 221.4 1479.6 292.6 1479.6 236.8 1479.7 331.5 1479.7 304.1 1479.8 241.2 1479.9 295 1479.9 319.4 1480.1 295.1 1480.1 295.1 1480.1 197.3 1480.2 308 1480.2 197.3 1480.2 246.2 1480.3 286.4 1480.4 246.3 1480.4 319.7 1480.5 295.3 1480.5 224.8 1480.5 246.4 1480.6 182.7 1480.8 270.8 1480.8 258.8 1480.8 173.2 1480.9 295.5 1480.9 248 1481.1 289.1 1481.1 295.6 1481.2 254.6 1481.2 234.5 1481.3 320.2 1481.3 197.9 1481.3 234.6 1481.3 210.2 1481.5 179 1481.7 222.6 1481.8 271.2 1481.8 296 1482.1 296.2 1482.3 290.7 1482.3 223 1482.4 223 1482.4 298.5 1482.5 247.5 1482.5 223.3 1482.6 198.7 1482.7 247.6 1482.8 296.6 1483 214.3 1483 174.4 1483 272.2 1483 296.7 1483.6 199.2 1483.7 223.7 1483.8 272.6 1484 309.3 1484 223.9 1484 224.6 1484 221.9 1484.2 248.4 1484.2 271.5 1484.4 224.1 1484.5 224.1 1484.5 249.4 1484.6 273.1 1484.6 199.8 1484.7 248.7 1484.7 273.2 1484.8 224.3 1484.8 322.1 1485 248.9 1485 273.4 1485.1 284 1485.1 273.4 1485.5 200.3 1485.5 273.6 1485.5 224.7 1485.5 306.2 1485.6 298.1 1485.6 249.2 1485.7 273.7 1485.8 298.2 1486.1 347.3 1486.1 298.4 1486.2 244.7 1486.2 242.2 1486.3 239.8 1486.4 323 1486.4 298.6 1486.6 274.2 1486.7 249.8 1486.8 318 1486.8 218.7 1486.9 274.4 1486.9 299.9 1487 250 1487.2 303.5 1487.4 201.3 1487.5 176.9 1487.5 280.3 1487.6 245.5 1487.7 323.7 1488 177.2 1488.1 299.5 1488.1 250.6 1488.2 292.8 1488.4 250.8 1488.4 253.5 1488.5 321.7 1488.6 202 1488.6 250.9 1488.6 226.4 1488.7 299.8 1488.7 324.3 1488.8 251 1488.8 251 1488.9 299.9 1488.9 275.5 1488.9 226.6 1489 261.4 1489 275.6 1489 271.5 1489.3 202.4 1489.4 251.3 1489.4 262.7 1489.5 300.3 1489.7 299.3 1489.8 227.1 1489.9 325 1489.9 251.6 1489.9 300.5 1490 263.7 1490.1 227.3 1490.1 300.6 1490.3 276.3 1490.5 276.4 1490.5 178.6 1490.5 227.5 1490.6 300.9 1490.6 288.7 1490.8 203.2 1490.9 300 1490.9 301.1 1491 309.1 1491.2 301.7 1491.3 240.1 1491.3 325.7 1491.4 228 1491.4 301.3 1491.5 203.6 1491.5 228.1 1491.6 287.1 1491.6 203.6 1491.6 222.6 1491.6 179.2 1491.7 325.9 1491.7 252.6 1491.8 277.1 1491.8 244.1 1491.9 277.2 1492.1 208.3 1492.1 277.3 1492.3 277.4 1492.4 277.4 1492.4 206.7 1492.4 228.5 1492.5 263.6 1492.5 318.3 1492.5 301.8 1492.6 253.1 1492.6 228.6 1492.6 272.3 1492.7 277.6 1492.7 313.4 1492.8 228.7 1492.8 228.8 1492.8 277.7 1493 253.3 1493 228.9 1493.1 326.7 1493.1 246.6 1493.2 180.1 1493.5 253.6 1493.5 302.5 1493.5 253.6 1493.6 197.2 1493.6 180.3 1493.7 253.7 1493.7 288.4 1493.8 314.9 1493.8 204.9 1494 229.4 1494.2 327.3 1494.2 229.5 1494.2 278.4 1494.3 315.2 1494.4 229.6 1494.5 193 1494.6 206.7 1494.6 254.2 1494.8 244.7 1494.9 290.8 1495 268.5 1495.1 255.2 1495.1 132 1495.2 327.9 1495.2 242.3 1495.3 176.4 1495.3 311.8 1495.3 254.6 1495.4 279.1 1495.4 247.6 1495.5 303.6 1495.5 242.5 1495.5 276.7 1495.9 273.9 1496 230.5 1496.2 230.7 1496.3 279.6 1496.3 248.9 1496.3 218.5 1496.5 206.3 1496.6 230.8 1496.7 276.6 1496.8 255.4 1496.8 292.7 1496.8 312.4 1497.1 328.9 1497.1 223.1 1497.1 231.2 1497.2 255.6 1497.5 182.4 1497.5 206.9 1497.5 277.8 1497.5 213.6 1497.6 304.7 1497.6 231.4 1497.6 286.3 1497.6 286.9 1497.6 220.2 1497.7 231.4 1497.7 207 1497.8 290.8 1498 305 1498.1 329.5 1498.1 215.2 1498.2 354 1498.3 280.7 1498.4 268.5 1498.5 298.4 1498.6 305.3 1498.6 329.8 1498.7 218.9 1498.8 256.5 1498.8 282.6 1498.9 305.5 1498.9 195.5 1499 330 1499.1 301.3 1499.2 267.8 1499.2 232.3 1499.3 264 1499.4 330.2 1499.5 208 1499.5 281.4 1499.6 262.2 1499.6 305.9 1499.7 318.1 1499.8 257.1 1499.8 271.7 1499.8 232.6 1499.9 208.2 1500 355 1500.1 318.3 1500.1 306.1 1500.1 281.9 1500.2 208.4 1500.2 232.9 1500.3 330.7 1500.3 306.3 1500.3 208.5 1500.5 310.1 1500.5 281.9 1500.6 282 1500.7 240.9 1500.8 233.2 1500.9 244.9 1500.9 248.7 1500.9 238.1 1501 231.3 1501 309.9 1501 208.9 1501.1 306.7 1501.3 343.5 1501.3 283.8 1501.3 306.8 1501.4 209.1 1501.4 233.5 1501.5 331.4 1501.6 308 1501.7 233.7 1502 233.8 1502 185 1502.2 197.3 1502.2 197.3 1502.4 307.4 1502.4 293 1502.5 234.1 1502.5 209.7 1502.7 258.7 1502.8 275.1 1503 285.9 1503.1 210 1503.2 210 1503.2 227.5 1503.2 332.3 1503.4 308 1503.5 308 1503.5 246.5 1503.7 295.9 1503.8 259.3 1503.8 308.2 1503.9 246.2 1503.9 278.5 1503.9 234.9 1504 210.5 1504 295.7 1504.1 307.5 1504.1 381.7 1504.2 332.9 1504.3 259.6 1504.4 284.1 1504.4 210.7 1504.4 260.9 1504.5 284.1 1504.8 308.7 1505.3 262.3 1505.3 235.7 1505.3 333.5 1505.4 211.3 1505.4 271.5 1505.5 333.6 1505.6 235.8 1505.7 407.3 1505.8 211.5 1505.9 294.7 1505.9 333.8 1506 358.3 1506 309.4 1506 211.6 1506.1 226.2 1506.1 333.9 1506.2 211.7 1506.2 236.2 1506.2 211.7 1506.3 309.6 1506.4 309.6 1506.5 260.8 1506.5 260.8 1506.5 334.2 1506.6 285.3 1506.6 217.4 1506.6 383.1 1506.7 334.2 1506.7 256.7 1506.8 187.6 1506.8 212.1 1506.9 173.4 1507 285.8 1507 225.7 1507.3 221.3 1507.3 261.2 1507.3 283.7 1507.3 334.6 1507.4 310.2 1507.4 334.6 1507.4 261.3 1507.6 261.4 1507.7 229.5 1507.8 212.6 1507.9 261.6 1507.9 237.1 1507.9 286 1508 335 1508.1 188.3 1508.1 237.2 1508.1 335 1508.1 286.1 1508.3 300 1508.3 237.4 1508.4 259.1 1508.5 289.6 1508.6 237.5 1508.7 313.3 1508.8 249.8 1508.9 237.7 1509 360 1509 311.1 1509 188.9 1509.1 292.9 1509.1 335.6 1509.2 286.7 1509.2 237.8 1509.2 299 1509.3 274.6 1509.4 311.3 1509.5 262.4 1509.6 248.1 1509.7 317.3 1509.7 213.7 1509.7 189.2 1509.7 224.9 1509.7 204.1 1509.7 252.8 1509.8 203.5 1509.9 213.7 1510 234.3 1510 261.8 1510.1 311.7 1510.1 287.3 1510.2 213.9 1510.2 238.4 1510.2 213.9 1510.3 214 1510.3 262.9 1510.3 238.4 1510.5 357.5 1510.6 274.8 1510.6 287.5 1510.7 305.2 1510.8 330.3 1510.8 240.9 1510.9 312.1 1511 239.7 1511.1 282 1511.1 238.9 1511.3 336.8 1511.4 141.2 1511.4 336.9 1511.6 220.8 1511.7 190.3 1511.8 239.3 1511.8 214.8 1512 224.8 1512.3 312.9 1512.4 280.9 1512.4 247.1 1512.5 264.1 1512.5 313 1512.5 298.3 1512.6 190.8 1512.8 227.6 1513.1 191.1 1513.1 288.9 1513.2 298.5 1513.3 301.2 1513.3 289 1513.3 337.9 1513.6 240.3 1513.6 215.8 1513.6 264.7 1513.7 289.2 1513.7 289.2 1514 270.1 1514.1 313.9 1514.1 216.1 1514.1 261.2 1514.2 313.9 1514.2 289.5 1514.2 240.6 1514.2 167.3 1514.3 191.8 1514.3 289.6 1514.4 265.2 1514.5 216.3 1514.6 314.2 1514.6 216.4 1514.7 265.4 1514.8 192 1514.8 216.5 1515 290 1515.1 265.5 1515.1 296.5 1515.2 265.6 1515.2 205.5 1515.2 314.5 1515.3 244.1 1515.5 314.7 1515.5 290.2 1515.5 265.8 1515.5 258.8 1515.5 290.2 1515.6 192.5 1515.7 278.6 1515.7 143.6 1515.7 241.4 1515.9 290.5 1516.1 315 1516.2 295.2 1516.2 266.2 1516.6 364.2 1516.6 290.9 1516.7 292.4 1516.7 266.4 1516.8 266.5 1516.8 339.9 1517.2 217.2 1517.3 266.8 1517.4 242.4 1517.4 169 1517.5 305.2 1517.5 340.2 1517.7 217.6 1517.7 266.5 1517.7 193.7 1517.8 242.6 1517.8 340.4 1517.8 255 1517.8 267.1 1517.9 193.8 1517.9 218.2 1517.9 291.6 1518 242.7 1518.1 303.9 1518.1 267.2 1518.2 316.2 1518.2 316.2 1518.3 291.8 1518.3 242.9 1518.5 267.4 1518.5 267.4 1518.5 207 1518.5 340.8 1518.6 218.6 1518.7 182 1518.7 243.1 1518.8 267.6 1518.8 267.6 1518.9 267.6 1518.9 267.7 1518.9 341 1519 307.8 1519.1 280 1519.1 243.3 1519.2 267.8 1519.3 233.5 1519.3 194.5 1519.3 219 1519.4 267.9 1519.6 243.6 1519.7 281.6 1519.7 219.3 1519.7 312.3 1519.9 219.3 1519.9 318.6 1519.9 273.9 1520 366.1 1520.1 255.3 1520.2 243.9 1520.2 268.4 1520.3 292.9 1520.3 246.9 1520.6 257.8 1520.6 268.6 1520.7 227.1 1520.7 244.2 1520.8 146.4 1520.8 244.3 1520.9 281.2 1520.9 305.4 1520.9 244.3 1521 296.5 1521 293.3 1521 216.4 1521.2 244.5 1521.3 293.4 1521.3 220.1 1521.3 342.4 1521.5 247 1521.5 318 1521.5 195.8 1521.5 244.7 1521.6 244.7 1521.7 367 1521.7 305.9 1521.8 293.7 1521.8 220.4 1521.8 232.6 1521.8 257.2 1521.9 342.7 1521.9 269.3 1522 293.8 1522 269.4 1522.1 220.5 1522.1 232.6 1522.2 342.8 1522.2 220.6 1522.2 342.8 1522.2 171.7 1522.2 294 1522.4 285.4 1522.6 171.9 1522.7 269.8 1522.7 220.9 1522.8 245.4 1522.9 245.4 1522.9 318.8 1523.2 221.1 1523.2 343.4 1523.3 262.6 1523.3 221.2 1523.4 231.1 1523.6 283.7 1523.7 258.1 1523.8 245.9 1523.9 246 1524.1 246.1 1524.1 288.5 1524.2 380.6 1524.2 255.5 1524.2 283.8 1524.4 148.4 1524.4 295.2 1524.4 197.4 1524.6 197.5 1524.7 292 1524.7 270.9 1524.8 270.9 1524.8 258.7 1524.9 319.9 1524.9 246.5 1524.9 222.1 1525 246.6 1525.1 311.9 1525.1 228.9 1525.1 222.2 1525.2 262.3 1525.2 344.5 1525.2 222.2 1525.2 197.8 1525.2 295.6 1525.3 246.3 1525.4 197.9 1525.5 246.9 1525.5 246.9 1525.6 222.5 1525.6 198 1525.7 303.7 1525.9 305.7 1526.1 271.7 1526.4 222.9 1526.5 271.9 1526.6 198.5 1526.7 235.3 1526.8 345.4 1526.8 322 1526.8 223.1 1526.9 284.6 1527 361.4 1527 174.4 1527 223.3 1527.3 260.1 1527.3 223.4 1527.3 467.9 1527.4 296.8 1527.4 278.5 1527.5 293.5 1527.5 248 1527.5 296.5 1527.5 256.5 1527.6 272.5 1527.7 255.8 1527.9 174.9 1528 272.7 1528 254.9 1528.1 248.3 1528.2 223.9 1528.3 297.3 1528.3 258.2 1528.3 285.1 1528.4 248.5 1528.4 248.5 1528.5 248.5 1528.5 199.6 1528.6 224.1 1528.6 225.5 1528.7 273.1 1528.7 208.5 1528.7 224.2 1528.8 224.2 1528.9 313.3 1529 243.5 1529.2 346.7 1529.3 265.8 1529.3 200.1 1529.4 322.4 1529.4 249 1529.4 346.8 1529.5 322.4 1529.5 298 1529.7 249.2 1529.8 347 1530.2 273.9 1530.2 151.7 1530.4 249.6 1530.5 328.2 1530.5 225.2 1530.6 249.7 1530.7 268.8 1530.8 347.6 1530.8 294.2 1531 286.6 1531.1 225.5 1531.1 225.5 1531.2 274.4 1531.3 239.5 1531.7 225.8 1531.7 299.2 1531.7 284.5 1531.7 225.9 1531.7 323.7 1531.9 274.8 1532 226 1532.1 250.5 1532.2 201.7 1532.2 177.2 1532.5 194.5 1532.5 302.3 1532.5 201.9 1532.5 201.9 1532.7 201.9 1532.7 324.2 1532.7 238.6 1532.9 324.3 1533 304.8 1533 290.5 1533 229.3 1533.1 324.4 1533.2 324.5 1533.5 261.9 1533.5 213.1 1533.5 324.7 1533.8 202.6 1533.9 275.9 1533.9 324.9 1533.9 226.3 1533.9 214.9 1533.9 276 1534 202.7 1534 227.1 1534 324.9 1534.1 349.4 1534.1 251.6 1534.1 202.7 1534.1 300.5 1534.2 276.1 1534.3 276.2 1534.3 325.1 1534.4 227.3 1534.4 231.7 1534.4 202.9 1534.5 325.2 1534.7 276.4 1534.8 215.3 1534.8 300.9 1534.9 300.9 1534.9 325.4 1534.9 300.9 1534.9 276.5 1535 178.8 1535 253.8 1535.1 325.5 1535.1 325.5 1535.2 325.6 1535.4 325.7 1535.4 248.7 1535.5 301.3 1535.5 288.8 1535.5 313.6 1535.6 276.9 1535.6 213.9 1535.9 284.3 1535.9 228.2 1536.2 277.2 1536.2 279 1536.3 228.4 1536.3 228.4 1536.3 252.9 1536.4 326.3 1536.5 301.8 1536.5 182.6 1536.5 350.8 1536.6 204.7 1536.6 311.7 1536.6 314.1 1536.6 326.4 1536.7 277.5 1536.7 302 1536.8 258 1536.8 277.7 1536.8 326.5 1536.9 228.7 1537 289.8 1537.1 326.6 1537.1 302.2 1537.2 302.2 1537.2 302.2 1537.2 253.4 1537.3 216.7 1537.5 253.5 1537.6 284.5 1537.6 229.1 1537.6 224.9 1537.7 253.6 1537.7 229.2 1537.7 351.4 1537.7 278.1 1537.7 229.2 1537.7 259 1537.7 283.2 1537.8 253.7 1538 204.9 1538.1 302.7 1538.2 180.5 1538.2 208.2 1538.4 302.9 1538.4 205.1 1538.5 278.5 1538.5 256.7 1538.5 266.5 1538.5 229.6 1538.5 229.6 1538.6 229.7 1538.6 241.9 1538.6 278.6 1538.9 245.7 1538.9 303.2 1538.9 278.8 1539 205.4 1539.1 324.9 1539.1 281.9 1539.1 278.9 1539.1 206.2 1539.2 231 1539.2 303.4 1539.3 400.7 1539.4 279 1539.5 269.6 1539.5 303.5 1539.5 376.9 1539.6 273.7 1539.6 205.8 1539.6 303.6 1539.7 303.6 1539.8 284.5 1539.9 267.1 1539.9 157.1 1539.9 254.9 1540.1 230.5 1540.1 328.3 1540.1 230.5 1540.1 202.8 1540.2 279.4 1540.2 303.9 1540.3 311.1 1540.5 230.7 1540.6 302.6 1540.6 353 1540.6 328.6 1540.6 230.8 1540.6 304.2 1540.7 206.4 1540.7 328.6 1540.7 377.5 1540.8 279.8 1540.8 229.9 1540.9 282.5 1540.9 206.5 1541 316.6 1541 255.4 1541 328.8 1541 279.9 1541.1 206.6 1541.2 280 1541.2 284.9 1541.3 301.4 1541.3 283.5 1541.3 281.5 1541.5 293.7 1541.5 329.1 1541.6 280.2 1541.6 231.3 1541.6 243.5 1541.9 231.5 1542.1 245.6 1542.1 231.6 1542.1 271.1 1542.2 231.6 1542.2 182.8 1542.4 207.3 1542.4 247.4 1542.5 329.6 1542.5 270.8 1542.5 354.1 1542.6 231.9 1542.6 329.7 1542.7 232 1542.8 256.4 1542.8 232 1542.9 256.5 1543.1 330 1543.2 281.1 1543.2 305.6 1543.3 246.1 1543.4 305.7 1543.4 232.3 1543.5 354.6 1543.5 281.3 1543.7 208.1 1543.7 183.6 1543.8 183.6 1543.9 159.2 1543.9 257 1543.9 276.4 1544.2 183.9 1544.2 318.4 1544.4 330.7 1544.4 306.2 1544.4 330.7 1544.5 330.7 1544.5 184 1544.6 319.1 1544.6 184.1 1544.7 233.1 1544.8 282 1544.8 306.5 1544.9 331 1544.9 247.8 1545.1 293.3 1545.1 318.9 1545.3 233.4 1545.3 233.4 1545.3 221.2 1545.3 233.4 1545.4 257.9 1545.6 209.1 1545.7 331.4 1545.7 331.4 1545.8 258.1 1545.8 288.9 1545.8 258.1 1545.9 217.5 1545.9 256.8 1545.9 258.2 1546 209.3 1546.1 307.2 1546.1 258.3 1546.2 233.9 1546.3 331.8 1546.4 209.6 1546.4 270.7 1546.5 307.4 1546.6 301.1 1546.7 258.6 1546.7 283.1 1546.8 209.7 1546.9 257.2 1546.9 234.3 1546.9 234.3 1547 176.5 1547 307.7 1547.1 185.5 1547.1 283.3 1547.2 283.3 1547.2 307.8 1547.3 307.8 1547.4 234.6 1547.5 332.4 1547.8 247 1547.8 238.2 1548 259.3 1548 283.8 1548 259.3 1548 210.4 1548.1 295.7 1548.1 304.2 1548.1 264.2 1548.2 283.9 1548.2 239.5 1548.2 186.1 1548.2 308.3 1548.3 332.1 1548.3 308.4 1548.3 332.9 1548.5 276.5 1548.6 245.8 1548.7 333 1548.7 280.4 1548.7 284.2 1548.8 238.2 1548.8 210.9 1548.9 308.7 1548.9 296.5 1549 259.9 1549 253.4 1549 186.5 1549.1 259.9 1549.2 296.7 1549.2 211.1 1549.3 235.6 1549.4 333.5 1549.6 310.8 1549.6 214.6 1549.7 309.2 1549.7 260.3 1549.8 284.7 1549.8 284.8 1549.8 211.4 1549.9 235.9 1549.9 309.3 1550 309.3 1550.1 184.1 1550.2 236.1 1550.2 248.3 1550.3 283.7 1550.3 334 1550.4 187.3 1550.4 236.2 1550.5 260.7 1550.5 316.8 1550.5 283.2 1550.6 187.4 1550.6 279.9 1550.6 358.6 1550.7 260.8 1550.7 260.8 1550.8 358.7 1550.8 334.2 1550.9 346.5 1550.9 309.8 1550.9 352 1551 285.4 1551.1 285.5 1551.2 310 1551.2 322.2 1551.3 248.9 1551.5 322.4 1551.6 334.6 1551.6 285.8 1551.7 212.5 1551.9 275.6 1551.9 212.6 1551.9 252.7 1552.2 286.1 1552.3 237.2 1552.4 285.9 1552.4 261.8 1552.5 294.1 1552.5 188.5 1552.6 310.8 1552.7 213 1552.7 310.8 1552.7 213 1552.8 310.5 1552.9 253.9 1553 286.5 1553.1 213.2 1553.1 227.7 1553.1 262.2 1553.4 311.2 1553.4 286.8 1553.5 189 1553.6 238 1553.7 189.1 1553.8 274.7 1553.8 340 1553.9 267.3 1554 317.3 1554.1 234.4 1554.3 311.7 1554.4 262.9 1554.5 311.8 1554.5 235.2 1554.5 360.7 1554.6 336.3 1554.7 263 1554.9 238.7 1555 287.7 1555.1 165.4 1555.2 287.8 1555.2 331.3 1555.3 214.5 1555.3 190 1555.3 276 1555.4 268.8 1555.4 263.4 1555.4 263.4 1555.5 263.5 1555.6 226.9 1555.6 263.6 1555.7 214.7 1555.8 255.9 1555.9 214.8 1556.1 239.3 1556.1 239.4 1556.2 263.9 1556.3 263.9 1556.4 337.3 1556.5 219.7 1556.5 313 1556.5 215.2 1556.6 264.1 1556.6 239.6 1556.7 264.1 1556.7 261.7 1556.9 190.9 1557.1 264.4 1557.4 219 1557.5 264.6 1557.6 234.5 1557.6 240.2 1557.7 338 1557.7 264.7 1557.8 338.1 1557.8 240.3 1557.8 215.9 1557.9 338.2 1558.1 240.5 1558.2 240.5 1558.2 289.4 1558.2 338.3 1558.3 240.6 1558.3 289.5 1558.3 286.7 1558.3 338.4 1558.4 265.1 1558.5 289.6 1558.5 225.9 1558.6 226.8 1558.7 191.9 1558.8 266.1 1558.8 314.2 1558.8 289.8 1558.9 192 1558.9 253 1558.9 314.3 1559 338.8 1559 241 1559.1 167.6 1559.1 338.8 1559.1 289.9 1559.2 265.5 1559.4 241.2 1559.4 265.6 1559.4 314.5 1559.5 290.1 1559.5 314.6 1559.5 290.2 1559.6 241.3 1559.8 339.2 1559.9 339.3 1560 265.9 1560 266 1560 266 1560.1 266 1560.1 290.5 1560.2 339.4 1560.4 192.8 1560.6 266.3 1560.7 193 1560.7 266.4 1560.8 258.8 1560.8 217.5 1560.8 339.8 1561.1 299.8 1561.1 240.8 1561.1 291 1561.3 233.2 1561.3 291.1 1561.3 217.8 1561.4 291.2 1561.4 266.7 1561.5 242.4 1561.5 315.8 1561.5 340.2 1561.6 273.9 1561.7 315.8 1561.8 96.8 1561.8 340.3 1561.9 193.6 1561.9 193.7 1561.9 218.1 1562 291.5 1562.1 278.9 1562.1 230.5 1562.1 299.2 1562.2 193.8 1562.5 365.1 1562.6 340.8 1562.6 316.3 1562.6 316.3 1562.7 287.5 1562.7 277.6 1562.7 340.8 1562.9 292 1562.9 268.1 1562.9 243.1 1562.9 218.7 1563 218.7 1563.2 210.2 1563.3 267.8 1563.3 273.7 1563.4 292.3 1563.5 219 1563.6 292.4 1563.6 293.1 1563.7 219.1 1563.7 316.9 1563.8 268.1 1563.8 348.6 1563.8 251.9 1563.9 341.5 1563.9 261.6 1563.9 292.6 1563.9 243.7 1564 341.5 1564.1 177.5 1564.3 195 1564.3 366.2 1564.4 317.3 1564.5 238.7 1564.7 317.5 1564.8 219.7 1564.9 219.8 1564.9 195.3 1564.9 231.2 1565 293.2 1565 317.6 1565.2 244.4 1565.3 335.5 1565.3 220 1565.4 342.3 1565.4 269 1565.4 289.2 1565.4 271.2 1565.5 293.5 1565.6 240.7 1565.6 307.1 1565.6 195.7 1565.7 318 1565.7 342.5 1565.8 342.5 1565.8 269.2 1565.8 279.9 1565.8 269.2 1566 283.6 1566 293.8 1566 332.4 1566.1 232.7 1566.2 318.3 1566.2 318.8 1566.2 267.4 1566.3 196.1 1566.3 308.7 1566.4 196.1 1566.4 171.7 1566.5 271.7 1566.5 220.6 1566.5 245.1 1566.5 348.7 1566.5 234.3 1566.5 196.2 1566.7 294.1 1566.7 281.9 1566.7 269.7 1566.7 269.7 1566.8 294.2 1566.8 294 1566.8 279.2 1566.8 309.9 1566.9 367.6 1566.9 343.2 1567 177.4 1567.2 172.2 1567.2 259.2 1567.3 196.6 1567.3 246.3 1567.3 245.6 1567.3 294.5 1567.4 221.2 1567.4 367.9 1567.4 221.2 1567.4 221.2 1567.4 219.8 1567.5 343.4 1567.5 258.5 1567.5 270.1 1567.6 294.6 1567.6 196.8 1567.7 294.7 1567.8 343.6 1568 319.3 1568.1 261.7 1568.1 184.9 1568.1 246 1568.1 319.4 1568.2 331.6 1568.3 343.9 1568.3 270.6 1568.4 212.9 1568.4 319.5 1568.6 221.8 1568.7 209.7 1568.7 211.9 1568.7 344.2 1568.8 221.9 1568.8 293.7 1568.9 295.3 1569 246.5 1569 259.2 1569 275 1569.1 295.5 1569.2 319.9 1569.3 283.3 1569.3 271.1 1569.3 218.4 1569.5 271.2 1569.5 295.7 1569.6 246.8 1569.6 222.4 1569.6 296.4 1569.7 320.2 1569.7 320.3 1569.8 318.5 1569.9 344.8 1570 304 1570 231.1 1570.1 222.7 1570.1 323.5 1570.2 198.3 1570.2 173.8 1570.2 247.2 1570.3 267 1570.3 254 1570.6 282.5 1570.6 210.7 1570.6 241 1570.8 198.6 1570.8 320.9 1570.9 272 1570.9 277.9 1571 277.7 1571 296.5 1571.1 247.6 1571.1 207 1571.1 247.7 1571.4 272.3 1571.4 211.8 1571.4 198.9 1571.4 223.4 1571.4 307.9 1571.4 223.4 1571.4 308.9 1571.5 394.6 1571.6 174.6 1571.7 272.5 1572 346 1572.1 225.6 1572.2 248.3 1572.2 256.6 1572.3 272.8 1572.3 312.9 1572.4 321.7 1572.6 175.1 1572.7 346.3 1572.7 248.6 1572.7 199.7 1573 199.8 1573 224.3 1573.1 346.6 1573.1 322.1 1573.1 248.8 1573.2 248.8 1573.3 224.4 1573.3 224.4 1573.3 248.9 1573.4 307.3 1573.4 322.3 1573.5 243.4 1573.6 239 1573.6 224.6 1573.7 227.3 1573.8 204.8 1573.8 224.7 1573.8 224.7 1573.8 322.5 1574 322.6 1574.2 298.3 1574.2 200.5 1574.3 249.4 1574.3 225.9 1574.4 200.6 1574.4 322.9 1574.5 259.4 1574.6 225.1 1574.6 215.4 1574.6 200.7 1574.7 225.2 1574.7 301.7 1574.8 280.1 1574.8 298.6 1574.9 249.8 1575 298.7 1575 323.2 1575 287.1 1575.1 274.3 1575.1 241.7 1575.2 201 1575.3 250 1575.4 201.1 1575.5 256.9 1575.5 299 1575.5 299 1575.6 348 1575.7 323.6 1575.7 225.8 1575.8 274.7 1575.9 225.9 1576 335.9 1576 303.5 1576.1 235.1 1576.2 226 1576.2 259.7 1576.3 250.6 1576.3 348.4 1576.5 348.5 1576.5 250.7 1576.7 276.5 1576.8 275.3 1576.8 373.1 1576.9 253.6 1576.9 324.2 1576.9 226.4 1576.9 177.5 1576.9 275.3 1577 262.1 1577 252.6 1577 335.8 1577.2 218.9 1577.2 177.7 1577.3 348.9 1577.4 303 1577.4 226.7 1577.6 324.6 1577.7 324.7 1577.7 190.2 1577.7 275.8 1577.8 300.3 1577.8 202.5 1577.9 324.8 1577.9 227 1578 251.5 1578 349.3 1578 202.6 1578.1 276 1578.1 276 1578.1 137.9 1578.1 300.5 1578.1 227.1 1578.2 300.5 1578.3 349.4 1578.4 256.1 1578.4 349.5 1578.4 337.3 1578.4 253.1 1578.5 325.1 1578.6 276.2 1578.6 227.4 1578.7 227.4 1578.7 276.3 1578.8 325.3 1578.8 351.8 1578.9 300.9 1578.9 232 1578.9 235.8 1579 325.4 1579 193.6 1579.1 271.6 1579.1 269.3 1579.1 325.5 1579.2 234.3 1579.2 203.2 1579.3 252.2 1579.4 271.9 1579.4 325.6 1579.7 252.4 1579.7 236.5 1579.7 374.7 1579.7 252.8 1579.7 350.2 1579.8 276.9 1579.8 325.8 1579.8 228 1579.8 179.2 1579.9 301.4 1579.9 203.7 1580 277 1580.2 203.8 1580.2 350.5 1580.3 326.1 1580.3 142.8 1580.4 301.7 1580.4 301.7 1580.6 350.7 1580.6 252.9 1580.6 326.3 1580.6 375.2 1580.7 277.5 1580.8 234 1580.8 314.1 1580.9 228.6 1581 237 1581 240.9 1581 204.3 1581.2 179.9 1581.2 204.4 1581.2 277.7 1581.3 204.4 1581.3 253.3 1581.3 204.4 1581.3 253.3 1581.4 204.5 1581.4 259 1581.5 351.2 1581.5 277.9 1581.6 180.1 1581.6 326.8 1581.6 302.4 1581.7 180.2 1581.7 253.5 1581.7 302.4 1581.8 351.4 1581.8 302.5 1581.8 204.7 1581.8 239.1 1581.9 279.8 1581.9 265.9 1582 230.6 1582.1 351.6 1582.3 250 1582.4 205 1582.4 253.9 1582.5 280.8 1582.6 303 1582.7 205.2 1582.8 303 1582.8 327.5 1582.8 310.4 1582.9 269.8 1582.9 242 1582.9 242 1582.9 254.2 1583 217.8 1583 352 1583.1 278.8 1583.1 246.3 1583.2 327.7 1583.3 233.2 1583.3 181.1 1583.4 254.5 1583.4 278.9 1583.5 217.8 1583.5 254.6 1583.6 249.5 1583.7 254.6 1583.8 230.2 1583.8 242.5 1583.8 303.6 1583.9 118.8 1583.9 352.6 1583.9 230.3 1584.3 262.3 1584.4 303.9 1584.5 279.5 1584.5 304 1584.6 230.7 1584.7 316.3 1584.8 353.1 1584.9 271.2 1585.1 231 1585.1 255.4 1585.1 332.5 1585.1 332.8 1585.2 296.6 1585.2 279.9 1585.3 328.9 1585.3 206.6 1585.3 328.9 1585.4 292 1585.4 353.4 1585.4 280.1 1585.4 322.6 1585.4 280.1 1585.5 329 1585.6 329.1 1585.7 219.1 1585.7 304.6 1585.7 304.7 1585.7 304.7 1585.8 329.1 1585.8 194.7 1585.8 231.4 1585.9 314 1586 280.4 1586.1 280.4 1586.3 305 1586.3 305 1586.3 317.2 1586.4 231.7 1586.4 207.2 1586.4 280.6 1586.5 195.1 1586.7 278 1586.9 280.8 1586.9 207.5 1586.9 207.5 1587 346.8 1587 317.6 1587 329.8 1587.1 302.5 1587.1 329.9 1587.1 329.9 1587.2 329.9 1587.3 330 1587.3 183.3 1587.4 305.6 1587.5 256.7 1587.5 232.3 1587.5 256.8 1587.5 273.1 1587.6 281.2 1587.6 176.8 1587.7 232.4 1587.8 305.8 1588 232.5 1588.2 275.7 1588.3 330.5 1588.3 355 1588.4 306.1 1588.4 232.8 1588.4 330.6 1588.5 306.2 1588.5 355.1 1588.6 306.2 1588.6 281.8 1588.7 355.2 1588.7 290.6 1588.8 336.1 1588.9 257.5 1588.9 302.3 1588.9 208.6 1589 257.6 1589.2 184.3 1589.2 331 1589.2 251.2 1589.2 233.2 1589.2 306.6 1589.3 282.2 1589.3 233.3 1589.3 306.7 1589.4 291.1 1589.5 331.2 1589.6 215.1 1589.6 184.6 1589.7 234.1 1589.7 331.3 1589.7 380.2 1589.7 258 1589.8 282.5 1589.8 245.4 1589.9 184.7 1590 184.8 1590.1 331.5 1590.2 216.2 1590.3 343.9 1590.3 282.7 1590.3 233.9 1590.4 282.8 1590.4 272.3 1590.5 282.8 1590.5 356.2 1590.5 213.5 1590.6 230.4 1590.6 344.1 1590.7 322.7 1590.7 307.4 1590.7 270.7 1590.7 283 1590.7 283 1590.8 258.6 1590.8 195.7 1590.9 307.5 1590.9 234.2 1590.9 236.8 1590.9 356.4 1591.1 290.6 1591.1 234.3 1591.1 258.7 1591.1 356.5 1591.4 362.9 1591.4 332.3 1591.6 287 1591.6 269.1 1591.8 161.3 1591.9 332.5 1592 357 1592.1 339 1592.1 249.7 1592.2 306.8 1592.2 283.8 1592.3 259.4 1592.3 308.3 1592.3 210.5 1592.3 357.2 1592.4 259.5 1592.4 198.3 1592.4 242.3 1592.5 284 1592.6 186.2 1592.6 210.7 1592.6 357.4 1592.6 247.8 1592.8 258.7 1592.8 284.1 1592.9 259.8 1593 284.2 1593.1 280.2 1593.1 333.2 1593.1 235.4 1593.3 224.2 1593.3 211.1 1593.4 296.7 1593.5 333.4 1593.5 260.1 1593.5 260.1 1593.5 211.2 1593.6 309 1593.7 284.6 1593.8 260.6 1593.9 235.8 1593.9 235.9 1594 248.1 1594 260.4 1594 235.9 1594.2 358.3 1594.2 211.6 1594.3 274.5 1594.3 236 1594.3 275.9 1594.4 358.3 1594.4 272.7 1594.4 285 1594.4 262.9 1594.4 382.8 1594.5 309.5 1594.6 227.9 1594.7 283.8 1594.8 225.9 1594.9 309.8 1595 236.4 1595 383.1 1595.1 261.9 1595.2 261 1595.2 334.4 1595.3 187.7 1595.4 187.1 1595.5 346.8 1595.5 285.6 1595.5 274.1 1595.5 328.8 1595.6 212.3 1595.7 212.4 1595.8 299.8 1595.8 333.4 1595.9 236.9 1595.9 212.5 1596 286.7 1596 212.6 1596.1 213.3 1596.2 261.6 1596.2 334.9 1596.4 335 1596.5 246.7 1596.5 212.9 1596.6 347.4 1596.6 188.4 1596.7 310.7 1596.7 356 1596.7 276.5 1596.8 213 1596.8 310.8 1596.9 335.3 1597.1 323.2 1597.2 359.9 1597.4 218.6 1597.5 311.2 1597.5 262.3 1597.5 237.8 1597.5 311.2 1597.5 315.5 1597.6 201.2 1597.7 262.4 1597.8 201.3 1597.8 360.3 1597.8 333.9 1597.9 238.1 1597.9 235.1 1597.9 238.1 1597.9 299.2 1598 301.3 1598 262.6 1598 287 1598.1 262.6 1598.1 253.3 1598.1 213.7 1598.2 262.7 1598.3 360.5 1598.3 311.6 1598.3 311.6 1598.3 311.7 1598.4 238.4 1598.5 312.4 1598.6 279.6 1598.7 189.6 1598.7 189.1 1599.1 271.6 1599.2 276.7 1599.3 275.5 1599.3 190 1599.3 238.9 1599.4 312.2 1599.4 336.7 1599.6 263.4 1599.6 361.3 1599.6 241.4 1599.7 361.3 1599.7 288 1599.8 336.9 1599.9 239.1 1600.1 352.4 1600.2 422.9 1600.2 312.7 1600.2 306.7 1600.3 190.5 1600.3 361.7 1600.4 215 1600.4 262 1600.5 361.7 1600.5 276.2 1600.5 251.7 1600.5 337.3 1600.6 337.3 1600.6 239.5 1600.6 288.4 1600.6 215.1 1600.6 288.5 1600.6 288.5 1600.6 264 1600.7 312.9 1600.7 264.1 1600.7 215.2 1600.9 264.2 1600.9 215.3 1601 288.7 1601.1 231.3 1601.2 264.4 1601.3 277 1601.3 325.5 1601.4 288.9 1601.5 191.2 1601.5 289 1601.6 227 1601.6 240.1 1601.6 313.5 1601.7 362.4 1601.7 264.6 1601.8 292.2 1601.9 179.1 1601.9 338.1 1601.9 313.6 1601.9 264.7 1602 118.8 1602 191.4 1602.1 209.2 1602.2 216 1602.2 313.8 1602.4 265 1602.6 277.5 1602.6 338.5 1602.6 265.1 1602.8 338.6 1602.9 314.2 1602.9 265.3 1603 167.5 1603 192 1603.1 265.4 1603.1 265.4 1603.1 192.1 1603.2 216.5 1603.2 241 1603.4 192.2 1603.4 338.9 1603.5 220.3 1603.5 363.4 1603.7 167.9 1603.8 256.5 1603.8 280.6 1603.8 265.8 1603.8 195.3 1603.9 363.6 1603.9 241.4 1604 294.8 1604 330.2 1604.1 192.6 1604.1 267.8 1604.2 218.3 1604.2 363.8 1604.2 217.1 1604.2 339.3 1604.3 274.5 1604.5 310.4 1604.5 364 1604.7 168.5 1604.8 193 1604.8 315.2 1605 168.6 1605 277.9 1605.2 266.5 1605.2 230.1 1605.2 168.8 1605.4 242.2 1605.5 149 1605.5 315.6 1605.5 265.6 1605.5 193.4 1605.6 315.8 1605.7 352.4 1605.7 291.3 1605.8 273.2 1605.8 193.5 1606 364.8 1606 260.1 1606.1 340.4 1606.1 187 1606.1 315.9 1606.1 267.1 1606.2 340.5 1606.3 325.1 1606.3 316.1 1606.4 316.1 1606.5 291.7 1606.5 242.8 1606.5 244.5 1606.5 365.1 1606.6 340.7 1606.6 291.8 1606.6 316.2 1606.7 291.8 1606.7 312.3 1606.7 218.5 1606.8 291.9 1606.8 365.3 1606.9 269 1607 279.8 1607.2 243.2 1607.2 248.9 1607.2 218.8 1607.4 243.3 1607.4 169.9 1607.4 316.7 1607.5 243.4 1607.5 243.4 1607.8 292.4 1608 289.2 1608.1 341.5 1608.1 292.6 1608.1 317.1 1608.3 271.7 1608.3 270 1608.4 219.4 1608.5 243.9 1608.5 298.8 1608.5 263.3 1608.6 256.2 1608.8 231.9 1608.9 269.4 1608.9 218.8 1608.9 216.7 1608.9 252.9 1608.9 293 1609 219.7 1609.1 270.2 1609.3 257.9 1609.3 296.2 1609.4 268.3 1609.4 293.3 1609.4 257.7 1609.5 248.6 1609.5 268.9 1609.6 269 1609.6 260.4 1609.7 366.8 1609.7 273.1 1609.8 297.7 1609.8 269.1 1609.9 318 1610.1 367.1 1610.1 244.8 1610.2 244.9 1610.4 255.3 1610.4 196.1 1610.5 269.5 1610.7 245.1 1610.7 269.6 1610.7 187.2 1610.8 318.5 1610.8 245.2 1610.8 343 1610.9 343 1610.9 196.4 1611 318.7 1611.1 238.4 1611.1 196.4 1611.1 203.3 1611.2 295.4 1611.2 221 1611.2 221 1611.3 172.1 1611.3 245.7 1611.4 270 1611.5 294.5 1611.5 270 1611.5 332.3 1611.6 308.9 1611.6 270.1 1611.6 221.2 1611.6 270.1 1611.6 290.3 1611.7 343.5 1611.8 319.1 1611.9 210.3 1612 196.9 1612 294.8 1612.1 245.9 1612.1 221.5 1612.1 270.4 1612.1 295.9 1612.3 221.6 1612.3 325.9 1612.4 278.9 1612.4 246.1 1612.5 295.1 1612.5 172.8 1612.6 295.1 1612.7 221.8 1612.7 270.7 1612.8 245.8 1612.9 246.3 1613 295.3 1613 270.9 1613 234.2 1613.2 319.9 1613.2 295.4 1613.2 197.7 1613.3 295.5 1613.4 305.9 1613.4 344.4 1613.4 222.2 1613.5 356.7 1613.5 271.2 1613.5 320.1 1613.6 288.8 1613.6 197.9 1613.6 320.1 1613.8 255 1613.8 271.3 1614.1 247 1614.1 247 1614.1 247 1614.1 355.1 1614.1 261.6 1614.2 247.1 1614.2 247.1 1614.3 76 1614.4 320.5 1614.5 296.1 1614.5 260.6 1614.6 267.2 1614.7 186.2 1614.9 174.1 1614.9 296.4 1615 223.1 1615.1 223.1 1615.2 321 1615.2 174.3 1615.3 247.7 1615.3 272.2 1615.4 198.8 1615.4 247.8 1615.5 272.3 1615.6 321.2 1615.6 223.4 1615.6 174.5 1615.7 247.9 1615.9 309.1 1615.9 234.2 1616 248.1 1616 297 1616.2 297.1 1616.2 370.5 1616.3 223.8 1616.3 297.1 1616.4 346.1 1616.5 346.2 1616.5 297.5 1616.6 233.4 1616.6 346.2 1616.6 199.5 1616.7 251.3 1616.8 273 1616.9 262.9 1616.9 346.4 1616.9 273 1617 224.2 1617 296.4 1617.1 199.8 1617.1 273.1 1617.1 322 1617.1 273.2 1617.2 261 1617.2 322.1 1617.2 189.4 1617.2 371 1617.2 273.2 1617.3 304.2 1617.3 323.8 1617.4 265.4 1617.4 322.2 1617.4 248.9 1617.5 200 1617.6 175.6 1617.6 200.1 1617.6 273.4 1617.8 275 1617.8 371.3 1617.9 175.8 1617.9 322.5 1618 293.1 1618 322.5 1618 322.5 1618.2 273.8 1618.3 310.5 1618.3 273.8 1618.4 286.1 1618.4 322.8 1618.5 209.2 1618.5 273.9 1618.5 176.1 1618.5 322.8 1618.6 242.4 1618.6 341.7 1618.6 292.3 1618.7 298.5 1618.7 274 1618.7 309.2 1618.7 253.6 1618.8 231.7 1619 274.2 1619 298.6 1619 200.9 1619.1 323.1 1619.2 200.9 1619.3 347.7 1619.4 176.1 1619.5 298.9 1619.8 299.1 1619.8 274.6 1619.8 201.3 1619.9 348 1619.9 250.3 1620 225.8 1620 274.8 1620 250.3 1620.1 323.7 1620.2 152.4 1620.2 140.5 1620.2 299.3 1620.2 226 1620.5 299.5 1620.5 275 1620.8 198.3 1620.8 302.8 1620.8 250.5 1620.8 278.5 1620.8 348.6 1620.9 274.1 1621 250.8 1621 309.6 1621 226.4 1621.2 312.1 1621.2 348.8 1621.3 226.6 1621.3 226.6 1621.4 361.1 1621.5 348.9 1621.7 349.1 1621.7 275.7 1621.8 349.1 1621.8 251.3 1621.9 249 1621.9 326.2 1621.9 275.8 1621.9 277.9 1622 275.9 1622 202.5 1622.1 349.2 1622.1 324.8 1622.3 324.9 1622.3 256.2 1622.3 299.9 1622.4 269.5 1622.5 278.3 1622.6 202.8 1622.6 276.2 1622.6 203 1622.6 251.7 1622.6 227.3 1622.7 251.8 1622.7 276.3 1622.7 202.9 1622.8 325.2 1623.1 300.9 1623.1 300.9 1623.2 252 1623.2 349.9 1623.2 252.1 1623.2 233.4 1623.4 203.3 1623.4 350 1623.5 350 1623.6 313.4 1623.6 252.3 1623.8 227.9 1623.8 350.2 1623.9 228 1624.3 350.5 1624.3 277.1 1624.3 216 1624.4 313.9 1624.4 272.7 1624.5 326.1 1624.5 232.3 1624.6 241.2 1624.7 301.8 1624.8 268.4 1624.9 179.7 1625 350.9 1625 326.4 1625.1 228.7 1625.1 325.3 1625.2 325.5 1625.3 192.1 1625.3 204.3 1625.4 302.2 1625.4 228.8 1625.4 228.9 1625.5 180 1625.6 180.1 1625.6 305.9 1625.6 216.1 1625.6 253.4 1625.7 326.8 1625.8 229.1 1625.9 351.3 1625.9 229.1 1625.9 303.2 1625.9 351.4 1625.9 314.7 1625.9 241.9 1625.9 279.4 1626 351.4 1626 229.2 1626 261 1626.2 253.7 1626.3 204.9 1626.3 302.7 1626.3 327.1 1626.3 327.1 1626.4 327.2 1626.5 327.3 1626.6 278.4 1626.7 302.9 1626.7 278.5 1626.8 329 1626.8 327.4 1626.9 327.4 1626.9 329 1627 229.7 1627 303.1 1627.1 229.8 1627.1 376.5 1627.2 254.3 1627.3 311 1627.3 166.6 1627.4 254.4 1627.4 242.9 1627.4 303.3 1627.5 303.4 1627.6 205.6 1627.9 279.1 1627.9 261.7 1628 279.2 1628.1 254.8 1628.2 352.6 1628.2 293.6 1628.2 316.3 1628.2 230.4 1628.3 254.9 1628.4 279.4 1628.5 206.1 1628.6 255 1628.6 230.6 1628.6 181.7 1628.8 242.9 1628.8 255.2 1628.8 304.1 1628.8 353 1628.8 181.8 1628.8 230.7 1628.8 230.7 1628.9 230.8 1629 279.7 1629 328.6 1629.2 325.6 1629.2 255.4 1629.2 353.2 1629.3 231 1629.3 255.4 1629.3 304.4 1629.3 206.6 1629.4 304.4 1629.4 304.4 1629.4 280 1629.4 231.1 1629.5 353.4 1629.5 255.6 1629.6 218.9 1629.7 307.6 1629.7 330.5 1629.9 353.6 1629.9 274.7 1629.9 206.9 1630 261.5 1630 304.7 1630 353.6 1630.3 329.4 1630.3 304.9 1630.4 280.5 1630.5 207.2 1630.5 207.2 1630.5 305 1630.7 122.9 1630.7 207.3 1630.7 354 1630.9 305.2 1631 329.7 1631 183.1 1631.1 239.6 1631.1 329.8 1631.3 332 1631.6 207.8 1631.6 354.5 1631.6 357.8 1631.7 244.5 1631.9 256.9 1632 232.5 1632 208 1632 288.5 1632.1 305.9 1632.1 305.9 1632.1 354.8 1632.2 281.5 1632.2 232.6 1632.3 320.7 1632.3 183.8 1632.4 281.6 1632.5 183.9 1632.5 281.7 1632.5 257.2 1632.6 330.6 1632.7 184 1632.7 232.5 1632.8 355.2 1633 330.8 1633.1 208.6 1633.1 233.1 1633.1 252.2 1633.2 208.7 1633.3 306.6 1633.4 355.5 1633.4 295.9 1633.4 380 1633.4 233.3 1633.5 214.2 1633.5 294.4 1633.5 257.8 1633.6 208.9 1633.6 233.4 1633.7 282.4 1633.7 290.2 1633.7 135.9 1633.8 257.9 1633.8 233.5 1633.9 241.4 1633.9 331.4 1633.9 258 1634 184.7 1634.1 282.6 1634.1 344.5 1634.1 184.8 1634.2 274.5 1634.2 260.9 1634.2 331.5 1634.2 209.3 1634.2 209.3 1634.3 331.5 1634.3 258.2 1634.5 230.7 1634.6 313.3 1634.6 258.4 1634.7 209.5 1634.7 305.7 1634.7 179.1 1634.8 282.9 1634.8 282.9 1634.9 209.6 1634.9 344.1 1635 209.7 1635 283.1 1635.3 237.2 1635.4 224.1 1635.5 332.3 1635.7 332.3 1635.8 332.4 1635.8 308 1635.8 283.5 1635.9 234.6 1635.9 210.2 1636 234.7 1636 338.9 1636.1 234.8 1636.1 308.1 1636.2 264.5 1636.3 283.8 1636.3 329.9 1636.4 381.6 1636.4 218.4 1636.5 326.1 1636.5 320.6 1636.6 283.9 1636.6 235 1636.6 235 1636.6 332.9 1636.6 210.6 1636.7 247.3 1636.7 308.5 1636.8 270.7 1636.9 210.8 1636.9 235.2 1636.9 222.4 1636.9 186.3 1637 259.7 1637 308.6 1637 256 1637.2 247.6 1637.3 263.8 1637.3 202.5 1637.5 357.8 1637.5 211.1 1637.6 284.5 1637.7 284.6 1637.8 284.6 1637.8 358 1637.8 284.6 1637.9 211.3 1637.9 284.7 1637.9 333.6 1637.9 333.6 1638 284.7 1638.2 211.4 1638.2 175.3 1638.2 267 1638.2 187 1638.6 187.2 1638.7 187.3 1638.7 236.2 1638.8 311.6 1638.9 236.3 1638.9 306 1638.9 321.9 1638.9 248.5 1638.9 260.8 1639 285.3 1639.1 187.5 1639.1 236.4 1639.1 289.3 1639.1 309.8 1639.1 187.5 1639.2 309.8 1639.2 236.5 1639.4 261 1639.4 236.6 1639.4 310 1639.4 261.1 1639.5 187.7 1639.6 310 1639.6 327.6 1639.7 189.9 1639.7 222.4 1639.7 285.7 1639.8 334.6 1639.9 513.2 1640 290.3 1640 188 1640.1 273.6 1640.1 323.6 1640.1 235.7 1640.1 237 1640.3 359.3 1640.4 245.8 1640.5 310.6 1640.6 335.5 1640.6 330 1640.6 237.3 1640.6 237.3 1640.6 237.3 1640.7 237.3 1640.7 294.8 1640.7 286.2 1640.8 310.7 1640.8 237.4 1640.8 249.6 1640.9 286.3 1641 328.5 1641 261.9 1641.1 347.5 1641.2 384.3 1641.3 262.1 1641.4 237.7 1641.5 301.6 1641.6 259.9 1641.7 250.1 1641.7 247.8 1641.8 295.5 1641.8 286.8 1641.8 247.6 1641.9 238 1641.9 262.4 1641.9 311.3 1641.9 238 1642.1 238.1 1642.2 335.9 1642.3 189.3 1642.3 336 1642.4 287.1 1642.4 323.8 1642.5 283.3 1642.7 287.3 1642.7 262.9 1642.7 287.3 1642.7 218.8 1642.7 299.6 1642.8 311.8 1642.8 238.5 1643 242.3 1643 258.7 1643.3 214.3 1643.5 263.3 1643.5 263.3 1643.5 287.8 1643.6 286.6 1643.6 263.4 1643.7 165.6 1643.7 287.9 1643.9 312.4 1643.9 239.1 1643.9 214.7 1644 288 1644.1 263.6 1644.1 288.1 1644.1 228.4 1644.1 239.2 1644.3 312.7 1644.3 239.3 1644.6 215 1644.6 337.3 1644.6 177.4 1644.6 290.6 1644.6 295.9 1644.7 215.1 1644.8 264 1644.9 190.7 1644.9 264.1 1645 238.2 1645 288.6 1645.1 239.7 1645.1 190.9 1645.1 239.8 1645.2 337.6 1645.4 215.4 1645.5 215.5 1645.6 288.9 1645.6 341 1645.6 362.3 1645.7 313.4 1645.9 338 1646 313.6 1646 240.2 1646.1 289.2 1646.2 241.1 1646.2 293.9 1646.4 191.6 1646.4 252.2 1646.5 287.9 1646.5 206.9 1646.6 362.8 1646.6 316.9 1646.7 167.3 1646.7 167.3 1646.8 362.9 1646.8 317.1 1646.9 338.5 1646.9 216.3 1646.9 289.6 1646.9 308 1646.9 277.4 1647 338.6 1647.1 265.3 1647.1 265.3 1647.1 240.9 1647.3 289.8 1647.4 289.9 1647.4 265.5 1647.4 363.3 1647.4 276.2 1647.5 216.6 1647.5 290 1647.5 216.6 1647.5 216.6 1647.6 234.8 1647.6 192.2 1647.8 290.1 1647.8 265.7 1647.8 290.2 1647.9 192.4 1648.2 327 1648.5 217.2 1648.6 339.5 1648.6 194.2 1648.6 167.5 1648.7 241.7 1648.8 283.7 1648.8 364.1 1648.9 266.3 1648.9 278.5 1649 339.7 1649 217.5 1649.1 193 1649.1 266.4 1649.2 339.8 1649.3 216.8 1649.4 339.9 1649.4 193.2 1649.6 249.8 1649.8 315.7 1649.8 353.6 1649.8 291.3 1649.9 193.5 1649.9 193.5 1650.1 251.5 1650.2 389.2 1650.2 242.6 1650.5 316.1 1650.6 242.8 1650.6 357.1 1650.7 218.4 1650.8 316.2 1650.8 273 1650.9 243 1650.9 296.4 1651 258.4 1651.1 218.6 1651.1 194.2 1651.2 340.9 1651.2 316.5 1651.2 241 1651.4 292.2 1651.4 316.6 1651.5 316.6 1651.5 267.7 1651.6 390.1 1651.6 341.2 1651.7 149.6 1651.7 308.2 1651.7 243.4 1651.8 243.5 1651.8 292.4 1651.8 145.9 1651.9 292.4 1651.9 316.9 1652 267.3 1652.1 317 1652.1 341.4 1652.1 268.1 1652.3 329.3 1652.3 243.8 1652.8 390.7 1652.8 219.6 1652.9 195.2 1653 278.7 1653 211.7 1653 293 1653 268.6 1653.2 301.5 1653.3 281 1653.4 317.7 1653.4 264.7 1653.5 354.4 1653.5 317.7 1653.6 317.8 1653.6 268.9 1653.6 317.8 1653.9 318 1654.1 367 1654.1 244.7 1654.2 318.1 1654.3 220.4 1654.3 318.2 1654.3 293.8 1654.4 269.3 1654.4 196 1654.4 220.5 1654.6 215 1654.6 208.3 1654.8 284.4 1654.8 269.4 1654.8 264.9 1655 367.5 1655 269.7 1655 318.6 1655.1 264.7 1655.1 245.3 1655.3 220.9 1655.3 258.9 1655.4 247.3 1655.5 184.4 1655.5 269.9 1655.5 221 1655.7 268 1655.7 270.1 1655.7 343.4 1655.8 319 1655.8 245.7 1655.9 319.1 1656 204.3 1656 331.4 1656.1 319.2 1656.1 282.5 1656.1 368.1 1656.2 319.2 1656.2 294.8 1656.2 281.9 1656.3 197 1656.3 392.6 1656.3 278.8 1656.5 243 1656.6 319.5 1656.6 331.7 1656.7 344 1656.7 319.5 1656.8 392.9 1656.8 221.8 1656.8 288.7 1656.8 270.5 1657 209.6 1657 270.8 1657.1 368.6 1657.2 295.4 1657.3 356.5 1657.4 288 1657.4 283.2 1657.4 319.9 1657.5 295.5 1657.5 295.5 1657.6 173.3 1657.7 271.2 1657.7 187.3 1657.9 344.6 1657.9 222.4 1658 246.9 1658 371.5 1658.1 295.8 1658.2 230.7 1658.3 393.7 1658.3 271.5 1658.3 296 1658.4 344.9 1658.4 369.3 1658.4 271.5 1658.4 216.9 1658.6 320.6 1658.7 345.1 1658.8 222.9 1658.9 271.8 1659 292.1 1659 247.5 1659 247.5 1659.1 382 1659.2 308.7 1659.3 198.7 1659.3 333.2 1659.4 369.9 1659.4 321 1659.5 223.3 1659.6 300.7 1659.6 321.1 1659.7 321.2 1659.8 256.3 1659.8 296.8 1659.8 296.8 1659.8 223.4 1659.9 394.6 1659.9 237.8 1659.9 199.1 1660 321.3 1660 296.9 1660.2 235.9 1660.2 248.1 1660.6 308.8 1660.6 297.2 1660.8 346.2 1660.8 272.9 1660.9 199.6 1661 224.1 1661.2 199.7 1661.2 332.9 1661.3 289 1661.3 175.4 1661.3 273.2 1661.4 297.7 1661.5 322.2 1661.6 297.8 1661.7 197.1 1661.8 346.8 1661.8 200.1 1662 298 1662 200.2 1662.3 249.3 1662.3 245.5 1662.4 249.3 1662.5 288.8 1662.6 286.1 1662.6 243 1662.7 225 1662.7 286.2 1662.8 322.9 1662.9 196 1663 211.4 1663 225.2 1663 249.7 1663 225.2 1663.1 323.1 1663.1 258 1663.1 277.8 1663.3 225.4 1663.3 225.4 1663.3 396.5 1663.4 225.4 1663.5 274.4 1663.7 213.4 1663.8 151.2 1663.8 299 1663.8 225.7 1663.9 152.3 1664 274.7 1664.1 274.7 1664.1 225.8 1664.2 250.3 1664.3 274.8 1664.3 199.9 1664.4 297.5 1664.4 250.4 1664.4 201.5 1664.4 348.3 1664.5 275 1664.6 247.2 1664.6 196 1664.7 201.7 1664.7 275.7 1664.8 201.7 1664.8 201.7 1664.8 299.6 1664.9 201.8 1665 275.4 1665.1 201.9 1665.3 250.9 1665.5 348.9 1665.7 214.5 1665.8 275.7 1665.8 202.3 1665.9 324.6 1665.9 251.3 1666 349.1 1666.1 300.3 1666.1 288.1 1666.4 202.7 1666.5 398.3 1666.5 300.5 1666.8 276.2 1666.8 202.9 1666.8 276.2 1666.8 251.8 1666.9 266.6 1666.9 398.5 1666.9 349.6 1667 180.7 1667.1 300.8 1667.1 300.8 1667.2 215.1 1667.2 276.4 1667.3 325.4 1667.3 256.6 1667.4 203.2 1667.4 205.8 1667.7 325.6 1667.9 217 1668.1 301.4 1668.3 325.9 1668.3 179.2 1668.3 228.1 1668.3 326 1668.4 203.7 1668.5 333.5 1668.5 301.6 1668.6 277.2 1668.6 203.9 1668.6 421.5 1668.7 387.3 1668.7 350.6 1668.8 228.4 1668.9 228.5 1668.9 224.4 1669.3 160.9 1669.4 277.6 1669.4 228.7 1669.5 326.6 1669.5 400 1669.6 253.3 1669.6 180 1669.7 253.3 1669.7 351.2 1669.7 289.4 1669.7 180 1669.7 233.7 1669.8 277.9 1669.8 302.3 1669.8 280.8 1669.9 234.8 1670 302.4 1670 326.9 1670 168.1 1670.1 300.2 1670.2 253.6 1670.2 253.6 1670.4 278.2 1670.4 253.8 1670.5 327.2 1670.5 253.8 1670.5 327.2 1670.6 327.2 1670.6 264.6 1670.6 247.5 1670.7 253.9 1670.8 302.9 1670.8 278.4 1670.8 229.5 1671.1 278.6 1671.1 156.4 1671.2 229.7 1671.2 254.2 1671.2 287.9 1671.3 303.2 1671.4 215.8 1671.5 278.6 1671.5 229.9 1671.5 269 1671.6 205.5 1671.6 193.3 1671.6 327.8 1671.7 278.9 1671.8 236.7 1671.9 279 1671.9 279 1672 254.6 1672 270.2 1672 230.2 1672.1 301.8 1672.2 230.3 1672.3 238.5 1672.4 206 1672.4 328.2 1672.5 303.8 1672.5 254.9 1672.5 401.6 1672.6 324.8 1672.6 328.3 1672.6 279.4 1672.8 258.8 1672.9 202.9 1673 304.1 1673.1 255.2 1673.1 267.4 1673.2 254.9 1673.3 304.2 1673.3 256.7 1673.5 279.9 1673.5 270.1 1673.5 292.2 1673.7 157.8 1673.7 252 1673.9 234.9 1673.9 206.8 1673.9 257.2 1673.9 325.8 1673.9 255.7 1673.9 280.2 1674.1 304.7 1674.1 353.6 1674.2 211.6 1674.3 255.9 1674.4 207.1 1674.6 201.2 1674.7 263.1 1674.8 268.4 1675 246.6 1675 280.8 1675.1 329.7 1675.1 256.4 1675.2 216.8 1675.3 219.8 1675.4 232.1 1675.4 305.4 1675.7 232.3 1675.8 256.8 1675.9 330.2 1675.9 286.4 1676 232.4 1676 281.3 1676 330.2 1676 208 1676.1 225.6 1676.1 272 1676.3 272.6 1676.3 257 1676.4 257.1 1676.5 257.1 1676.5 306.1 1676.7 208.4 1676.8 281.7 1676.8 232.9 1677 271.9 1677.1 379.7 1677.1 306.4 1677.1 330.8 1677.1 184.1 1677.2 306.4 1677.3 282 1677.3 306.5 1677.3 263 1677.3 297.9 1677.3 306.5 1677.4 306.5 1677.4 306.5 1677.5 208.8 1677.5 197.3 1677.5 254 1677.5 257.7 1677.6 257.7 1677.6 253.5 1677.8 184.5 1677.8 270.1 1678 209.1 1678 258 1678.3 282.6 1678.3 380.4 1678.4 233.7 1678.6 209.4 1678.7 250.1 1678.8 209.5 1678.8 160.6 1678.8 316.2 1678.9 234 1679.1 258.6 1679.2 160.8 1679.3 209.8 1679.3 381 1679.5 332.1 1679.7 428.8 1679.7 307.8 1679.8 241.6 1679.9 405.7 1679.9 405.7 1679.9 320.2 1680 255 1680.1 210.2 1680.1 283.6 1680.1 210.2 1680.2 283.6 1680.3 311.6 1680.4 393.7 1680.4 185.9 1680.4 259.3 1680.4 259.3 1680.5 286.7 1680.6 186.1 1680.6 259.4 1680.6 229.7 1680.7 283.9 1680.7 188.1 1680.8 210.6 1680.8 259.5 1680.8 308.4 1681 284.1 1681 229.6 1681.1 210.8 1681.2 333.1 1681.3 308.7 1681.3 308.7 1681.3 259.8 1681.5 211 1681.5 284.5 1681.5 308.8 1681.5 235.5 1681.6 333.3 1681.7 211.1 1681.7 276.2 1682 311 1682 211.3 1682.1 162.4 1682.1 260.2 1682.1 227.6 1682.2 211.4 1682.2 260.3 1682.4 309.3 1682.4 309.3 1682.5 284.9 1682.5 236 1682.6 211.6 1682.6 382.8 1682.7 260.6 1682.8 236.2 1682.8 358.4 1683 260.7 1683.1 187.4 1683.2 248.6 1683.2 285.3 1683.3 309.8 1683.3 195.7 1683.4 334.3 1683.5 236.5 1683.7 334.5 1683.7 297.8 1683.8 297.8 1683.8 163.4 1683.8 236.8 1683.9 297.9 1684.1 334.7 1684.1 293.6 1684.1 310.3 1684.2 285.8 1684.2 237 1684.3 188.1 1684.4 261.5 1684.5 282.2 1684.6 335 1684.6 275.4 1684.7 298.5 1684.9 286.2 1685 310.7 1685 310.7 1685 310.7 1685 384.1 1685.1 237.4 1685.2 220.3 1685.3 272.5 1685.4 262 1685.4 126.1 1685.4 286.5 1685.5 311 1685.5 264.3 1685.5 286.6 1685.7 200.4 1686.1 311.4 1686.2 274.7 1686.2 287 1686.3 507.1 1686.4 280.4 1686.5 238.3 1686.5 213.8 1686.5 232.4 1686.6 262.7 1686.6 262.8 1687 214 1687.1 287.4 1687.1 230 1687.2 263 1687.2 360.9 1687.4 312.1 1687.7 235.9 1687.7 263.3 1687.8 287.8 1687.9 218.3 1687.9 272.2 1688 222.3 1688.2 244.4 1688.2 385.9 1688.2 337 1688.3 337 1688.5 226.8 1688.5 337.2 1688.6 263.8 1688.6 288.3 1688.7 263.9 1688.7 288.3 1688.7 281 1688.7 337.3 1688.8 307.5 1688.9 233.9 1688.9 264.1 1688.9 239.6 1689 190.7 1689 239.6 1689.1 259.9 1689.1 236.7 1689.2 288.6 1689.2 239.7 1689.4 386.5 1689.4 191 1689.6 211.5 1689.8 156.9 1690 191.3 1690.1 289.1 1690.2 338.1 1690.2 313.6 1690.3 264.8 1690.4 289.3 1690.4 258.1 1690.4 266.6 1690.5 216 1690.6 269.3 1690.6 179.4 1690.6 294.4 1690.7 240.6 1690.8 216.2 1691.2 265.3 1691.3 265.4 1691.5 241 1691.5 192.1 1691.7 241.1 1691.7 290 1691.7 265.6 1691.8 326.7 1691.8 265.6 1691.8 216.7 1691.9 226.1 1691.9 290.1 1691.9 351.2 1691.9 192.3 1692 277.9 1692 241.3 1692 339.1 1692.1 339.1 1692.3 290.4 1692.4 294.7 1692.5 314.9 1692.5 299.3 1692.7 266.1 1692.7 278.4 1692.9 290.6 1692.9 228.7 1693 192.9 1693 315.2 1693.1 246.1 1693.2 266.4 1693.3 269.8 1693.4 266.5 1693.4 266.5 1693.5 339.9 1693.5 291.4 1693.5 388.8 1693.6 315.5 1693.6 187.5 1693.8 167.3 1693.8 285.3 1693.9 315.7 1693.9 242.3 1694 340.2 1694.1 169.1 1694.1 364.7 1694.3 315.9 1694.4 316 1694.5 316 1694.6 169.4 1694.6 267.2 1694.7 242.7 1694.7 193.9 1694.8 169.5 1694.8 321.9 1694.9 218.4 1694.9 340.7 1694.9 218.4 1695 316.3 1695.1 267.4 1695.1 218.5 1695.1 316.3 1695.1 487.5 1695.1 275.9 1695.1 205.1 1695.1 218.6 1695.1 218.6 1695.2 243 1695.5 243.2 1695.5 365.4 1695.5 243.2 1695.7 296.3 1695.8 243.4 1695.9 257.8 1696 243.5 1696.1 194.6 1696.1 316.9 1696.2 316.9 1696.2 268.1 1696.4 292.6 1696.4 176.5 1696.5 231.5 1696.6 219.4 1696.6 341.6 1696.7 268.3 1696.8 219.5 1696.8 292.8 1696.9 244 1696.9 244 1697 244 1697 268.5 1697.3 363.7 1697.3 268.7 1697.5 257.8 1697.5 211.3 1697.6 281 1697.6 171 1697.7 293.6 1697.7 195.5 1697.9 195.6 1698 222.1 1698.2 342.5 1698.3 195.9 1698.3 269.2 1698.4 293.7 1698.5 269.3 1698.7 196.1 1698.7 269.4 1698.8 253.1 1698.9 294 1699 245.2 1699.1 220.7 1699.1 245.2 1699.1 318.5 1699.1 294.1 1699.2 392 1699.2 265.5 1699.3 294.2 1699.3 245.3 1699.4 245.3 1699.4 294.3 1699.4 306.5 1699.5 271.2 1699.5 317.2 1699.6 270 1699.7 311.2 1699.7 318.9 1699.7 331.1 1699.8 270 1699.8 267.9 1699.9 223.5 1699.9 294.6 1700 294.6 1700 319.1 1700 245.7 1700.1 196.8 1700.1 319.1 1700.1 319.1 1700.2 270.3 1700.4 270.4 1700.5 221.5 1700.5 270.4 1700.6 319.4 1700.7 230.6 1700.7 221.6 1700.7 246.1 1700.7 246.1 1700.8 307.3 1700.8 344 1700.9 246.2 1700.9 319.6 1701 221.8 1701 249.7 1701 295.2 1701.1 344.1 1701.2 221.9 1701.2 270.8 1701.3 295.3 1701.4 273.5 1701.4 319.9 1701.6 222.1 1701.6 271.1 1701.7 230.3 1701.8 197.8 1701.8 263.1 1701.8 268 1701.9 284.5 1701.9 283.4 1701.9 320.1 1702 271.2 1702 222.4 1702 320.2 1702 332.4 1702.3 247 1702.4 198.1 1702.5 222.6 1702.5 198.2 1702.5 222.6 1702.5 201.3 1702.6 247.1 1702.6 296 1702.7 271.7 1702.8 296.1 1702.9 198.4 1702.9 235.1 1702.9 320.7 1702.9 296.2 1703 296.3 1703.1 296.3 1703.3 272 1703.3 242.6 1703.4 198.7 1703.5 296.5 1703.5 223.2 1703.8 198.9 1703.8 296.7 1703.9 199 1704 272.4 1704.1 174.6 1704.2 248.1 1704.3 345.9 1704.4 199.2 1704.6 217.2 1704.7 199.4 1704.7 234.9 1704.7 199.4 1704.8 244.5 1704.8 201.7 1704.9 237.1 1705 224 1705 272.9 1705.2 236.3 1705.3 273.1 1705.3 199.8 1705.3 175.3 1705.3 212 1705.4 224.2 1705.4 224.2 1705.5 248.7 1705.5 175.4 1705.5 224.3 1705.5 224.3 1705.5 248.8 1705.5 239.4 1705.5 175.4 1705.6 248.8 1705.6 346.6 1705.7 199.9 1705.7 322.2 1705.8 297.8 1705.8 322.3 1705.9 346.8 1705.9 224.5 1705.9 332.1 1706 224.6 1706 250.6 1706 329.9 1706.2 346.9 1706.5 200.4 1706.5 224.8 1706.5 234.4 1706.6 255.8 1706.7 315.7 1706.8 200.6 1706.8 200.6 1706.9 275.8 1707 347.4 1707 261.8 1707.2 274.1 1707.3 274.2 1707.3 225.3 1707.4 298.7 1707.5 176.5 1707.6 291 1707.6 274.4 1707.7 347.8 1707.7 153.8 1707.8 257.9 1707.9 209.4 1707.9 250.1 1707.9 250.1 1707.9 347.9 1708 318.8 1708 225.7 1708.1 274.6 1708.2 274.7 1708.2 201.3 1708.4 265.2 1708.4 267.3 1708.5 323.8 1708.7 299.4 1708.7 222.6 1708.8 250.6 1708.9 299.5 1708.9 240.5 1708.9 324 1708.9 324 1708.9 238.9 1709 210.2 1709 250.7 1709.1 273.8 1709.1 263 1709.1 324.1 1709.2 127.8 1709.2 348.6 1709.2 324.2 1709.3 348.6 1709.3 324.2 1709.5 226.5 1709.5 226.5 1709.6 305.8 1709.6 275.4 1709.7 202.1 1709.7 240.1 1709.7 266.9 1709.7 189.5 1709.8 275.6 1709.9 324.5 1709.9 226.7 1710.1 275.7 1710.1 177.9 1710.1 226.8 1710.1 287.9 1710.1 251.3 1710.2 178 1710.2 226.9 1710.4 227 1710.5 280.4 1710.8 251.7 1710.8 279.2 1710.9 251.7 1710.9 365.4 1711 227.3 1711.2 288.6 1711.2 290.9 1711.2 251.9 1711.3 349.7 1711.4 203.1 1711.4 227.5 1711.5 203.7 1711.5 203.2 1711.6 227.7 1711.6 254.5 1711.6 301 1711.8 325.6 1711.8 227.8 1711.9 178.9 1712 276.8 1712 266.9 1712 227.9 1712.3 301.4 1712.3 314 1712.4 267.9 1712.5 326 1712.6 350.5 1712.6 203.8 1712.7 281.8 1712.8 448.4 1712.8 238.3 1712.9 314 1712.9 277.3 1713 261.4 1713 252.9 1713 277.4 1713 301.8 1713.1 228.5 1713.1 228.5 1713.2 301.9 1713.3 204.2 1713.5 351 1713.6 326.6 1713.6 351 1713.7 302.2 1713.7 228.8 1713.9 253.4 1713.9 253.4 1714 267 1714.1 326.9 1714.2 155.8 1714.2 278 1714.3 351.4 1714.3 229.2 1714.4 253.7 1714.5 278.2 1714.5 253.7 1714.6 253.8 1714.7 229.4 1714.8 253.9 1714.9 180.6 1714.9 278.4 1715.1 400.8 1715.1 265.5 1715.2 327.5 1715.2 278.6 1715.4 229.8 1715.5 278.7 1715.5 254.3 1715.5 285.4 1715.6 278.8 1715.6 303.3 1715.7 148 1715.8 278.9 1715.8 299 1715.8 205.6 1715.8 278.9 1715.8 278.9 1715.9 327.9 1715.9 197.8 1716 283.7 1716.1 279.1 1716.2 205.8 1716.3 230.3 1716.3 254.7 1716.5 235.3 1716.6 218.2 1716.7 279.4 1716.9 230.6 1717 157.3 1717 304 1717.1 255.1 1717.1 219.2 1717.1 181.8 1717.2 416.6 1717.2 230.8 1717.2 198.4 1717.3 269 1717.4 279.8 1717.4 316.4 1717.4 255.3 1717.4 279.8 1717.4 206.5 1717.5 182.1 1717.5 304.3 1717.5 328.8 1717.6 328.8 1717.6 255.4 1717.6 220.4 1717.7 279.9 1717.8 264.6 1717.8 255.6 1717.9 274.9 1718 231.2 1718 212.1 1718 255.7 1718.1 280.1 1718.2 304.7 1718.3 182.5 1718.4 219.2 1718.6 267.5 1718.7 182.7 1718.7 182.7 1718.9 182.8 1718.9 207.2 1718.9 231.7 1718.9 182.8 1719 329.6 1719 305.1 1719 280.7 1719.1 231.8 1719.1 204.2 1719.2 231.9 1719.3 329.7 1719.3 281.5 1719.6 403.2 1719.7 232.1 1719.7 275.3 1719.8 183.3 1719.8 305.6 1719.9 305.6 1720 330.1 1720 183.4 1720 281.2 1720.1 293.5 1720.1 232.4 1720.1 159 1720.1 256.8 1720.2 183.6 1720.2 305.8 1720.3 296.9 1720.3 256.9 1720.4 252.4 1720.5 305.9 1720.6 257.1 1720.6 293.8 1720.7 306 1720.7 333.7 1720.8 330.6 1720.9 304.4 1720.9 281.7 1720.9 232.8 1720.9 306.2 1721 208.4 1721 211.6 1721 355.2 1721 257.4 1721.2 210.2 1721.3 306.4 1721.3 244.4 1721.3 170.5 1721.3 246.4 1721.3 330.9 1721.6 288.3 1721.7 331 1721.7 236.6 1721.7 208.8 1721.8 306.7 1721.8 233.3 1721.8 224.2 1722 257.9 1722.2 233.6 1722.2 250.4 1722.3 233.6 1722.3 295.4 1722.4 269.5 1722.5 307 1722.5 356 1722.6 233.8 1722.6 258.2 1722.7 307.2 1722.7 281 1722.8 197.2 1722.8 282.8 1722.9 331.8 1723 282.9 1723.1 282.9 1723.2 214 1723.5 160.9 1723.6 332.1 1723.6 258.8 1723.8 332.2 1723.8 258.9 1723.8 283.3 1723.9 210 1723.9 283.4 1724 210.1 1724.2 226.3 1724.2 283.6 1724.2 308.7 1724.2 185.8 1724.2 308 1724.3 161.3 1724.3 259.1 1724.3 308.1 1724.3 308.1 1724.4 308.1 1724.4 304.1 1724.5 256.5 1724.5 259.3 1724.7 277.4 1724.9 332.8 1725 357.3 1725 273.5 1725.1 210.7 1725.1 210.7 1725.1 186.2 1725.1 137.6 1725.2 186.3 1725.3 247.5 1725.4 162 1725.4 210.9 1725.4 308.7 1725.5 186.5 1725.6 210.9 1725.6 259.9 1725.7 235.5 1725.7 284.4 1725.9 284.5 1725.9 235.6 1726.1 268.6 1726.1 284.6 1726.1 285.9 1726.1 309.1 1726.3 296.9 1726.3 186.9 1726.4 187 1726.5 162.6 1726.7 187.1 1726.8 211.7 1726.8 187.2 1726.9 309.5 1726.9 285 1727 309.5 1727 285.1 1727.3 246.1 1727.3 285.3 1727.4 247.3 1727.9 227.8 1728 240.2 1728.1 310.2 1728.1 187.9 1728.3 285.4 1728.3 263.9 1728.3 305.1 1728.3 285.8 1728.3 310.3 1728.7 221.2 1728.7 237.2 1728.9 212.8 1728.9 286.1 1729 286.2 1729 261.8 1729.1 237.4 1729.2 207.8 1729.3 274.1 1729.3 286.4 1729.4 262 1729.4 231.1 1729.5 247.9 1729.5 213.1 1729.5 262 1729.6 311 1729.6 231.2 1729.7 262.1 1729.8 262.2 1729.8 311.1 1729.8 188.9 1729.8 311.1 1729.8 188.9 1730 237.9 1730.1 213.4 1730.1 189 1730.3 330.4 1730.3 189.2 1730.4 311.4 1730.4 216.9 1730.4 189.2 1730.4 406.8 1730.4 238.1 1730.5 311.5 1730.5 152.6 1730.7 348.3 1730.7 311.6 1730.7 177.1 1730.7 189.4 1730.9 262.8 1730.9 298.2 1731 265.4 1731 238.4 1731 238.4 1731.2 311.9 1731.2 336.3 1731.2 320.1 1731.3 287.5 1731.4 189.7 1731.4 312 1731.4 263.1 1731.4 189.7 1731.5 287.6 1731.5 238.7 1731.7 238.8 1731.7 263.2 1731.8 354.8 1731.8 336.7 1731.9 150.9 1732 312.3 1732.1 239 1732.1 190.1 1732.3 239.1 1732.4 214.7 1732.4 288.1 1732.5 222.5 1732.6 288.2 1732.6 141.5 1732.7 214.9 1732.7 353.2 1732.7 251.6 1732.8 235.4 1732.8 263.9 1732.9 190.6 1733 239.5 1733.1 252.1 1733.2 215.2 1733.2 313 1733.2 288.5 1733.3 275.3 1733.3 288.6 1733.3 215.3 1733.5 264.2 1733.5 142 1733.9 240 1733.9 199 1734 247.4 1734.1 301.3 1734.1 338 1734.2 264.6 1734.2 225.4 1734.3 338 1734.4 240.3 1734.5 261.4 1734.5 338.2 1734.6 240.4 1734.6 338.2 1734.6 331 1734.8 167.2 1734.8 338.3 1734.9 265 1735 240.6 1735 295.5 1735.1 289.6 1735.1 277.4 1735.2 228.5 1735.2 338.5 1735.2 191.9 1735.4 216.4 1735.4 279.8 1735.4 167.5 1735.5 167.5 1735.6 192 1735.7 277.7 1735.9 265.6 1736 265.6 1736 314.5 1736 192.3 1736.1 192.3 1736.1 265.7 1736.1 241.3 1736.2 241.3 1736.4 265.9 1736.4 290.3 1736.5 192.6 1736.5 241.5 1736.6 265.9 1736.7 290.5 1736.8 266.1 1736.9 315 1737.1 327.4 1737.1 351.8 1737.2 327.4 1737.3 263 1737.4 314.8 1737.4 290.9 1737.5 266.4 1737.5 266.4 1737.5 216.6 1737.6 193.2 1737.7 209.9 1737.8 229.9 1737.8 208.3 1737.9 164 1737.9 266.7 1737.9 266.7 1738 285.8 1738 242.3 1738.1 193.5 1738.1 242.4 1738.6 267.1 1738.6 218.6 1738.8 242.8 1738.8 169.4 1738.8 193.9 1738.9 291.7 1738.9 146.3 1738.9 218.4 1739 193.9 1739.1 169.6 1739.2 291.8 1739.2 267.4 1739.2 291.9 1739.3 419 1739.3 291.9 1739.3 291.9 1739.4 267.5 1739.6 245.4 1739.8 194.4 1739.8 267.7 1740 200.6 1740.1 308.6 1740.2 316.8 1740.2 278 1740.2 266.4 1740.2 170.2 1740.2 316.9 1740.2 243.5 1740.3 194.7 1740.5 268.1 1740.8 195 1741.1 268.4 1741.1 326.6 1741.1 244 1741.2 195.2 1741.3 244.1 1741.3 317.5 1741.4 244.2 1741.5 293.1 1741.7 219.9 1741.8 252.6 1741.8 268.9 1741.9 244.4 1741.9 293.4 1742 293.4 1742 293.4 1742.2 244.6 1742.2 195.7 1742.2 342.4 1742.3 345 1742.6 342.7 1742.6 330.4 1742.7 171.5 1742.7 318.2 1742.7 196 1742.7 207.8 1742.9 245 1742.9 196.1 1743 301.7 1743 196.2 1743 211.8 1743.1 306.3 1743.3 220.8 1743.4 269.7 1743.5 234.3 1743.6 238.6 1743.6 318.7 1743.6 318.8 1744 189.3 1744 221.2 1744.1 259.6 1744.5 197 1744.5 282.6 1744.6 294.8 1744.6 204.4 1744.9 246.1 1744.9 295 1744.9 261.9 1745.1 207.6 1745.1 234 1745.2 221.8 1745.2 260.2 1745.2 319.6 1745.3 221.9 1745.5 222 1745.6 283.2 1745.8 197.7 1745.9 267 1746 258.9 1746.1 295.7 1746.1 295.7 1746.2 246.8 1746.5 320.3 1746.5 218.9 1746.6 247.1 1746.8 247.2 1746.8 198.3 1746.9 271.7 1746.9 198.3 1747 247.3 1747 247.3 1747 320.7 1747.1 296.2 1747.2 247.4 1747.3 236.5 1747.3 247.4 1747.4 181.5 1747.4 296.4 1747.5 320.9 1747.7 272.1 1747.8 245.2 1747.8 276.9 1747.9 262.5 1748.1 296.8 1748.1 467.9 1748.2 321.3 1748.3 296.9 1748.3 321.4 1748.3 296.9 1748.6 223.7 1748.8 272.7 1748.8 199.4 1749 276.1 1749.1 199.6 1749.2 199.6 1749.2 370.8 1749.3 175.2 1749.3 234.6 1749.5 289 1749.5 297.6 1749.8 322.2 1749.8 236 1750.2 322.4 1750.2 298 1750.3 151.3 1750.3 322.5 1750.5 200.3 1750.6 268.4 1750.6 273.7 1750.7 304.5 1750.7 200.5 1750.8 200.5 1750.8 224.9 1751 306.1 1751 176.2 1751.1 298.5 1751.3 200.7 1751.3 274.1 1751.4 200.8 1751.6 323.2 1751.7 198.1 1751.7 323.3 1751.8 335.5 1751.9 239.6 1751.9 323.3 1751.9 323.3 1751.9 298.9 1752 323.4 1752 299 1752.1 285.6 1752.2 201.2 1752.3 176.8 1752.3 323.5 1752.5 201.4 1752.7 250.4 1752.7 177.1 1752.7 274.9 1752.8 323.8 1752.9 196.3 1752.9 226.1 1753 323.9 1753 250.6 1753.1 299.6 1753.3 226.3 1753.3 201.9 1753.4 201.9 1753.4 324.2 1753.5 226.4 1753.5 302.8 1753.8 275.5 1753.9 324.5 1754 275.6 1754.3 300.2 1754.4 286.1 1754.5 251.4 1755.1 227.3 1755.2 165 1755.3 288.5 1755.3 231.6 1755.5 300.9 1755.7 203.2 1755.9 252.2 1755.9 301.1 1756.2 276.8 1756.3 275.5 1756.4 252.5 1756.5 252.5 1756.5 203.7 1756.7 203.7 1756.7 326 1756.7 350.5 1756.8 326 1756.9 277.2 1756.9 423.9 1757 252.8 1757.1 204 1757.1 204 1757.2 326.3 1757.3 228.5 1757.4 253.1 1757.6 253.1 1757.7 277.7 1757.8 266.5 1757.9 326.6 1757.9 239.2 1757.9 270.9 1758 204.5 1758.1 253.4 1758.3 326.9 1758.3 204.6 1758.4 253.6 1758.5 255 1758.6 302.6 1758.7 253.7 1758.7 204.8 1758.7 302.7 1758.7 284.8 1758.8 229.3 1758.8 229.3 1758.8 278.3 1758.8 283.4 1758.9 167 1758.9 278.3 1758.9 302.8 1759 327.3 1759.1 302.9 1759.1 254 1759.2 229.6 1759.2 327.4 1759.2 197 1759.2 180.7 1759.3 193 1759.3 327.4 1759.3 180.8 1759.4 351.9 1759.4 303.1 1759.4 254.2 1759.7 327.6 1759.8 254.4 1760 327.8 1760.1 279 1760.1 327.9 1760.1 279 1760.2 266.8 1760.3 230.2 1760.4 254.7 1760.6 258 1760.6 254.8 1760.7 230.4 1760.7 230.4 1760.7 230.4 1760.8 206 1760.8 230.5 1760.8 267.2 1761.1 206.2 1761.4 248.9 1761.4 255.2 1761.5 206.4 1761.5 279.8 1761.6 328.7 1761.7 255.4 1761.9 304.4 1761.9 255.5 1762 328.9 1762.1 304.6 1762.3 219.1 1762.3 255.8 1762.4 316.2 1762.4 329.2 1762.4 231.4 1762.4 268 1762.4 304.7 1762.6 207 1762.6 207 1762.6 304.8 1762.7 231.5 1762.9 353.9 1763 227 1763.1 214.5 1763.1 256.2 1763.1 281 1763.2 207.4 1763.3 280.8 1763.4 256.4 1763.8 302 1763.8 256.6 1763.8 281 1763.8 256.6 1763.9 315.6 1764.3 256.8 1764.4 305.8 1764.5 145.1 1764.8 281.6 1764.9 183.8 1765 176.5 1765.1 250.5 1765.1 330.6 1765.2 264.9 1765.2 208.5 1765.2 281.8 1765.4 187.6 1765.4 233 1765.5 306.4 1765.5 306.4 1765.5 304.9 1765.6 282 1765.7 245.4 1766.1 282.3 1766.1 257.9 1766.2 209 1766.2 267 1766.2 184.6 1766.2 209 1766.3 209.1 1766.3 306.9 1766.4 233.6 1766.5 159 1766.6 172.6 1766.7 209.3 1766.7 282.6 1766.8 184.9 1766.8 209.4 1766.9 240.7 1767 284.3 1767.2 298 1767.3 253.8 1767.3 234.1 1767.4 185.2 1767.5 307.5 1767.5 258.6 1767.6 209.8 1767.7 209.9 1767.8 161 1767.9 307.8 1768.1 283.4 1768.1 185.6 1768.2 185.7 1768.4 308 1768.4 308 1768.7 314.3 1768.7 288.1 1768.8 285.3 1768.8 308.3 1769.1 283.9 1769.1 308.4 1769.1 259.5 1769.1 186.2 1769.2 271.8 1769.3 186.5 1769.3 210.8 1769.4 244.2 1769.5 261.2 1769.5 284.2 1769.7 308.7 1769.7 272.6 1769.8 211 1769.9 333.3 1769.9 254.7 1770.1 333.4 1770.2 333.5 1770.4 260.2 1770.5 235.8 1771 235.3 1771 230.5 1771.1 334 1771.1 162.8 1771.2 315.9 1771.2 309.6 1771.3 248.5 1771.3 260.7 1771.4 260.8 1771.4 218.8 1771.5 260.8 1771.6 236.4 1771.7 236.5 1771.7 309.9 1771.9 212.2 1771.9 332.9 1772 285.6 1772.1 261.2 1772.1 274.4 1772.1 212.3 1772.2 310.1 1772.2 261.2 1772.3 334.7 1772.5 298.1 1772.5 249.2 1772.5 310.3 1772.7 310.4 1772.8 334.9 1772.9 176 1772.9 214.5 1772.9 261.6 1773 261.7 1773 310.6 1773 225 1773.1 310.6 1773.1 253.6 1773.1 212.9 1773.2 286.7 1773.2 261.8 1773.3 213 1773.5 237.5 1773.5 232.8 1773.6 213.1 1773.6 260.5 1773.7 228.5 1773.7 311 1773.7 311 1773.8 188.8 1773.9 291.2 1773.9 237.7 1773.9 213.3 1774 286.7 1774 188.9 1774.2 286.8 1774.3 311.3 1774.4 289.4 1774.5 287 1774.8 287.1 1774.8 271.9 1774.9 238.3 1774.9 255.1 1774.9 287.2 1775 299.5 1775.3 262.9 1775.3 355.3 1775.3 214.1 1775.5 259.6 1775.5 214.2 1775.7 312 1775.7 263.2 1775.7 287.6 1775.8 288.1 1776 190 1776 350.3 1776 312.2 1776.1 287.8 1776.3 239 1776.3 300.2 1776.5 252 1776.6 312.6 1776.9 276.1 1777 242.2 1777.1 312.9 1777.1 283.7 1777.2 154 1777.2 276.2 1777.2 215.1 1777.3 288.5 1777.3 337.4 1777.4 337.4 1777.4 245.1 1777.4 273.7 1777.5 313.1 1777.5 288.6 1777.6 239.8 1777.7 318.1 1777.8 215.4 1777.9 264.4 1778.3 250.5 1778.3 325.7 1778.3 256.3 1778.4 240.2 1778.5 325.9 1778.6 264.8 1778.6 215.9 1778.6 219.5 1778.7 210.4 1778.8 289.3 1779.1 265.1 1779.2 265.1 1779.3 167.4 1779.4 191.9 1779.5 240.8 1779.5 240.8 1779.6 262 1779.7 161.3 1779.8 265.4 1780.2 290.1 1780.2 265.7 1780.3 241.3 1780.4 277.1 1780.4 192.4 1780.5 192.5 1780.5 314.7 1780.5 339.5 1780.5 290.3 1780.6 241.5 1780.8 266 1780.9 217.1 1780.9 290.5 1781 324.1 1781.2 192.9 1781.3 204.6 1781.3 266.3 1781.4 315.2 1781.4 219.3 1781.4 217.4 1781.4 266.3 1781.6 217.5 1781.6 315.4 1781.7 242.1 1782.2 216.7 1782.3 193.5 1782.6 291.5 1782.7 315.9 1782.9 230.5 1783.2 340.7 1783.3 267.4 1783.4 204.4 1783.4 218.6 1783.5 224.9 1783.5 292 1783.7 267.6 1783.7 180.1 1783.8 243.2 1784 286.9 1784.1 267.8 1784.1 145.6 1784.1 235.6 1784.1 249.1 1784.1 218.9 1784.1 243.4 1784.2 219 1784.3 266.3 1784.3 263.7 1784.4 316.9 1784.7 293.5 1784.7 182.6 1784.8 341.6 1785.1 219.5 1785.1 195 1785.2 219.5 1785.4 317.5 1785.7 219.8 1785.7 219.8 1785.8 268.7 1785.8 219.9 1786.1 317.9 1786.2 293.4 1786.2 305.7 1786.3 220.1 1786.3 314 1786.4 342.5 1786.5 195.8 1786.7 265.1 1786.8 268.6 1787 293.9 1787.1 318.4 1787.3 227.6 1787.3 342.9 1787.3 294.1 1787.6 245.3 1787.6 172 1787.9 318.8 1788 221.1 1788 221.1 1788.2 306.8 1788.2 221.2 1788.3 123.9 1788.4 270.2 1788.4 245.8 1788.5 245.8 1788.6 319.2 1788.7 197 1788.7 326.6 1788.7 297.6 1788.8 244.9 1788.9 294.9 1788.9 172.7 1789.1 295 1789.1 295.1 1789.2 295.1 1789.2 172.9 1789.2 295.1 1789.3 253.1 1789.3 197.4 1789.4 258.5 1789.4 250.7 1789.5 319.7 1789.5 270.8 1789.6 319.8 1789.7 295.4 1790.1 320 1790.1 274.4 1790.1 197.8 1790.2 246.7 1790.3 199.4 1790.4 173.5 1790.5 246.9 1790.6 222.5 1790.7 344.8 1790.9 222.7 1791.1 259.9 1791.1 320.6 1791.1 210.6 1791.1 247.3 1791.2 296.4 1791.3 222.9 1791.3 241.4 1791.3 345.2 1791.4 285 1791.4 214.1 1791.4 271.9 1791.6 296.4 1791.7 223.2 1791.8 174.3 1791.9 296.6 1791.9 223.2 1792 272.2 1792 321.1 1792.1 277.8 1792.4 248 1792.5 223.6 1792.5 248 1792.5 223.6 1792.6 248.1 1792.7 321.5 1792.7 321.5 1792.7 223.7 1792.8 223.7 1792.9 223.8 1793 272.8 1793 199.4 1793.1 223.9 1793.6 297.6 1793.7 248.7 1793.8 273.2 1793.9 309.9 1794.2 273.4 1794.2 270.2 1794.2 189.7 1794.3 224.6 1794.3 297.9 1794.5 254.8 1794.5 249.1 1794.6 200.3 1794.6 127 1794.7 343 1794.7 273.7 1794.8 286 1794.9 273.8 1795 224.9 1795.1 322.8 1795.2 304.6 1795.3 225.1 1795.3 274 1795.3 249.6 1795.5 318.7 1795.6 217.2 1795.6 274.2 1795.7 226 1795.7 308.6 1795.9 323.3 1796.1 177.2 1796.2 250.1 1796.4 286.6 1796.5 274.7 1796.6 322.5 1796.7 236.9 1796.7 250.4 1796.8 274.8 1797 299.4 1797 233.6 1797.2 152.8 1797.3 250.7 1797.3 226.2 1797.5 324.1 1797.7 275.3 1797.7 202 1797.7 299.8 1797.7 202 1797.8 189.9 1797.9 226.6 1798.1 202.2 1798.6 226.9 1798.6 227 1798.8 324.9 1799 251.6 1799.2 251.7 1799.2 227.3 1799.2 336.3 1799.3 227.4 1799.3 300 1799.4 300.7 1799.4 325.2 1799.4 223.5 1799.5 264.1 1799.6 252 1799.6 300.9 1799.7 276.5 1799.7 276.5 1799.7 203.1 1799.8 203.2 1799.9 227.7 1800 227.7 1800 227.7 1800 227.8 1800.1 213.1 1800.1 276.7 1800.3 276.8 1800.5 293.2 1800.5 253.1 1800.5 276.9 1800.6 301.4 1800.7 269.2 1800.7 277 1800.7 252.6 1800.8 270.4 1800.8 191.5 1800.8 228.2 1801.1 228.3 1801.1 301.7 1801.2 198.3 1801.3 301.8 1801.3 197.1 1801.4 301.8 1801.4 301.9 1801.4 253 1801.4 350.8 1801.6 204.2 1801.6 308.7 1801.8 302.1 1801.8 204.3 1801.8 326.5 1801.9 302.1 1802 326.6 1802 253.3 1802.1 155.5 1802.3 216.8 1802.4 201.2 1802.4 229 1802.4 300.2 1802.6 302.5 1802.7 229.2 1802.7 193 1802.7 302.7 1802.8 278.2 1802.8 229.3 1802.8 278.2 1803.2 217.3 1803.2 278.4 1803.5 197.8 1803.6 193.1 1803.7 278.7 1803.9 290 1804 352.2 1804 327.8 1804.1 254.4 1804.2 230 1804.4 230.2 1804.4 328 1804.6 230.3 1804.8 267.1 1804.9 230.4 1805.1 242.8 1805.3 304 1805.6 255.3 1805.8 279.8 1805.9 231 1805.9 255.5 1806.1 182.2 1806.2 182.3 1806.3 260.2 1806.6 170.3 1806.7 255.9 1806.9 329.4 1807 256 1807 305 1807.1 280.6 1807.1 231.7 1807.2 329.5 1807.3 231.7 1807.3 256.2 1807.3 224.2 1807.4 280.7 1807.7 183.1 1807.8 305.4 1807.8 232.1 1807.8 207.6 1807.9 256.5 1807.9 232.1 1808 256.6 1808.4 207.9 1808.4 305.7 1808.5 232.4 1808.5 232.5 1808.5 256.9 1808.6 248.5 1808.6 291.4 1808.6 257 1808.7 281.4 1808.7 252.6 1808.8 281.5 1809 281.6 1809.1 232.8 1809.4 294.1 1809.5 306.3 1809.5 308.9 1809.5 208.5 1809.5 322.5 1809.6 282.3 1809.7 257.6 1809.9 257.7 1810 159.9 1810.4 257.9 1810.4 236.5 1810.5 331.3 1810.5 331.3 1810.6 319.2 1810.7 282.5 1810.8 209.3 1810.9 209.3 1811.3 234 1811.4 234.1 1811.5 288.8 1811.5 283 1811.6 258.6 1811.8 234.2 1812.1 155 1812.1 210 1812.2 283.4 1812.4 259 1812.4 234.6 1812.4 210.1 1812.4 234.6 1812.4 136.8 1812.5 283.6 1812.6 210.3 1812.7 283.6 1812.9 283.8 1813 271.6 1813.1 173.9 1813.2 283.9 1813.3 332.9 1813.3 308.5 1813.4 186.2 1813.4 259.6 1813.7 308.6 1813.7 259.8 1813.7 308.7 1813.8 235.4 1814 308.9 1814.1 284.4 1814.2 293.2 1814.3 284.5 1814.4 245.5 1814.6 321.4 1814.6 235.8 1814.6 260.3 1815 294.2 1815.1 272.8 1815.1 309.5 1815.2 187.2 1815.2 211.7 1815.2 211.7 1815.2 260.6 1815.4 309.6 1815.5 314.7 1815.5 236.3 1815.5 260.8 1815.5 236.3 1815.5 260.8 1815.6 211.9 1815.6 225.6 1815.7 310.6 1815.9 261 1815.9 212.1 1816.1 138.8 1816.1 334.5 1816.2 236.7 1816.4 269.9 1816.4 310.2 1816.5 236.9 1816.7 310.3 1817.1 310.5 1817.1 255 1817.2 212.8 1817.2 237.3 1817.3 261.7 1817.3 237.3 1817.5 212.9 1817.6 261.9 1817.9 268.5 1817.9 188.8 1818.6 262.5 1818.7 287 1818.8 189.2 1818.8 287 1818.8 315.7 1819 287.2 1819.1 262.7 1819.1 250.5 1819.1 336.1 1819.2 238.4 1819.3 238.4 1819.4 311.8 1819.5 322.5 1819.5 287.4 1819.7 312 1819.7 214.2 1820 192.4 1820 214.4 1820 263.7 1820.2 263.3 1820.5 312.4 1820.7 288.1 1820.8 255.3 1820.9 337.1 1820.9 202.6 1821 252.1 1821 190.5 1821 263.8 1821.2 288.4 1821.5 243.4 1821.5 239.6 1821.7 295.2 1822 264.3 1822.1 268.2 1822.2 252.2 1822.2 240 1822.3 215.6 1822.3 276.8 1822.3 343.9 1822.4 289 1822.7 154.7 1822.7 262.6 1822.8 228.1 1823 313.8 1823 240.5 1823.1 313.9 1823.2 240.6 1823.3 216.2 1823.4 338.5 1823.5 314.1 1823.6 265.3 1823.7 338.7 1823.9 289.9 1824 216.6 1824 328.6 1824.2 290 1824.3 314.5 1824.3 265.7 1824.5 167.9 1824.5 265.8 1824.5 314.7 1824.7 276.1 1824.7 268.9 1824.7 265.9 1824.8 290.3 1824.8 241.5 1824.9 217.1 1825.1 215.7 1825.1 192.2 1825.2 241.7 1825.3 156.2 1825.3 315.1 1825.4 258.1 1825.5 312.9 1825.6 220.1 1825.7 178 1825.9 242.1 1826 242.1 1826.1 340 1826.1 278.9 1826.4 217.9 1826.4 278.1 1826.4 315.7 1826.6 291.3 1826.7 242.5 1826.9 242.6 1827.1 291.7 1827.3 267.3 1827.4 316.3 1827.4 194 1827.5 242.9 1827.5 243.1 1827.6 218.5 1827.6 291.9 1827.8 316.5 1827.8 316.5 1828 218.8 1828.3 280.1 1828.5 316.9 1828.6 211.5 1828.7 243.6 1828.7 243.6 1828.9 243.7 1829.1 221.5 1829.9 268.7 1830 244.3 1830.1 244.4 1830.1 244.4 1830.2 281.1 1830.2 273.7 1830.2 317.8 1830.3 256.7 1830.3 195.6 1830.3 220.1 1830.3 269 1830.4 297.9 1830.8 239.4 1830.8 236.4 1831 293.8 1831 318.3 1831.1 245 1831.2 293.9 1831.3 245 1831.3 269.5 1831.5 294.1 1831.5 220.7 1831.7 261.3 1831.8 220.9 1831.8 269.8 1831.9 221 1831.9 343.2 1832 391.7 1832 245.4 1832.2 294.4 1832.3 319 1832.4 270.1 1832.5 196.8 1832.6 343.6 1832.7 308.3 1832.7 270.3 1832.7 294.7 1832.7 167.2 1832.8 307.7 1832.8 267 1833 268.9 1833.4 270.7 1833.4 326 1833.6 270.8 1833.8 222 1833.8 197.5 1833.9 222 1834 246.6 1834.1 295.5 1834.2 271.1 1834.2 234.4 1834.4 173.7 1834.5 348.3 1834.6 283.6 1834.7 271.4 1834.7 336 1834.8 222.5 1835 207.9 1835 317.1 1835.3 296.2 1835.4 271.8 1835.5 235.4 1835.6 223 1835.6 259.7 1835.6 323.9 1835.7 272 1835.8 272 1835.8 247.6 1835.9 247.6 1836 198.7 1836.3 198.9 1836.4 231 1836.5 272.4 1836.6 219.6 1836.6 161.5 1836.7 248 1836.7 297 1836.9 297.1 1836.9 272.6 1837 321.6 1837.2 321.7 1837.3 157.7 1837.5 199.6 1838.1 236.1 1838.1 322.2 1838.2 224.4 1838.3 224.5 1838.3 273.4 1838.3 322.3 1838.3 322.3 1838.4 310.1 1838.5 249.1 1838.5 271.2 1838.6 273.6 1838.7 249.1 1839.1 249.4 1839.1 273.8 1839.1 298.3 1839.3 273.9 1839.4 298.5 1839.5 310.7 1839.7 225.3 1839.8 274.2 1839.9 225.4 1840 274.3 1840.1 323.3 1840.3 237.8 1840.4 274.5 1840.4 250.1 1840.4 250.1 1840.8 274.8 1841 250.4 1841.1 240.5 1841.2 275 1841.2 250.6 1841.3 250.6 1841.3 299.5 1841.4 275.1 1841.8 226.5 1841.9 250.9 1841.9 177.6 1842.2 251.1 1842.4 324.5 1842.9 202.6 1843.3 251.7 1843.4 178.4 1843.7 215.2 1843.8 252 1843.9 245 1844 203.2 1844.3 252.2 1844.3 227.8 1844.5 185.7 1844.5 252.4 1844.8 179.2 1845 252.6 1845 252.6 1845 301.5 1845.3 301.7 1845.5 228.5 1845.6 253 1845.6 253 1845.8 253.1 1845.9 277.6 1846.2 253.3 1846.6 281.8 1846.8 237.4 1846.8 236.5 1847.1 278.3 1847.3 236.6 1847.4 205.1 1847.5 205.1 1847.7 251.7 1847.8 168.6 1847.9 278.7 1848.2 230 1848.3 254.5 1848.9 182.7 1849 159.1 1849 240.8 1849.1 279.4 1849.4 242.9 1849.5 279.6 1849.6 230.7 1849.6 205.3 1849.6 255.2 1850 279.9 1850 318 1850.4 284.4 1850.4 341.2 1850.5 255.7 1850.7 329.2 1850.8 234 1851 280.4 1851 231.5 1851.1 231.6 1851.2 231.6 1851.3 231.7 1851.4 256.2 1851.4 231.8 1851.5 190.6 1851.6 256.3 1851.8 207.5 1851.8 280.9 1852.4 256.7 1852.5 232.4 1852.8 281.4 1852.8 230 1853.7 281.9 1853.7 281.9 1853.8 306.4 1853.9 257.6 1854.1 624.4 1854.9 209.2 1855.3 258.4 1855.4 220.7 1855.5 258.5 1855.6 331.9 1855.8 283.1 1855.8 293.2 1855.8 161.3 1856.2 197.1 1856.2 185.5 1856.2 249.3 1856.2 283.3 1856.4 205.2 1856.6 234.6 1856.7 185.8 1856.8 283.6 1856.9 259.2 1857.3 283.9 1857.4 308.4 1857.4 235.1 1857.5 259.6 1857.5 213.8 1857.8 259.7 1857.8 210.9 1858.3 217.6 1858.3 260 1858.5 162.7 1858.7 260.3 1858.9 284.8 1859 333.8 1859.2 260.5 1859.5 286.7 1859.7 285.2 1859.9 285.4 1860.1 261 1860.2 310 1860.3 284.5 1860.4 249 1860.6 236.8 1860.6 212.4 1860.7 298 1860.7 261.3 1860.7 270.8 1860.8 236.9 1860.8 261.4 1860.9 237 1861.1 302.5 1861.3 188.3 1861.8 286.4 1862 274.3 1862.1 237.7 1862.4 237.8 1862.5 286.8 1862.6 237.9 1862.8 287 1862.9 287.7 1862.9 274.8 1863.2 284.3 1863.2 213.9 1863.3 262.8 1863.8 287.5 1863.9 214.2 1864.1 238.8 1864.3 300 1864.3 287.8 1864.5 312.4 1864.5 263.5 1864.8 239.1 1865 288.2 1865.2 215 1865.4 239.5 1865.6 313 1865.6 264.1 1865.7 263.5 1865.7 269.6 1865.7 251.9 1866.3 288.9 1866.4 264.5 1866.6 289.1 1866.6 289.1 1866.7 191.3 1867.1 264.9 1867.3 289.5 1867.4 289.5 1867.8 253 1867.9 265.3 1868.3 228.2 1868.5 302.4 1868.6 216.8 1868.7 282.7 1868.7 302.4 1869 209 1869.2 192.7 1869.3 290.5 1869.7 217.6 1870.3 266.7 1870.6 242.4 1870.7 242.4 1870.8 242.5 1870.8 291.4 1870.9 193.6 1871 267 1871.2 218.3 1871.3 242.8 1871.5 267.3 1871.6 194 1872.2 267.7 1872.5 267.9 1872.7 268 1872.9 341.5 1873 268.2 1873.1 280.4 1873.7 293 1873.8 293.1 1874.3 293.3 1874.7 293.5 1874.8 269.2 1875.2 269.4 1875.3 217.4 1875.4 220.6 1875.6 245.2 1875.7 269.7 1875.8 257.5 1875.8 294.1 1875.9 294.2 1876 245.4 1876.4 294.5 1876.4 270 1876.4 270 1876.5 247.7 1876.5 221.2 1876.7 252.1 1877.3 246.1 1877.3 270.5 1877.4 295 1877.5 282.9 1877.6 282.9 1877.9 204.9 1878.2 336.9 1879.1 247.1 1879.6 186.9 1879.7 223 1879.8 271.9 1880.5 296.8 1880.7 272.4 1881.2 260.4 1881.2 199.4 1881.3 272.7 1881.6 224 1881.7 273 1881.7 236.3 1881.7 297.4 1881.8 248.6 1882 181.7 1882.4 297.8 1882.5 249 1883.1 205.5 1883.3 198.1 1883.3 188.3 1883.6 298.5 1884 324.7 1884 200.9 1884.1 274.3 1884.2 286.6 1884.4 274.4 1885.4 234.8 1885.8 238.6 1885.9 279.2 1885.9 299.8 1885.9 214.2 1886 287.6 1886.3 275.5 1886.3 287.7 1886.7 251.3 1886.9 275.9 1887.3 207.3 1887.3 258.2 1887.4 227.2 1888.2 252.1 1888.3 276.6 1888.3 276.6 1888.3 252.2 1888.4 276.7 1889.2 228.2 1889.3 252.8 1889.4 277.2 1889.4 252.8 1889.4 203.9 1889.5 301.7 1889.7 242.8 1890.4 290 1890.5 253.4 1890.8 204.7 1891.2 278.2 1891.7 278.5 1891.7 278.5 1892.2 303.3 1892.3 303.3 1892.9 303.6 1893.2 279.3 1894.2 279.9 1894.2 304.3 1894.7 280.2 1894.9 280.3 1895 231.5 1895.4 280.6 1896.8 305.8 1897 213.9 1897.1 281.5 1897.6 208.4 1897.7 245.2 1898.2 257.7 1898.3 233.5 1898.4 233.3 1898.5 282.3 1898.8 258 1898.9 282.5 1899.2 258.2 1899.4 282.8 1899.5 307.3 1899.9 258.6 1900.3 234.4 1900.6 283.5 1900.9 283.6 1901.5 227.9 1901.9 235.3 1902.4 284.4 1902.4 284.4 1902.6 235.6 1902.7 251.1 1902.8 235.8 1903.1 284.8 1903.1 284.8 1903.4 236.1 1903.6 211.7 1903.6 285.1 1904 285.3 1904.1 260.9 1904.3 212.1 1905.8 310.8 1905.8 237.4 1906.7 286.8 1907.2 260.8 1907.4 213.9 1907.5 238.4 1907.6 287.3 1907.7 311.8 1907.9 287.5 1908.4 279.5 1908.7 214.6 1909 288.1 1909.1 288.1 1909.2 288.2 1909.3 239.4 1910.1 264.3 1910.3 264.4 1911.8 277.4 1911.9 191.9 1912.2 302.1 1912.9 290.2 1913.1 290.4 1913.6 311 1913.7 290.7 1913.8 266.3 1913.9 241.9 1913.9 217.5 1914.3 193.3 1915.5 291.7 1915.9 291.9 1916.1 246 1916.6 243.4 1916.8 292.4 1917.6 219.5 1918.1 219.8 1918.5 268.9 1918.5 312.8 1919.1 269.2 1920.3 294.4 1920.4 245.5 1920.6 294.5 1920.7 294.6 1921.4 282.8 1922.9 285.5 1923.2 234.8 1923.4 296 1923.4 271.6 1923.6 229.7 1924.5 223.3 1924.6 223.4 1925.7 199.5 1925.9 273 1926.5 224.5 1926.6 248.9 1927.7 298.5 1928.7 250.1 1930 299.7 1930.8 226.8 1932.2 252 1933.4 277.2 1933.5 301.7 1936 229.7 1937.4 254.9 1938.1 255.3 1939.6 256.1 1941.1 244.7 1942.7 257.8 1943.9 246.3 1944.3 258.7 1950 310.8 1950.1 261.9 1952.2 250.9 1953.5 263.8 1956.6 216.7 1958.5 263.7 1962.3 268.7 1962.7 244.5 1962.7 244.5 1964.6 227.4 1966 246.3 1971.1 273.6 1973.3 372.6 1981.5 230.5 1990.9 235.7 2019.2 202.4" fill="none" marker-start="url(#m)" marker-mid="url(#m)" marker-end="url(#m)"/></g>
<path d="M130.95 49V651.9M88.1 624.9H1018.9M323.22 49V651.9M88.1 500.12H1018.9M515.5 49V651.9M88.1 375.35H1018.9M707.77 49V651.9M88.1 250.57H1018.9M900.05 49V651.9M88.1 125.8H1018.9M1160.9 49V651.9M1271.28 49V651.9M1381.65 49V651.9M1492.03 49V651.9M1602.4 49V651.9M1712.78 49V651.9M1823.15 49V651.9M1933.53 49V651.9M2043.9 49V651.9M1131.2 631.75H2061.9M1131.2 509.5H2061.9M1131.2 387.25H2061.9M1131.2 265H2061.9M1131.2 142.75H2061.9" stroke="#b0b0b0" stroke-opacity="0.3" stroke-width="1.67" fill="none"/>
<path d="M130.95 651.9v7.29M88.1 624.9h-7.29M323.22 651.9v7.29M88.1 500.12h-7.29M515.5 651.9v7.29M88.1 375.35h-7.29M707.77 651.9v7.29M88.1 250.57h-7.29M900.05 651.9v7.29M88.1 125.8h-7.29M1160.9 651.9v7.29M1271.28 651.9v7.29M1381.65 651.9v7.29M1492.03 651.9v7.29M1602.4 651.9v7.29M1712.78 651.9v7.29M1823.15 651.9v7.29M1933.53 651.9v7.29M2043.9 651.9v7.29M1131.2 631.75h-7.29M1131.2 509.5h-7.29M1131.2 387.25h-7.29M1131.2 265h-7.29M1131.2 142.75h-7.29" stroke="#000" stroke-width="1.67" fill="none"/>
<path d="M130.95 624.9L976.96 75.89" stroke="#ff0000" stroke-width="4.17" stroke-dasharray="15.42 6.67" fill="none"/>
<path d="M1131.2 265H2061.9" stroke="#ff0000" stroke-width="4.17" stroke-dasharray="15.42 6.67" fill="none"/>
<path d="M88.1 49H1018.9V651.9H88.1ZM1131.2 49H2061.9V651.9H1131.2Z" stroke="#000" stroke-width="1.67" fill="none" stroke-linejoin="miter" stroke-linecap="square"/>
<rect x="98.9" y="58.7" width="259.2" height="37.1" rx="4" ry="4" fill="#fff" fill-opacity="0.8" stroke="#cccccc" stroke-opacity="0.8" stroke-width="1.7"/>
<path d="M106.8 75.9H148.5" stroke="#ff0000" stroke-width="4.17" stroke-dasharray="15.42 6.67" fill="none"/>
<text x="164.9" y="84.3" font-size="21.9" text-anchor="start" textLength="184.5" lengthAdjust="spacingAndGlyphs">Perfect prediction</text><text x="554.3" y="37" font-size="30.6" text-anchor="middle" textLength="518" lengthAdjust="spacingAndGlyphs">Random Forest: Predicted vs Actual</text><text x="1597" y="37" font-size="30.6" text-anchor="middle" textLength="377.25" lengthAdjust="spacingAndGlyphs">Random Forest: Residuals</text><text x="553.9" y="715.1" font-size="26.2" text-anchor="middle" textLength="198.5" lengthAdjust="spacingAndGlyphs">Actual Difficulty</text><text x="1596.6" y="715.1" font-size="26.2" text-anchor="middle" textLength="237.75" lengthAdjust="spacingAndGlyphs">Predicted Difficulty</text><text x="33.1" y="352.2" font-size="26.2" text-anchor="middle" textLength="237.75" lengthAdjust="spacingAndGlyphs" transform="rotate(-90 33.1 352.2)">Predicted Difficulty</text><text x="1058.9" y="352.7" font-size="26.2" text-anchor="middle" textLength="354.12" lengthAdjust="spacingAndGlyphs" transform="rotate(-90 1058.9 352.7)">Residual (Actual - Predicted)</text><text x="130.95" y="684.2" font-size="21.9" text-anchor="middle" textLength="26.5" lengthAdjust="spacingAndGlyphs">10</text><text x="73.6" y="632.5" font-size="21.9" text-anchor="end" textLength="26.5" lengthAdjust="spacingAndGlyphs">10</text><text x="323.22" y="684.2" font-size="21.9" text-anchor="middle" textLength="26.5" lengthAdjust="spacingAndGlyphs">15</text><text x="73.6" y="507.73" font-size="21.9" text-anchor="end" textLength="26.5" lengthAdjust="spacingAndGlyphs">15</text><text x="515.5" y="684.2" font-size="21.9" text-anchor="middle" textLength="26.5" lengthAdjust="spacingAndGlyphs">20</text><text x="73.6" y="382.95" font-size="21.9" text-anchor="end" textLength="26.5" lengthAdjust="spacingAndGlyphs">20</text><text x="707.77" y="684.2" font-size="21.9" text-anchor="middle" textLength="26.5" lengthAdjust="spacingAndGlyphs">25</text><text x="73.6" y="258.18" font-size="21.9" text-anchor="end" textLength="26.5" lengthAdjust="spacingAndGlyphs">25</text><text x="900.05" y="684.2" font-size="21.9" text-anchor="middle" textLength="26.5" lengthAdjust="spacingAndGlyphs">30</text><text x="73.6" y="133.4" font-size="21.9" text-anchor="end" textLength="26.5" lengthAdjust="spacingAndGlyphs">30</text><text x="1160.9" y="684.2" font-size="21.9" text-anchor="middle" textLength="46.38" lengthAdjust="spacingAndGlyphs">10.0</text><text x="1271.28" y="684.2" font-size="21.9" text-anchor="middle" textLength="46.38" lengthAdjust="spacingAndGlyphs">12.5</text><text x="1381.65" y="684.2" font-size="21.9" text-anchor="middle" textLength="46.38" lengthAdjust="spacingAndGlyphs">15.0</text><text x="1492.03" y="684.2" font-size="21.9" text-anchor="middle" textLength="46.38" lengthAdjust="spacingAndGlyphs">17.5</text><text x="1602.4" y="684.2" font-size="21.9" text-anchor="middle" textLength="46.38" lengthAdjust="spacingAndGlyphs">20.0</text><text x="1712.78" y="684.2" font-size="21.9" text-anchor="middle" textLength="46.38" lengthAdjust="spacingAndGlyphs">22.5</text><text x="1823.15" y="684.2" font-size="21.9" text-anchor="middle" textLength="46.38" lengthAdjust="spacingAndGlyphs">25.0</text><text x="1933.53" y="684.2" font-size="21.9" text-anchor="middle" textLength="46.38" lengthAdjust="spacingAndGlyphs">27.5</text><text x="2043.9" y="684.2" font-size="21.9" text-anchor="middle" textLength="46.38" lengthAdjust="spacingAndGlyphs">30.0</text><text x="1116.6" y="639.35" font-size="21.9" text-anchor="end" textLength="44" lengthAdjust="spacingAndGlyphs">−15</text><text x="1116.6" y="517.1" font-size="21.9" text-anchor="end" textLength="44" lengthAdjust="spacingAndGlyphs">−10</text><text x="1116.6" y="394.85" font-size="21.9" text-anchor="end" textLength="30.75" lengthAdjust="spacingAndGlyphs">−5</text><text x="1116.6" y="272.6" font-size="21.9" text-anchor="end" textLength="13.25" lengthAdjust="spacingAndGlyphs">0</text><text x="1116.6" y="150.35" font-size="21.9" text-anchor="end" textLength="13.25" lengthAdjust="spacingAndGlyphs">5</text>
</svg>
</body></html>
